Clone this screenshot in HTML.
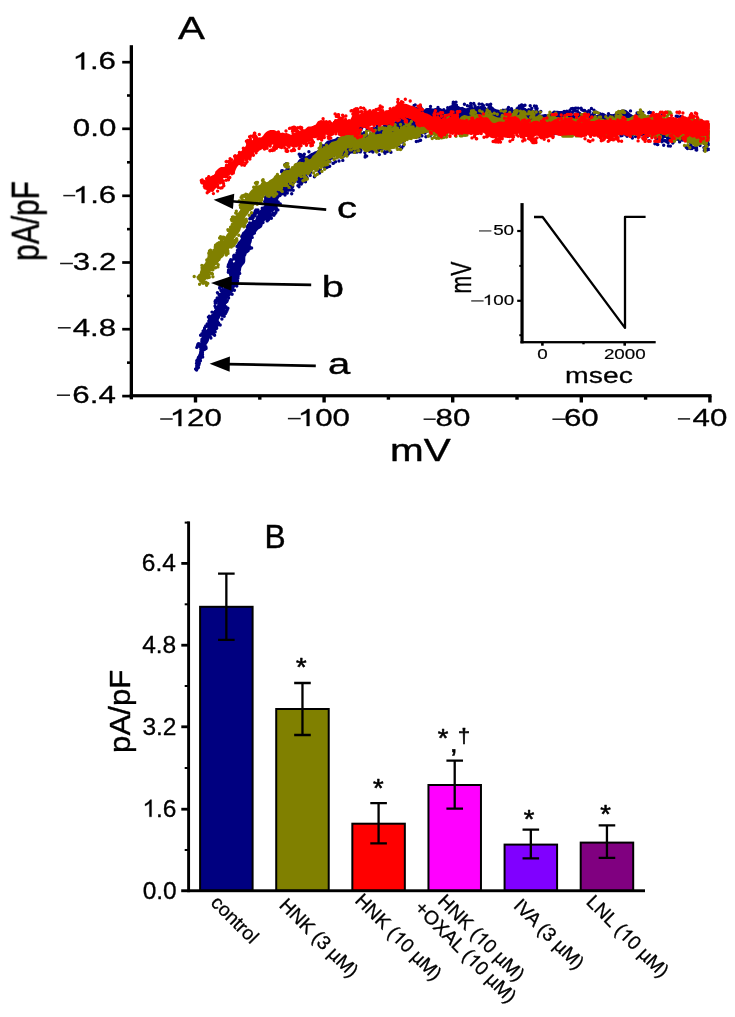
<!DOCTYPE html>
<html><head><meta charset="utf-8"><title>Figure</title>
<style>html,body{margin:0;padding:0;background:#fff;}svg{display:block;}text{font-family:"Liberation Sans",sans-serif;fill:#000;}</style>
</head><body>
<svg width="735" height="1017" viewBox="0 0 735 1017">
<rect width="735" height="1017" fill="#fff"/>
<defs><clipPath id="cpA"><rect x="0" y="0" width="709.8" height="440"/></clipPath></defs>
<g clip-path="url(#cpA)"><path d="M197.7 369.2 198.0 368.3 198.3 367.5 198.6 366.6 198.8 365.8 199.0 364.9 199.3 364.1 199.5 363.2 199.7 362.4 199.8 361.5 200.0 360.7 200.1 359.8 200.3 358.9 200.5 358.1 200.8 357.2 201.1 356.4 201.4 355.6 201.8 354.8 202.2 354.0 202.6 353.2 203.0 352.4 203.4 351.6 203.7 350.8 204.0 350.0 204.2 349.2 204.5 348.4 204.9 347.6 205.2 346.8 205.6 346.1 206.1 345.3 206.6 344.6 207.0 343.9 207.5 343.2 208.0 342.5 208.4 341.7 208.8 341.0 209.0 340.1 209.2 339.3 209.3 338.4 209.5 337.5 209.7 336.6 210.1 335.8 210.7 335.1 211.3 334.4 212.1 333.8 212.9 333.1 213.7 332.5 214.5 331.9 215.2 331.2 215.8 330.5 216.2 329.7 216.6 328.9 217.0 328.1 217.3 327.3 217.7 326.5 217.7 325.6 217.6 324.6 217.5 323.6 217.5 322.6 217.7 321.7 218.0 320.9 218.4 320.1 218.8 319.4 219.3 318.6 219.7 317.9 220.1 317.1 220.4 316.3 220.8 315.5 221.2 314.8 221.7 314.0 222.2 313.3 222.8 312.6 223.4 311.9 224.0 311.2 224.5 310.5 225.0 309.8 225.4 308.9 225.6 308.0 225.7 307.1 225.7 306.0 225.6 305.0 225.5 303.9 225.5 302.9 225.6 302.0 225.8 301.1 226.2 300.2 226.7 299.5 227.3 298.7 227.8 298.0 228.3 297.2 228.7 296.5 229.0 295.7 229.4 295.0 229.9 294.3 230.6 293.7 231.4 293.1 232.2 292.6 232.8 292.0 233.2 291.3 233.5 290.5 233.7 289.6 234.0 288.8 234.3 287.9 234.7 287.1 235.3 286.4 235.9 285.6 236.2 284.8 236.6 283.9 237.0 283.0 237.3 282.1 237.7 281.3 238.0 280.4 238.3 279.6 238.7 278.7 239.0 277.9 239.2 277.1 239.4 276.2 239.5 275.3 239.7 274.4 239.9 273.6 240.2 272.8 240.5 272.0 240.8 271.1 241.0 270.3 241.1 269.4 241.2 268.6 241.4 267.7 241.7 266.9 242.2 266.2 242.7 265.5 243.4 264.8 244.0 264.1 244.5 263.4 245.0 262.6 245.2 261.7 245.3 260.8 245.3 259.8 245.3 258.8 245.3 257.8 245.4 256.9 245.6 255.9 245.9 255.1 246.1 254.2 246.5 253.4 246.9 252.6 247.3 251.8 247.8 251.0 248.3 250.3 248.7 249.5 249.0 248.7 249.3 247.9 249.5 247.0 249.6 246.2 249.9 245.4 250.2 244.6 250.6 243.9 251.1 243.2 251.5 242.4 251.7 241.6 251.9 240.8 251.9 239.9 252.0 239.0 252.1 238.1 252.4 237.3 252.7 236.5 253.2 235.8 253.7 235.2 254.2 234.5 254.8 233.9 255.3 233.2 255.8 232.5 256.3 231.9 256.7 231.2 257.1 230.5 257.7 229.9 258.3 229.3 259.1 228.9 260.0 228.5 260.8 228.0 261.5 227.5 262.0 226.8 262.4 226.0 262.6 225.0 262.9 224.1 263.2 223.2 263.5 222.4 264.0 221.7 264.5 221.0 265.1 220.4 265.7 219.7 266.2 219.0 266.6 218.2 267.0 217.4 267.5 216.7 268.1 216.0 268.7 215.4 269.5 214.8 270.2 214.1 270.9 213.5 271.5 212.7 272.1 212.0 272.8 211.3 273.6 210.7 274.4 210.1 275.1 209.5 275.7 208.8 276.0 208.0 276.1 207.1 276.2 206.1 276.2 205.1 276.3 204.2 276.5 203.4 276.8 202.7 277.2 201.9 277.5 201.2 277.9 200.4 278.2 199.5 278.5 198.7 278.9 197.9 279.5 197.3 280.1 196.6 280.7 196.0 281.7 195.6 282.7 195.3 283.7 194.9 284.6 194.5 285.3 193.9 286.0 193.2 286.6 192.4 287.2 191.7 287.7 190.9 288.1 190.1 288.7 189.4 289.3 188.7 290.0 188.2 290.9 187.7 291.8 187.3 292.5 186.9 293.1 186.4 293.5 185.7 293.7 184.9 293.6 183.9 293.4 182.8 293.3 181.8 293.5 181.0 294.1 180.7 295.0 180.7 296.1 181.0 297.2 181.4 298.3 181.7 299.2 181.8 300.0 181.7 300.7 181.4 301.4 180.9 302.1 180.3 302.9 179.6 303.6 178.8 304.4 178.0 305.0 177.2 305.5 176.5 306.0 175.6 306.5 174.8 307.0 174.0 307.5 173.2 308.1 172.5 308.8 172.0 309.6 171.5 310.3 171.1 311.1 170.6 311.8 170.1 312.5 169.6 313.4 169.3 314.3 169.0 315.3 168.8 316.3 168.4 317.1 168.0 317.7 167.4 318.4 166.8 319.0 166.2 319.8 165.7 320.5 165.2 321.4 164.8 322.2 164.5 323.0 164.1 323.8 163.7 324.5 163.3 325.2 162.9 325.9 162.4 326.6 161.9 327.3 161.5 328.1 161.2 328.8 160.8 329.5 160.4 330.1 159.9 330.6 159.2 331.0 158.3 331.3 157.4 331.5 156.4 331.9 155.5 332.3 154.8 332.8 154.3 333.4 153.9 334.1 153.7 334.8 153.7 335.4 153.6 336.1 153.6 336.7 153.4 337.4 153.1 338.1 152.7 338.9 152.3 339.7 152.2 340.5 152.3 341.5 153.0 342.5 154.0 343.7 155.2 345.0 156.3 346.3 157.0 347.4 157.1 348.1 156.6 348.8 155.8 349.5 154.9 350.2 154.1 351.0 153.6 351.9 153.5 352.8 153.6 353.8 153.8 354.8 153.9 355.7 153.8 356.6 153.2 357.3 152.3 358.1 151.3 358.8 150.1 359.5 149.3 360.4 149.1 361.3 148.9 362.1 148.7 363.0 148.5 363.9 148.5 364.8 148.8 365.8 148.9 366.7 149.1 367.7 149.3 368.7 149.6 369.7 150.1 370.8 150.6 371.9 151.1 372.9 151.5 373.9 151.6 374.7 151.2 375.5 150.5 376.1 149.5 376.8 148.5 377.5 147.7 378.4 147.3 379.3 147.4 380.5 147.8 381.6 148.4 382.7 148.8 383.8 149.0 384.8 149.0 385.7 148.7 386.5 148.0 387.2 147.0 387.8 145.8 388.5 144.6 389.2 143.6 389.9 142.9 390.8 142.5 391.9 142.3 392.9 142.1 393.9 142.0 394.9 141.9 395.9 141.7 396.9 141.5 397.8 141.2 398.7 141.0 399.6 140.6 400.4 140.3 401.3 140.1 402.2 139.9 403.1 139.7 403.9 139.4 404.6 139.0 405.2 138.6 405.9 138.2 406.6 137.7 407.1 137.2 407.6 136.7 408.1 136.0 408.7 135.3 409.3 134.7 410.0 134.0 410.6 133.5 411.3 132.9 412.0 132.4 412.8 131.9 413.6 131.6 414.4 131.5 415.4 131.6 416.3 131.9 417.3 132.2 418.2 132.3 419.0 132.3 419.9 132.2 420.7 132.2 421.6 132.5 422.6 133.0 423.5 133.4 424.4 133.6 425.1 133.3 425.8 132.9 426.3 131.8 426.7 130.6 427.3 129.2 427.8 127.9 428.4 126.8 429.1 126.0 429.8 125.5 430.6 125.1 431.5 125.0 432.3 124.9 433.2 124.9 434.1 124.9 434.9 125.0 435.8 125.1 436.7 125.2 437.5 125.3 438.3 125.2 439.2 125.0 439.9 124.7 440.7 124.3 441.6 124.1 442.4 124.2 443.2 124.5 444.1 124.9 445.0 125.4 445.8 125.7 446.7 125.7 447.4 125.3 448.2 124.7 449.0 123.8 449.7 122.8 450.4 122.0 451.3 121.4 452.1 120.9 452.9 120.6 453.7 120.5 454.6 120.5 455.4 120.5 456.3 120.5 457.1 120.7 457.9 121.2 458.8 121.6 459.6 122.0 460.5 122.1 461.3 122.3 462.2 122.4 463.0 122.7 463.8 122.9 464.7 123.1 465.6 123.0 466.5 122.9 467.4 122.5 468.3 122.2 469.2 122.0 470.1 121.9 470.9 122.1 471.8 122.5 472.7 123.1 473.5 123.6 474.4 124.1 475.3 124.4 476.2 124.3 477.1 123.9 478.1 123.3 479.0 122.5 479.9 121.7 480.8 121.3 481.7 121.4 482.6 121.4 483.5 121.4 484.3 121.8 485.2 122.5 486.1 123.0 487.0 123.3 487.9 123.3 488.7 123.0 489.6 122.5 490.5 122.1 491.4 121.8 492.3 121.8 493.2 122.0 494.0 122.5 494.9 123.0 495.8 123.4 496.7 123.7 497.5 123.9 498.4 124.1 499.3 124.5 500.1 125.1 501.0 125.9 501.9 126.8 502.7 127.5 503.6 127.5 504.5 127.5 505.3 127.5 506.2 127.6 507.1 127.6 507.9 127.6 508.8 127.5 509.7 126.6 510.6 125.8 511.5 125.1 512.4 124.6 513.3 124.3 514.1 124.2 515.0 124.1 515.9 124.2 516.7 124.3 517.6 124.3 518.5 124.1 519.4 123.9 520.2 123.6 521.1 123.2 522.0 122.9 522.9 122.7 523.7 122.6 524.6 122.7 525.5 123.1 526.3 123.6 527.1 124.1 528.0 124.5 528.8 124.9 529.7 125.2 530.5 125.3 531.4 125.4 532.3 125.5 533.1 125.7 534.0 126.0 534.8 126.4 535.6 127.0 536.5 127.6 537.3 128.2 538.1 128.7 539.0 129.0 539.9 129.0 540.8 128.9 541.7 128.7 542.6 128.5 543.5 128.3 544.4 128.4 545.2 128.5 546.1 128.7 547.0 128.7 547.9 128.5 548.8 128.1 549.8 127.3 550.8 126.4 551.7 125.5 552.7 124.9 553.5 124.9 554.4 125.0 555.3 125.0 556.2 125.1 557.1 125.2 558.0 125.2 558.9 125.3 559.8 125.3 560.7 125.4 561.5 125.4 562.4 126.0 563.3 126.4 564.2 126.8 565.0 126.9 565.9 126.9 566.8 126.8 567.7 126.8 568.6 126.9 569.5 127.3 570.3 128.0 571.2 128.9 572.0 129.9 572.9 130.8 573.7 131.5 574.6 131.9 575.5 131.9 576.4 131.9 577.3 131.3 578.2 130.6 579.1 129.7 580.0 129.0 580.9 128.5 581.8 128.1 582.7 127.9 583.6 127.9 584.5 127.9 585.4 127.9 586.3 127.9 587.2 128.0 588.0 128.0 588.9 128.2 589.8 128.6 590.7 129.1 591.6 129.6 592.4 130.1 593.3 130.3 594.2 130.5 595.1 130.5 596.0 130.5 596.9 130.5 597.8 130.3 598.7 130.0 599.6 129.5 600.5 129.0 601.4 128.5 602.4 128.3 603.3 128.4 604.3 128.8 605.3 129.4 606.2 130.0 607.2 130.5 608.2 130.7 609.1 130.6 610.1 130.3 611.0 130.2 611.9 130.1 612.8 130.2 613.7 130.3 614.5 130.3 615.3 130.1 616.1 129.8 616.9 129.2 617.6 128.6 618.3 128.0 619.1 127.5 619.9 127.0 620.6 126.6 621.3 126.3 622.2 126.2 622.9 126.2 623.6 126.5 624.3 127.0 625.0 127.7 625.5 128.4 626.1 129.2 626.8 129.9 627.3 130.5 627.8 131.0 628.6 131.5 629.2 131.7 629.9 131.9 630.7 132.1 631.6 132.2 632.4 132.2 633.2 132.3 634.1 132.4 634.9 132.6 635.8 132.9 636.6 133.3 637.4 133.8 638.2 134.2 639.0 134.6 639.9 134.9 640.9 135.1 641.8 135.2 642.9 135.3 643.9 135.6 644.7 135.9 645.7 136.3 646.7 136.6 647.7 136.7 648.8 136.7 649.8 136.4 650.8 136.1 651.8 135.7 652.8 135.4 653.8 135.2 654.7 135.3 655.6 135.6 656.4 136.2 657.2 137.0 658.0 137.8 658.8 138.6 659.7 139.1 660.5 139.3 661.5 139.3 662.4 139.0 663.4 138.6 664.3 138.2 665.2 138.0 666.1 138.0 667.0 138.4 667.8 139.1 668.6 139.8 669.4 140.5 670.2 141.0 671.1 141.3 671.9 141.2 672.8 141.0 673.7 140.7 674.7 140.4 675.5 140.3 676.4 140.4 677.2 140.7 678.0 141.0 678.8 141.4 679.6 141.6 680.5 141.7 681.3 141.6 682.2 141.5 683.1 141.5 684.0 141.5 684.9 141.6 685.8 141.5 686.7 141.3 687.6 141.0 688.5 140.8 689.4 140.8 690.3 140.9 691.1 141.1 692.0 141.2 692.9 141.1 693.9 140.9 694.8 140.6 695.7 140.4 696.6 140.5 697.5 140.7 698.3 141.1 699.2 141.6 700.0 142.1 700.9 142.7 701.8 143.3 702.6 144.1 703.5 144.9 704.4 145.5 705.3 145.7 706.2 145.4 707.1 144.7 708.0 143.7 709.6 129.4 708.6 130.0 707.6 130.4 706.7 130.4 705.9 129.9 705.2 129.0 704.4 128.0 703.7 127.0 703.0 126.2 702.2 125.5 701.5 125.0 700.7 124.4 699.9 124.0 699.1 123.7 698.3 123.7 697.4 123.8 696.4 124.1 695.5 124.3 694.6 124.4 693.8 124.3 692.9 124.1 692.0 124.0 691.1 124.1 690.2 124.3 689.2 124.6 688.3 124.8 687.4 124.9 686.5 124.9 685.6 124.9 684.7 124.9 683.8 125.0 682.9 125.1 682.0 125.0 681.1 124.7 680.2 124.4 679.3 124.0 678.5 123.8 677.6 123.7 676.6 123.8 675.7 124.0 674.8 124.3 673.9 124.5 673.0 124.6 672.1 124.3 671.3 123.8 670.5 123.1 669.7 122.4 668.9 121.7 668.0 121.3 667.2 121.3 666.3 121.5 665.3 121.9 664.4 122.3 663.5 122.6 662.6 122.6 661.8 122.4 661.0 121.9 660.2 121.2 659.5 120.3 658.8 119.6 658.0 119.0 657.2 118.7 656.4 118.6 655.5 118.8 654.6 119.1 653.7 119.5 652.9 119.9 651.9 120.2 651.2 120.3 650.4 120.2 649.7 120.0 649.0 119.6 648.2 119.3 647.5 119.1 646.7 119.1 645.8 119.0 645.1 118.9 644.3 118.6 643.5 118.2 642.8 117.8 642.1 117.4 641.3 117.0 640.4 116.6 639.6 116.4 638.7 116.3 637.7 116.2 636.8 116.1 635.8 116.0 634.9 115.8 633.9 115.5 633.0 115.2 632.2 114.7 631.2 114.1 630.2 113.4 629.4 112.7 628.4 111.8 627.3 111.0 626.4 110.3 625.3 109.8 624.1 109.5 622.9 109.5 621.9 109.6 620.8 110.0 619.6 110.4 618.5 110.9 617.6 111.5 616.6 112.2 615.7 112.8 614.7 113.4 613.8 113.9 613.0 114.1 612.1 114.2 611.2 114.1 610.3 114.1 609.4 114.2 608.6 114.4 607.8 114.6 606.9 114.8 606.1 114.6 605.3 114.2 604.4 113.6 603.6 113.1 602.8 112.7 602.0 112.6 601.3 112.9 600.4 113.4 599.6 113.9 598.7 114.5 597.9 114.8 597.0 115.0 596.1 115.1 595.2 115.1 594.4 115.1 593.5 115.0 592.6 114.7 591.8 114.3 590.9 113.8 590.0 113.4 589.2 113.0 588.3 112.9 587.4 112.8 586.5 112.8 585.7 112.8 584.8 112.8 583.9 112.8 583.1 112.9 582.2 113.2 581.3 113.5 580.4 114.1 579.5 114.9 578.6 115.7 577.7 116.5 576.8 117.1 576.0 117.2 575.1 117.2 574.2 116.8 573.4 116.1 572.5 115.2 571.7 114.3 570.8 113.4 570.0 112.7 569.1 112.3 568.3 112.2 567.4 112.3 566.5 112.4 565.6 112.4 564.8 112.3 563.9 112.0 563.1 111.5 562.2 111.0 561.4 111.0 560.5 110.9 559.7 110.9 558.8 110.9 558.0 110.8 557.1 110.8 556.3 110.7 555.4 110.7 554.6 110.6 553.7 110.6 552.8 111.2 551.8 112.1 550.9 113.1 550.0 113.8 549.1 114.3 548.2 114.4 547.3 114.4 546.4 114.2 545.6 114.1 544.7 114.1 543.8 114.2 542.9 114.4 542.0 114.6 541.1 114.7 540.2 114.7 539.4 114.4 538.5 114.0 537.7 113.3 536.9 112.7 536.0 112.1 535.2 111.7 534.3 111.4 533.4 111.2 532.5 111.1 531.7 111.0 530.8 110.8 529.9 110.6 529.0 110.2 528.2 109.7 527.3 109.2 526.4 108.7 525.6 108.4 524.7 108.2 523.7 108.3 522.8 108.5 521.9 108.8 521.0 109.2 520.0 109.5 519.1 109.7 518.2 109.9 517.3 109.9 516.4 109.8 515.5 109.7 514.7 109.8 513.7 109.9 512.8 110.3 511.9 110.8 511.0 111.4 510.1 112.2 509.2 113.1 508.3 113.3 507.4 113.2 506.5 113.2 505.7 113.2 504.8 113.2 503.9 113.2 503.0 113.1 502.1 112.5 501.3 111.6 500.4 110.7 499.5 110.1 498.7 109.8 497.8 109.6 496.9 109.4 496.0 109.1 495.1 108.7 494.3 108.2 493.4 107.7 492.5 107.4 491.6 107.5 490.8 107.8 489.9 108.2 489.0 108.7 488.1 109.0 487.2 109.0 486.4 108.7 485.5 108.1 484.6 107.5 483.8 107.0 482.9 107.0 482.1 107.0 481.2 107.0 480.3 107.3 479.5 108.1 478.6 108.8 477.7 109.5 476.8 109.9 476.0 109.9 475.1 109.6 474.3 109.1 473.5 108.5 472.6 108.0 471.8 107.5 470.9 107.3 470.0 107.3 469.1 107.5 468.3 107.9 467.3 108.1 466.5 108.3 465.6 108.3 464.7 108.1 463.8 107.8 462.9 107.5 462.0 107.3 461.1 107.2 460.2 106.9 459.3 106.6 458.3 106.1 457.4 105.5 456.5 105.2 455.5 105.2 454.6 105.2 453.5 105.1 452.6 105.2 451.6 105.4 450.6 105.8 449.7 106.4 448.7 107.2 447.8 108.1 447.0 108.9 446.1 109.6 445.1 109.8 444.2 109.8 443.2 109.4 442.2 108.9 441.2 108.4 440.2 108.0 439.2 107.9 438.4 108.1 437.4 108.3 436.5 108.6 435.6 108.8 434.6 108.8 433.6 108.6 432.7 108.4 431.7 108.2 430.7 108.1 429.7 108.0 428.8 107.9 427.8 107.9 426.8 108.0 425.9 108.3 425.1 108.8 424.3 109.5 423.6 110.5 422.9 111.7 422.3 113.0 421.7 114.2 420.9 115.2 420.1 115.6 419.2 115.8 418.1 115.6 417.0 115.0 415.8 114.5 414.7 114.1 413.6 114.0 412.7 114.0 411.6 114.0 410.6 113.8 409.4 113.4 408.2 113.1 407.1 112.9 406.2 113.0 405.3 113.2 404.4 113.7 403.6 114.2 402.8 114.7 402.1 115.3 401.3 115.9 400.6 116.6 399.9 117.4 399.1 118.2 398.2 118.9 397.4 119.6 396.7 120.2 395.9 120.8 395.1 121.4 394.3 121.9 393.5 122.3 392.6 122.6 391.8 122.9 391.0 123.3 390.2 123.7 389.5 124.1 388.7 124.4 387.9 124.7 387.2 125.0 386.4 125.2 385.6 125.3 384.8 125.5 384.1 125.6 383.4 125.8 382.8 126.2 382.3 126.8 381.9 127.8 381.6 128.9 381.2 130.1 380.6 131.1 380.0 131.8 379.3 132.2 378.4 132.2 377.5 131.9 376.5 131.5 375.4 131.0 374.5 130.6 373.6 130.5 372.8 130.9 372.2 131.7 371.6 132.7 371.0 133.8 370.3 134.5 369.5 134.8 368.6 134.8 367.6 134.4 366.6 133.9 365.6 133.4 364.6 133.0 363.6 132.7 362.6 132.5 361.7 132.4 360.8 132.3 359.8 132.1 358.9 132.1 358.1 132.3 357.2 132.6 356.4 132.8 355.6 133.0 355.0 133.9 354.4 135.1 353.9 136.2 353.2 137.1 352.5 137.7 351.7 137.9 350.9 137.9 350.0 137.7 349.1 137.6 348.3 137.8 347.5 138.4 346.7 139.3 346.0 140.3 345.2 141.2 344.4 141.7 343.5 141.7 342.7 141.0 341.9 139.9 341.1 138.8 340.2 137.8 339.3 137.3 338.3 137.2 337.3 137.5 336.3 138.0 335.3 138.5 334.1 139.0 332.9 139.3 331.7 139.6 330.4 139.9 329.2 140.2 328.0 140.6 326.9 141.1 325.9 141.9 325.1 142.8 324.5 143.8 323.9 145.0 323.3 146.1 322.8 147.0 322.1 147.7 321.3 148.3 320.5 148.7 319.7 149.1 318.8 149.5 318.0 150.0 317.2 150.4 316.4 150.9 315.6 151.3 314.8 151.7 313.9 152.1 313.1 152.5 312.2 152.8 311.4 153.1 310.5 153.5 309.8 154.0 309.1 154.5 308.5 155.1 307.8 155.6 307.0 156.0 306.2 156.2 305.3 156.3 304.4 156.5 303.6 156.8 302.8 157.2 302.1 157.7 301.3 158.2 300.5 158.6 299.8 159.1 299.1 159.6 298.5 160.3 297.9 161.1 297.5 161.9 297.0 162.8 296.5 163.6 296.0 164.4 295.5 165.2 295.1 165.8 294.6 166.5 294.1 167.1 293.5 167.8 292.8 168.4 292.0 168.8 291.0 169.1 289.9 169.3 288.6 169.2 287.1 169.2 285.7 169.3 284.4 169.8 283.5 170.7 283.0 171.9 282.8 173.4 282.8 174.9 282.8 176.2 282.6 177.3 282.2 178.2 281.6 179.0 280.9 179.6 280.1 180.2 279.3 180.8 278.7 181.4 278.2 182.1 277.8 182.9 277.5 183.7 277.1 184.5 276.8 185.2 276.4 185.9 275.9 186.6 275.3 187.1 274.5 187.6 273.6 187.9 272.7 188.3 271.9 188.7 271.3 189.3 270.8 190.1 270.2 190.8 269.8 191.6 269.5 192.6 269.2 193.5 268.9 194.5 268.5 195.4 268.0 196.3 267.7 197.2 267.4 198.2 267.3 199.3 267.2 200.4 267.2 201.5 267.1 202.4 266.7 203.3 266.2 204.0 265.5 204.6 264.8 205.1 264.1 205.7 263.5 206.3 263.0 206.9 262.6 207.6 262.0 208.2 261.4 208.8 260.8 209.4 260.3 210.1 259.8 210.8 259.4 211.6 259.1 212.5 258.8 213.3 258.3 214.1 257.8 214.8 257.3 215.6 256.7 216.3 256.3 217.1 255.9 217.9 255.6 218.8 255.3 219.7 255.0 220.5 254.6 221.3 254.0 222.0 253.2 222.5 252.3 222.9 251.3 223.3 250.3 223.8 249.5 224.3 248.8 225.0 248.2 225.8 247.6 226.6 247.1 227.4 246.5 228.1 245.8 228.8 245.2 229.5 244.6 230.3 244.0 231.1 243.5 231.9 243.1 232.7 242.8 233.6 242.6 234.6 242.5 235.6 242.5 236.6 242.3 237.5 242.0 238.4 241.7 239.3 241.2 240.1 240.8 240.9 240.5 241.8 240.3 242.7 240.2 243.6 240.1 244.6 239.9 245.4 239.6 246.3 239.2 247.1 238.8 247.9 238.4 248.7 238.1 249.5 237.7 250.3 237.5 251.1 237.3 252.0 237.1 252.8 237.0 253.7 236.9 254.5 237.0 255.5 237.0 256.4 237.1 257.4 237.0 258.3 236.7 259.1 236.3 259.9 235.8 260.6 235.1 261.3 234.5 262.0 234.0 262.7 233.5 263.4 233.1 264.3 232.9 265.1 232.7 266.1 232.6 267.0 232.4 267.9 232.1 268.7 231.8 269.6 231.5 270.4 231.3 271.3 231.1 272.1 231.0 273.0 230.8 273.9 230.5 274.7 230.2 275.6 229.9 276.4 229.6 277.2 229.3 278.0 229.0 278.8 228.7 279.6 228.3 280.4 228.0 281.1 227.6 281.9 227.1 282.6 226.6 283.3 226.1 284.1 225.8 284.9 225.6 285.8 225.4 286.6 225.0 287.5 224.6 288.2 223.9 288.9 223.1 289.6 222.3 290.2 221.5 291.0 221.0 291.8 220.6 292.7 220.3 293.6 220.0 294.4 219.5 295.2 219.0 296.0 218.5 296.7 218.1 297.4 217.8 298.2 217.6 299.0 217.6 299.9 217.7 300.8 217.8 301.7 218.0 302.7 218.1 303.6 218.0 304.6 217.8 305.4 217.4 306.2 217.0 306.9 216.4 307.6 215.8 308.3 215.2 309.0 214.6 309.7 214.1 310.4 213.6 311.2 213.2 312.0 212.8 312.8 212.4 313.6 212.0 314.4 211.6 315.2 211.2 316.0 210.7 316.8 210.4 317.6 210.1 318.4 209.9 319.3 209.9 320.3 210.0 321.3 210.2 322.3 210.2 323.3 209.8 324.1 209.5 324.9 209.2 325.7 208.8 326.5 208.5 327.3 208.0 328.1 207.3 328.7 206.6 329.4 205.8 330.0 205.1 330.6 204.4 331.2 203.9 331.9 203.4 332.7 203.1 333.5 203.0 334.4 202.9 335.3 202.9 336.3 202.9 337.3 202.7 338.2 202.5 339.1 202.2 339.9 201.8 340.7 201.4 341.6 201.1 342.4 200.8 343.3 200.5 344.2 200.3 345.1 200.1 346.0 200.0 346.9 199.9 347.8 199.9 348.8 199.8 349.7 199.7 350.6 199.5 351.4 199.3 352.3 199.0 353.1 198.7 354.0 198.4 354.8 198.1 355.7 197.9 356.5 197.8 357.4 197.6 358.3 197.5 359.2 197.5 360.1 197.4 361.0 197.3 361.8 197.2 362.7 197.1 363.6 197.0 364.5 196.9 365.4 196.8 366.3 196.7 367.1 196.5 368.0 196.3 368.9Z" fill="#000080"/><path d="M197.0 369.0h.01M196.2 368.7h.01M196.6 368.8h.01M197.0 368.3h.01M196.7 368.6h.01M196.9 368.4h.01M195.8 369.2h.01M197.1 368.0h.01M196.7 367.7h.01M196.9 367.3h.01M198.3 363.0h.01M197.5 361.5h.01M197.8 360.8h.01M198.0 361.0h.01M197.8 361.5h.01M198.0 364.7h.01M199.0 362.9h.01M199.0 363.5h.01M199.0 364.0h.01M198.4 367.5h.01M198.6 364.0h.01M198.1 363.5h.01M199.3 363.2h.01M198.8 364.3h.01M198.9 362.7h.01M198.7 360.5h.01M198.6 359.3h.01M197.5 362.0h.01M196.7 365.9h.01M196.9 365.5h.01M197.2 363.7h.01M195.6 368.9h.01M196.6 370.0h.01M196.3 369.8h.01M197.3 368.5h.01M198.8 365.0h.01M197.8 365.1h.01M198.5 362.3h.01M197.4 362.4h.01M198.4 359.9h.01M198.4 361.3h.01M198.3 361.0h.01M198.1 358.5h.01M199.0 358.8h.01M198.0 364.2h.01M199.0 364.3h.01M196.9 361.8h.01M197.3 361.2h.01M196.9 363.2h.01M196.5 363.4h.01M196.8 360.8h.01M199.0 358.6h.01M198.6 357.2h.01M198.7 358.8h.01M197.2 360.3h.01M200.4 355.4h.01M199.7 358.0h.01M201.9 355.4h.01M202.0 355.3h.01M200.7 353.7h.01M201.1 353.2h.01M201.2 354.2h.01M201.2 352.8h.01M201.5 355.4h.01M199.9 355.8h.01M200.7 355.3h.01M197.4 360.5h.01M200.7 357.0h.01M199.9 356.8h.01M200.2 357.1h.01M198.6 358.6h.01M200.3 358.7h.01M198.4 360.8h.01M198.9 362.2h.01M198.4 362.4h.01M198.8 361.0h.01M198.3 359.7h.01M200.4 360.8h.01M199.8 360.6h.01M200.5 358.1h.01M200.2 358.9h.01M200.9 354.4h.01M200.9 352.4h.01M202.5 354.3h.01M202.7 357.1h.01M202.4 355.9h.01M201.8 352.6h.01M201.0 351.7h.01M201.8 351.5h.01M201.3 354.7h.01M202.4 352.4h.01M201.0 354.2h.01M202.3 350.1h.01M203.0 350.1h.01M204.4 346.5h.01M204.4 345.3h.01M202.2 349.9h.01M200.9 349.5h.01M200.8 347.7h.01M203.0 344.9h.01M203.2 345.7h.01M204.0 345.0h.01M204.4 349.6h.01M203.7 348.6h.01M203.7 348.9h.01M206.1 347.9h.01M205.7 347.9h.01M205.9 348.4h.01M206.0 348.5h.01M205.8 346.6h.01M203.1 342.1h.01M203.8 340.6h.01M204.3 338.7h.01M201.8 341.1h.01M198.4 343.6h.01M197.5 345.7h.01M196.8 347.4h.01M199.4 346.2h.01M202.3 346.9h.01M201.4 346.6h.01M203.0 341.0h.01M201.9 341.4h.01M202.0 339.2h.01M202.0 339.4h.01M202.7 342.6h.01M197.8 344.5h.01M201.7 346.8h.01M199.6 343.9h.01M202.7 343.1h.01M204.6 340.3h.01M206.2 339.7h.01M207.3 335.7h.01M207.0 338.1h.01M204.9 339.3h.01M205.3 337.5h.01M203.2 337.2h.01M205.7 335.7h.01M207.7 333.1h.01M206.4 332.4h.01M205.1 333.6h.01M204.9 340.3h.01M205.4 340.8h.01M206.0 339.8h.01M204.5 342.2h.01M202.9 339.5h.01M205.9 339.6h.01M204.4 338.0h.01M207.5 336.7h.01M210.5 334.2h.01M210.6 337.4h.01M210.9 338.0h.01M209.2 336.3h.01M212.9 334.1h.01M214.6 335.2h.01M212.7 333.2h.01M210.7 332.5h.01M211.2 332.7h.01M210.6 332.3h.01M215.1 331.9h.01M215.1 331.4h.01M212.8 328.7h.01M212.8 329.4h.01M212.7 331.0h.01M210.5 330.7h.01M210.8 328.8h.01M210.4 329.1h.01M208.7 332.8h.01M208.2 331.3h.01M207.0 333.8h.01M203.6 337.5h.01M200.6 335.2h.01M203.6 331.3h.01M204.5 329.3h.01M204.6 327.9h.01M204.4 330.1h.01M203.7 332.4h.01M201.9 333.7h.01M205.2 335.3h.01M206.6 336.9h.01M206.2 335.4h.01M206.3 334.0h.01M206.0 335.4h.01M207.5 333.8h.01M204.8 337.3h.01M206.2 338.0h.01M205.4 337.6h.01M205.1 337.8h.01M204.3 336.5h.01M204.8 335.9h.01M205.8 334.3h.01M203.1 331.1h.01M202.2 334.2h.01M203.2 330.9h.01M208.3 331.2h.01M209.1 327.8h.01M213.5 326.0h.01M214.3 322.3h.01M212.0 319.0h.01M209.4 319.0h.01M209.2 316.3h.01M208.4 317.1h.01M210.9 320.2h.01M210.8 320.6h.01M214.3 318.2h.01M212.2 315.8h.01M212.1 316.7h.01M214.9 318.9h.01M217.0 323.0h.01M211.3 318.7h.01M205.7 325.9h.01M207.1 325.5h.01M206.8 325.6h.01M206.5 326.3h.01M207.8 323.9h.01M207.2 323.9h.01M213.4 322.4h.01M209.8 324.0h.01M210.9 318.7h.01M209.5 320.0h.01M213.3 319.9h.01M210.3 320.3h.01M211.1 322.1h.01M212.4 322.4h.01M218.5 322.9h.01M220.2 325.0h.01M217.3 325.3h.01M216.3 325.8h.01M213.1 327.1h.01M212.8 329.1h.01M215.7 328.6h.01M214.2 324.7h.01M214.8 322.3h.01M213.7 321.7h.01M216.1 321.9h.01M216.7 328.2h.01M209.3 326.0h.01M211.5 326.7h.01M210.1 323.8h.01M208.8 321.1h.01M211.3 321.7h.01M214.1 322.2h.01M213.0 315.6h.01M216.9 319.7h.01M214.9 318.5h.01M213.5 318.8h.01M217.5 321.9h.01M213.4 320.4h.01M214.5 319.9h.01M214.7 321.3h.01M218.0 317.4h.01M214.9 316.4h.01M213.3 316.1h.01M214.7 312.7h.01M220.0 311.5h.01M218.0 308.3h.01M220.6 307.7h.01M215.4 311.4h.01M214.4 312.7h.01M216.4 314.5h.01M214.1 315.3h.01M222.3 315.0h.01M221.3 312.5h.01M221.7 315.3h.01M221.9 319.0h.01M217.1 320.4h.01M212.0 320.2h.01M214.5 319.6h.01M214.6 317.0h.01M213.8 317.3h.01M214.7 313.1h.01M212.0 312.1h.01M216.8 313.0h.01M215.5 315.1h.01M215.7 315.4h.01M216.9 318.5h.01M214.9 316.5h.01M217.8 314.8h.01M214.7 313.3h.01M218.2 314.7h.01M218.7 311.4h.01M217.5 311.8h.01M220.8 310.3h.01M219.4 309.0h.01M221.0 311.6h.01M219.6 313.0h.01M218.1 311.3h.01M221.2 310.1h.01M220.5 310.3h.01M219.8 313.1h.01M223.1 315.4h.01M221.6 311.6h.01M222.1 310.7h.01M221.4 310.7h.01M223.8 311.7h.01M227.9 308.3h.01M224.0 313.6h.01M224.2 316.2h.01M225.7 313.1h.01M226.5 311.3h.01M227.0 310.3h.01M226.3 311.9h.01M227.3 309.6h.01M226.6 311.2h.01M226.2 312.1h.01M225.5 313.5h.01M226.4 311.6h.01M222.9 312.5h.01M223.3 310.4h.01M223.9 311.4h.01M227.0 310.4h.01M226.6 310.8h.01M222.2 304.2h.01M222.3 305.0h.01M225.9 306.8h.01M225.5 307.8h.01M221.9 307.3h.01M221.1 306.6h.01M219.7 305.1h.01M217.2 307.5h.01M215.7 307.7h.01M215.0 306.1h.01M218.6 308.5h.01M218.1 307.3h.01M215.3 303.2h.01M215.6 300.5h.01M217.2 297.9h.01M221.5 298.5h.01M219.6 294.7h.01M218.2 298.8h.01M218.4 300.5h.01M215.1 301.4h.01M216.3 302.8h.01M219.3 301.4h.01M219.3 301.2h.01M218.8 305.3h.01M219.5 300.0h.01M222.4 298.6h.01M222.2 298.4h.01M223.0 299.9h.01M219.1 300.6h.01M220.5 303.3h.01M219.0 304.7h.01M219.8 302.2h.01M219.3 304.9h.01M220.8 302.7h.01M223.7 299.8h.01M219.2 298.0h.01M219.1 294.8h.01M217.4 292.6h.01M217.6 292.9h.01M220.9 294.2h.01M223.9 291.2h.01M225.7 288.2h.01M222.1 291.1h.01M223.4 291.7h.01M222.2 295.5h.01M222.9 296.5h.01M222.7 293.0h.01M224.3 293.2h.01M225.4 295.4h.01M226.0 293.6h.01M225.9 291.9h.01M226.3 290.8h.01M225.3 288.5h.01M227.2 289.2h.01M228.1 289.5h.01M230.6 289.8h.01M234.4 290.3h.01M236.8 286.1h.01M230.6 287.8h.01M229.9 290.7h.01M232.1 294.3h.01M228.4 297.3h.01M224.2 297.5h.01M227.3 300.6h.01M228.6 298.1h.01M227.9 294.8h.01M224.6 296.5h.01M225.4 296.3h.01M224.7 298.6h.01M225.2 299.4h.01M223.2 296.7h.01M222.4 296.1h.01M221.0 295.0h.01M221.0 290.5h.01M225.3 290.9h.01M228.7 294.2h.01M225.5 294.3h.01M222.7 296.0h.01M221.4 294.6h.01M228.2 293.3h.01M230.3 291.1h.01M228.4 290.8h.01M228.3 293.3h.01M229.1 294.5h.01M228.2 297.0h.01M226.8 301.5h.01M224.4 304.7h.01M225.8 302.4h.01M223.5 301.1h.01M220.4 301.3h.01M219.9 296.7h.01M224.2 295.0h.01M219.6 288.0h.01M225.3 289.8h.01M222.9 289.8h.01M225.5 288.4h.01M226.3 291.0h.01M225.4 290.7h.01M226.5 287.5h.01M227.6 290.4h.01M230.1 290.6h.01M226.6 289.3h.01M225.5 291.2h.01M223.3 284.8h.01M221.2 286.5h.01M219.9 286.9h.01M221.5 286.9h.01M227.7 286.2h.01M232.0 286.7h.01M228.1 286.6h.01M230.3 289.1h.01M229.2 286.0h.01M228.8 285.6h.01M227.3 284.9h.01M232.0 286.3h.01M233.7 285.9h.01M228.5 283.9h.01M229.8 281.0h.01M232.1 277.0h.01M230.8 279.3h.01M230.3 280.2h.01M231.4 278.8h.01M232.0 278.4h.01M229.5 278.9h.01M236.9 284.1h.01M236.5 285.2h.01M236.9 283.2h.01M237.6 281.1h.01M234.3 282.1h.01M236.5 281.9h.01M233.0 283.1h.01M234.1 280.0h.01M231.2 279.6h.01M233.3 281.5h.01M230.7 282.4h.01M233.8 281.5h.01M232.9 278.3h.01M230.0 280.4h.01M231.3 277.5h.01M230.2 278.9h.01M230.3 279.4h.01M230.0 280.5h.01M230.6 277.6h.01M230.4 272.5h.01M230.5 274.5h.01M231.1 272.3h.01M228.3 272.2h.01M233.7 270.1h.01M234.6 270.5h.01M228.5 270.1h.01M229.2 266.9h.01M230.9 267.8h.01M232.4 268.0h.01M232.2 266.4h.01M228.1 266.7h.01M231.1 267.4h.01M233.8 268.0h.01M236.2 268.5h.01M233.8 272.5h.01M235.5 273.0h.01M235.2 270.7h.01M232.5 267.8h.01M236.1 270.6h.01M236.9 270.8h.01M239.7 273.4h.01M237.8 274.0h.01M237.8 276.6h.01M237.8 275.6h.01M238.0 273.2h.01M232.3 270.2h.01M234.2 268.9h.01M232.1 267.7h.01M236.4 268.5h.01M234.9 267.8h.01M235.2 267.5h.01M231.7 268.9h.01M232.2 269.3h.01M230.9 271.0h.01M234.3 274.3h.01M232.4 267.9h.01M232.7 269.7h.01M230.9 271.0h.01M229.3 278.6h.01M233.3 278.4h.01M235.3 277.4h.01M231.6 279.4h.01M234.9 279.1h.01M233.8 275.4h.01M237.9 278.3h.01M234.3 272.8h.01M235.7 272.6h.01M231.8 268.7h.01M231.1 269.6h.01M231.1 268.4h.01M228.4 265.1h.01M230.0 263.2h.01M231.4 265.0h.01M232.2 266.2h.01M230.6 262.0h.01M233.7 264.6h.01M230.4 264.2h.01M230.4 263.7h.01M230.4 265.7h.01M231.6 262.7h.01M231.9 266.2h.01M233.2 267.7h.01M233.9 265.7h.01M232.6 264.5h.01M232.7 266.4h.01M233.5 264.1h.01M230.4 261.0h.01M231.3 260.7h.01M229.8 261.8h.01M230.4 260.6h.01M228.8 264.3h.01M230.0 261.5h.01M230.8 259.6h.01M229.4 262.9h.01M228.4 265.2h.01M231.5 267.4h.01M234.3 267.2h.01M237.4 263.3h.01M236.8 263.0h.01M238.6 260.0h.01M238.7 258.7h.01M238.6 258.8h.01M233.7 259.1h.01M234.8 256.7h.01M234.2 255.1h.01M235.2 259.0h.01M236.8 260.8h.01M233.7 255.9h.01M233.8 257.7h.01M235.8 255.8h.01M240.6 256.7h.01M239.6 255.3h.01M240.1 256.4h.01M238.6 255.6h.01M240.4 253.2h.01M240.5 251.9h.01M234.2 256.8h.01M239.5 260.3h.01M242.4 257.9h.01M237.4 258.8h.01M236.6 258.8h.01M236.6 259.9h.01M238.1 256.4h.01M236.5 257.7h.01M240.4 256.9h.01M240.9 255.3h.01M244.3 252.0h.01M240.2 249.4h.01M246.5 251.8h.01M246.3 251.2h.01M242.9 250.4h.01M246.0 252.1h.01M248.0 250.8h.01M240.7 253.3h.01M243.2 256.6h.01M242.3 254.5h.01M241.2 250.0h.01M242.1 250.1h.01M237.9 249.6h.01M238.8 250.5h.01M236.9 253.0h.01M242.2 253.4h.01M243.3 250.7h.01M245.0 249.4h.01M243.2 247.6h.01M246.3 246.1h.01M243.3 246.0h.01M244.0 245.3h.01M246.3 246.3h.01M242.6 247.7h.01M237.8 246.7h.01M237.0 246.4h.01M244.3 245.3h.01M249.2 246.6h.01M249.0 246.5h.01M248.0 243.2h.01M245.2 246.5h.01M245.9 250.5h.01M241.6 248.6h.01M247.2 248.9h.01M249.5 248.7h.01M251.6 248.0h.01M249.0 246.3h.01M247.2 251.3h.01M246.7 250.6h.01M244.4 251.5h.01M240.3 247.0h.01M242.4 245.3h.01M238.7 246.2h.01M241.3 247.5h.01M239.7 248.7h.01M240.8 244.0h.01M243.8 243.7h.01M247.8 241.5h.01M247.7 239.2h.01M245.5 239.2h.01M243.6 238.4h.01M241.5 240.9h.01M241.3 240.8h.01M246.6 243.4h.01M249.5 246.4h.01M240.3 246.3h.01M239.7 243.9h.01M238.3 244.8h.01M244.8 254.4h.01M237.5 250.4h.01M238.0 246.1h.01M243.6 244.5h.01M243.0 242.6h.01M242.3 243.3h.01M243.8 243.2h.01M243.4 241.4h.01M240.5 241.9h.01M239.2 242.9h.01M239.6 243.9h.01M240.3 243.6h.01M241.9 243.7h.01M239.6 243.7h.01M241.7 242.6h.01M242.6 241.8h.01M244.0 239.6h.01M244.0 242.6h.01M246.6 239.5h.01M241.9 242.7h.01M242.4 241.5h.01M244.2 240.1h.01M243.4 236.7h.01M245.7 235.9h.01M248.7 232.3h.01M251.5 234.9h.01M248.4 237.7h.01M249.1 244.0h.01M242.2 240.7h.01M244.7 241.5h.01M243.3 243.3h.01M242.3 239.2h.01M244.2 236.6h.01M247.7 237.4h.01M247.9 236.7h.01M241.7 236.5h.01M243.6 235.4h.01M245.5 232.9h.01M248.9 235.5h.01M247.4 235.2h.01M247.3 237.5h.01M247.5 235.3h.01M242.9 234.8h.01M244.2 233.9h.01M244.3 236.1h.01M244.3 236.2h.01M244.8 234.5h.01M247.0 235.6h.01M245.4 233.9h.01M248.3 235.9h.01M247.1 238.0h.01M252.2 237.4h.01M243.5 236.6h.01M244.8 236.9h.01M243.7 233.2h.01M244.0 233.3h.01M246.7 233.0h.01M246.5 235.1h.01M246.5 232.5h.01M254.4 233.1h.01M248.8 229.0h.01M247.7 231.6h.01M249.5 234.0h.01M248.5 228.3h.01M250.1 227.2h.01M250.3 228.3h.01M248.8 228.5h.01M248.0 227.2h.01M247.7 226.6h.01M254.3 228.4h.01M252.4 226.3h.01M252.9 225.2h.01M253.3 221.4h.01M255.3 224.5h.01M249.8 225.1h.01M250.6 227.0h.01M253.6 225.5h.01M253.9 225.7h.01M255.5 227.7h.01M256.3 229.0h.01M250.9 230.3h.01M252.7 230.6h.01M248.7 230.0h.01M250.3 225.4h.01M251.4 228.3h.01M250.7 229.7h.01M250.0 229.7h.01M248.3 225.3h.01M247.1 226.7h.01M248.3 226.0h.01M248.4 227.8h.01M252.6 222.9h.01M255.0 221.9h.01M254.6 222.2h.01M256.5 224.4h.01M257.9 224.3h.01M257.3 227.9h.01M258.1 227.2h.01M256.5 221.3h.01M253.1 223.1h.01M254.0 226.8h.01M252.7 228.5h.01M253.1 226.7h.01M249.8 224.6h.01M249.7 222.9h.01M254.3 221.6h.01M252.5 218.7h.01M250.4 217.9h.01M252.1 215.6h.01M250.3 218.1h.01M249.8 218.7h.01M251.3 216.8h.01M253.1 217.9h.01M255.4 213.7h.01M252.1 216.1h.01M251.2 218.2h.01M250.9 217.3h.01M251.3 216.8h.01M252.8 214.7h.01M253.6 213.9h.01M254.7 212.7h.01M255.2 211.5h.01M253.5 213.8h.01M254.3 215.1h.01M253.0 215.2h.01M255.6 210.9h.01M258.4 213.1h.01M261.7 212.9h.01M260.6 213.3h.01M261.2 213.5h.01M257.9 209.9h.01M259.2 213.6h.01M255.3 212.6h.01M257.2 212.6h.01M261.2 214.3h.01M262.0 212.0h.01M262.9 214.7h.01M263.9 213.3h.01M266.8 213.1h.01M262.0 211.3h.01M259.7 212.2h.01M255.3 210.9h.01M256.0 210.0h.01M253.7 213.9h.01M255.8 210.5h.01M255.3 215.9h.01M257.7 219.0h.01M258.5 219.5h.01M259.5 219.0h.01M263.0 222.5h.01M260.6 223.3h.01M258.8 221.3h.01M261.7 217.1h.01M267.2 220.9h.01M269.1 218.8h.01M262.8 216.4h.01M265.9 216.5h.01M271.1 215.4h.01M269.9 214.0h.01M271.4 218.3h.01M271.1 214.6h.01M274.8 213.9h.01M275.9 212.4h.01M275.1 213.6h.01M273.1 213.0h.01M273.9 215.2h.01M271.5 215.0h.01M267.6 218.6h.01M270.3 217.8h.01M269.1 216.5h.01M268.4 219.8h.01M268.2 216.7h.01M266.5 219.1h.01M269.4 218.5h.01M266.5 213.4h.01M268.3 210.1h.01M268.4 214.3h.01M266.2 212.6h.01M266.0 210.6h.01M266.2 212.7h.01M264.1 208.5h.01M262.2 208.3h.01M265.5 206.9h.01M268.0 208.0h.01M267.2 204.7h.01M269.5 205.1h.01M267.2 205.7h.01M269.3 206.4h.01M267.9 204.3h.01M264.7 201.5h.01M265.8 199.9h.01M265.6 199.0h.01M265.5 197.0h.01M268.8 201.8h.01M270.2 199.6h.01M273.2 201.0h.01M276.2 204.8h.01M270.8 201.9h.01M271.0 204.9h.01M272.3 207.6h.01M274.9 206.6h.01M275.0 204.0h.01M274.4 204.7h.01M273.1 209.3h.01M271.7 210.4h.01M271.9 207.8h.01M276.6 209.1h.01M276.2 207.3h.01M274.1 208.8h.01M276.4 210.5h.01M277.9 209.9h.01M276.0 206.9h.01M274.2 206.7h.01M272.0 205.4h.01M266.3 200.3h.01M267.5 202.7h.01M266.0 203.7h.01M270.8 204.1h.01M272.1 204.1h.01M273.6 208.0h.01M274.3 204.4h.01M280.3 203.9h.01M275.5 199.3h.01M274.0 199.3h.01M278.2 202.0h.01M274.8 198.5h.01M278.0 202.5h.01M276.2 200.2h.01M278.0 203.9h.01M276.2 202.6h.01M273.0 203.7h.01M269.5 201.9h.01M272.1 203.9h.01M269.4 206.6h.01M267.4 203.2h.01M268.9 201.9h.01M269.5 199.3h.01M269.3 196.7h.01M269.4 196.2h.01M266.6 197.0h.01M270.8 195.9h.01M271.4 196.8h.01M271.7 201.8h.01M267.3 199.8h.01M266.4 198.3h.01M270.2 199.0h.01M265.2 193.6h.01M269.2 191.9h.01M265.5 193.1h.01M270.1 196.6h.01M270.2 199.8h.01M267.2 199.3h.01M265.4 193.2h.01M265.9 192.5h.01M268.9 188.8h.01M270.8 186.6h.01M276.0 188.7h.01M277.3 188.3h.01M278.2 192.2h.01M279.9 195.6h.01M274.5 191.9h.01M275.8 194.7h.01M273.2 192.4h.01M274.6 187.9h.01M276.9 189.0h.01M278.0 191.2h.01M279.5 193.9h.01M277.9 192.0h.01M275.8 186.3h.01M274.2 185.0h.01M274.5 186.7h.01M275.5 183.5h.01M276.2 185.8h.01M276.5 189.0h.01M277.5 191.5h.01M278.5 193.4h.01M276.0 193.3h.01M276.5 192.2h.01M284.8 193.5h.01M283.4 192.8h.01M277.7 193.0h.01M280.3 193.1h.01M280.9 191.2h.01M281.6 193.6h.01M276.7 191.7h.01M285.0 195.0h.01M285.7 189.1h.01M284.9 190.2h.01M288.3 187.3h.01M288.0 183.4h.01M282.8 179.8h.01M277.8 178.4h.01M273.7 181.4h.01M275.8 182.3h.01M273.2 183.2h.01M274.4 180.3h.01M276.0 182.7h.01M275.2 179.1h.01M276.0 181.8h.01M279.1 182.2h.01M281.4 185.2h.01M285.0 185.4h.01M283.1 187.7h.01M278.5 185.8h.01M281.7 189.7h.01M287.3 193.0h.01M293.2 190.2h.01M283.9 183.2h.01M285.6 185.6h.01M278.9 183.2h.01M286.7 181.9h.01M292.7 180.8h.01M297.9 185.6h.01M292.4 186.1h.01M286.6 187.8h.01M285.5 183.9h.01M286.5 180.8h.01M290.4 186.4h.01M285.9 183.3h.01M281.3 179.0h.01M283.2 178.7h.01M286.2 184.0h.01M291.9 189.2h.01M290.9 190.0h.01M291.7 193.7h.01M288.2 189.1h.01M288.5 190.1h.01M286.8 183.8h.01M283.4 179.9h.01M282.9 180.5h.01M286.5 183.1h.01M287.8 184.9h.01M293.5 181.3h.01M289.4 179.5h.01M289.4 182.3h.01M289.5 183.2h.01M288.9 184.1h.01M285.1 183.0h.01M289.9 184.1h.01M288.8 181.9h.01M289.9 181.9h.01M291.5 180.2h.01M291.6 177.5h.01M291.0 178.7h.01M301.3 184.1h.01M299.8 182.4h.01M300.0 183.7h.01M295.1 178.8h.01M298.1 181.9h.01M299.0 186.8h.01M293.5 182.5h.01M292.7 186.6h.01M292.2 183.6h.01M287.0 181.5h.01M288.5 181.5h.01M285.2 176.7h.01M289.1 182.9h.01M281.8 170.8h.01M284.0 174.1h.01M282.5 170.7h.01M281.6 171.8h.01M286.3 172.8h.01M287.1 167.9h.01M287.5 167.0h.01M286.3 163.7h.01M284.9 164.9h.01M285.4 164.5h.01M288.5 169.5h.01M295.5 173.0h.01M293.1 172.9h.01M294.0 172.0h.01M294.1 171.7h.01M295.0 167.9h.01M296.6 168.7h.01M294.2 174.0h.01M296.0 171.2h.01M293.3 171.7h.01M293.9 169.4h.01M292.5 174.4h.01M293.0 174.4h.01M294.9 174.3h.01M290.0 176.9h.01M290.1 181.5h.01M297.9 181.7h.01M292.7 173.9h.01M295.5 169.6h.01M297.6 172.3h.01M295.0 171.1h.01M294.2 171.4h.01M294.2 172.5h.01M299.0 180.1h.01M302.2 182.3h.01M298.1 175.1h.01M300.7 173.6h.01M301.6 175.5h.01M296.9 171.6h.01M301.7 177.2h.01M299.6 175.2h.01M305.1 179.2h.01M304.7 177.9h.01M302.5 177.1h.01M302.8 175.7h.01M303.5 179.8h.01M302.9 178.5h.01M297.1 173.7h.01M304.4 174.9h.01M304.0 175.8h.01M298.7 172.2h.01M293.1 172.3h.01M296.9 170.3h.01M299.5 166.9h.01M303.3 171.4h.01M297.6 166.5h.01M300.2 169.2h.01M302.7 174.8h.01M305.5 181.7h.01M303.1 175.3h.01M306.3 176.6h.01M303.4 175.5h.01M302.9 170.2h.01M307.1 178.0h.01M298.8 177.8h.01M300.5 183.3h.01M296.9 172.7h.01M297.8 171.4h.01M303.1 173.8h.01M300.6 167.2h.01M305.5 168.3h.01M305.8 172.9h.01M310.2 175.4h.01M311.2 169.0h.01M310.7 171.1h.01M307.8 172.5h.01M305.4 169.3h.01M307.0 169.6h.01M310.7 172.2h.01M308.0 166.4h.01M313.0 162.1h.01M310.3 163.8h.01M305.3 160.7h.01M308.0 162.4h.01M309.7 167.8h.01M314.4 176.7h.01M307.0 165.7h.01M308.4 161.5h.01M307.5 163.6h.01M304.5 164.9h.01M305.2 164.0h.01M310.8 169.8h.01M309.4 161.7h.01M308.4 161.1h.01M306.4 159.2h.01M305.7 159.9h.01M304.5 158.5h.01M303.3 160.2h.01M305.8 163.5h.01M302.7 163.3h.01M300.2 156.1h.01M302.8 159.3h.01M300.9 154.7h.01M299.2 154.3h.01M304.1 160.6h.01M300.5 156.8h.01M304.3 154.2h.01M310.1 160.3h.01M308.6 159.4h.01M309.6 158.9h.01M309.8 156.9h.01M312.4 160.5h.01M310.9 163.8h.01M316.4 164.0h.01M317.3 166.1h.01M313.8 163.3h.01M312.4 163.3h.01M315.2 163.9h.01M311.1 159.8h.01M313.6 161.3h.01M313.2 159.9h.01M314.7 160.3h.01M317.8 161.1h.01M313.1 157.9h.01M311.0 161.6h.01M315.9 169.3h.01M315.8 167.7h.01M315.2 164.5h.01M320.3 169.2h.01M318.4 170.2h.01M316.7 168.9h.01M319.6 173.0h.01M312.4 168.5h.01M309.9 169.7h.01M309.5 161.9h.01M309.1 164.3h.01M303.5 155.5h.01M306.7 160.6h.01M307.9 160.6h.01M310.5 162.9h.01M308.9 161.9h.01M308.7 164.8h.01M303.4 156.4h.01M308.9 151.7h.01M315.4 157.4h.01M314.5 158.3h.01M321.6 164.4h.01M325.5 164.7h.01M325.0 167.8h.01M324.1 166.8h.01M322.5 162.6h.01M320.2 160.5h.01M316.8 157.6h.01M318.6 157.1h.01M316.7 155.2h.01M319.6 160.1h.01M318.2 159.2h.01M323.3 164.1h.01M324.3 161.9h.01M322.6 161.6h.01M329.7 166.2h.01M318.9 162.1h.01M319.2 161.2h.01M321.4 160.6h.01M325.7 159.0h.01M328.3 157.7h.01M322.4 157.5h.01M320.7 155.8h.01M321.4 156.2h.01M316.0 153.8h.01M315.7 157.4h.01M316.4 160.0h.01M316.0 160.0h.01M319.0 160.6h.01M321.3 161.8h.01M315.9 159.2h.01M318.9 164.4h.01M313.4 161.2h.01M320.8 163.7h.01M316.6 157.7h.01M316.0 156.4h.01M318.5 157.8h.01M315.0 153.3h.01M322.4 157.0h.01M326.3 160.1h.01M329.9 161.7h.01M328.4 160.5h.01M327.4 156.4h.01M328.7 161.2h.01M327.9 157.1h.01M329.5 158.8h.01M331.5 158.0h.01M333.1 163.4h.01M333.4 163.2h.01M328.8 166.2h.01M326.1 166.6h.01M325.8 164.0h.01M326.7 167.5h.01M327.5 167.0h.01M329.2 159.8h.01M324.6 155.5h.01M329.1 157.6h.01M328.0 158.7h.01M322.3 148.9h.01M323.1 147.3h.01M325.0 151.1h.01M326.5 155.2h.01M325.1 147.8h.01M329.1 148.4h.01M329.3 154.8h.01M322.9 145.8h.01M325.5 147.5h.01M334.0 155.4h.01M331.7 142.0h.01M333.0 147.0h.01M332.3 141.8h.01M335.8 143.9h.01M337.6 152.7h.01M335.8 150.8h.01M334.4 151.7h.01M336.3 152.7h.01M334.8 152.0h.01M334.8 149.8h.01M332.1 148.9h.01M330.7 151.8h.01M330.0 148.4h.01M328.7 145.1h.01M333.9 147.5h.01M338.9 156.8h.01M339.1 150.3h.01M339.0 146.9h.01M340.2 146.7h.01M334.5 148.0h.01M331.3 144.5h.01M331.1 148.9h.01M332.7 153.3h.01M332.2 148.7h.01M335.0 150.6h.01M336.2 153.1h.01M330.1 150.1h.01M335.1 151.7h.01M334.7 149.7h.01M335.5 149.4h.01M334.9 149.9h.01M336.6 146.5h.01M337.7 144.5h.01M335.1 146.3h.01M334.5 145.6h.01M337.0 149.2h.01M338.3 146.8h.01M340.3 142.5h.01M339.0 140.2h.01M340.9 150.0h.01M340.7 152.1h.01M339.2 139.4h.01M338.3 140.4h.01M339.9 134.1h.01M337.9 138.4h.01M339.1 143.5h.01M337.0 144.6h.01M338.7 144.0h.01M339.1 141.8h.01M345.3 145.2h.01M343.6 146.6h.01M348.0 148.2h.01M346.2 147.6h.01M347.0 144.3h.01M347.3 140.0h.01M343.8 138.9h.01M343.9 140.3h.01M345.5 134.6h.01M342.7 139.7h.01M346.2 146.5h.01M342.3 144.3h.01M343.8 149.0h.01M341.7 146.4h.01M339.8 141.8h.01M342.5 147.0h.01M344.1 141.0h.01M346.1 147.1h.01M345.1 147.0h.01M345.5 142.3h.01M345.8 149.0h.01M347.2 144.5h.01M343.7 151.5h.01M344.9 153.4h.01M347.5 151.1h.01M346.8 152.5h.01M345.4 150.7h.01M342.6 146.4h.01M343.6 148.4h.01M342.3 143.0h.01M346.0 150.2h.01M343.6 149.9h.01M345.1 150.9h.01M344.0 150.5h.01M342.5 157.0h.01M340.7 155.0h.01M339.0 161.0h.01M335.5 161.8h.01M334.7 154.6h.01M342.8 160.4h.01M340.1 148.9h.01M341.9 148.4h.01M342.7 152.2h.01M340.4 148.7h.01M343.3 153.7h.01M340.4 151.6h.01M344.3 151.3h.01M343.9 156.1h.01M348.1 151.4h.01M350.1 148.9h.01M350.7 148.0h.01M350.9 149.9h.01M348.3 138.3h.01M349.6 146.7h.01M349.6 140.3h.01M351.0 140.0h.01M352.0 142.5h.01M350.0 136.3h.01M351.5 140.1h.01M348.9 133.4h.01M352.1 135.7h.01M350.0 132.3h.01M353.2 138.5h.01M351.9 139.1h.01M353.7 141.5h.01M355.0 147.2h.01M353.5 135.8h.01M355.7 135.0h.01M353.8 130.4h.01M351.9 130.7h.01M352.2 132.4h.01M354.5 130.2h.01M359.6 132.6h.01M359.4 140.7h.01M353.8 138.0h.01M352.8 141.8h.01M353.2 130.5h.01M356.5 138.5h.01M361.5 145.8h.01M363.2 146.8h.01M366.7 146.4h.01M368.8 149.6h.01M367.6 143.4h.01M372.3 149.4h.01M371.4 149.0h.01M370.8 150.8h.01M371.6 148.9h.01M366.4 145.8h.01M366.7 156.1h.01M365.1 157.1h.01M365.4 155.5h.01M364.9 152.6h.01M360.6 150.3h.01M362.5 145.0h.01M363.6 144.2h.01M358.6 148.5h.01M360.9 150.5h.01M358.8 149.7h.01M357.1 152.1h.01M354.0 144.5h.01M359.9 145.2h.01M360.3 151.9h.01M360.9 144.8h.01M361.0 141.1h.01M366.6 140.3h.01M365.9 136.9h.01M363.8 135.9h.01M367.4 142.8h.01M370.9 144.0h.01M368.7 137.4h.01M372.1 145.3h.01M369.4 146.8h.01M364.8 142.6h.01M369.4 151.3h.01M368.6 149.4h.01M369.0 146.8h.01M365.3 138.2h.01M364.8 145.2h.01M363.2 141.9h.01M362.9 143.4h.01M361.5 138.3h.01M362.7 145.0h.01M360.5 140.1h.01M362.2 139.1h.01M360.3 137.9h.01M355.8 140.0h.01M355.4 131.0h.01M359.8 131.5h.01M361.8 127.7h.01M366.5 138.2h.01M364.1 132.7h.01M361.1 129.5h.01M358.3 129.9h.01M360.1 132.7h.01M359.5 128.2h.01M364.3 134.6h.01M366.1 126.5h.01M366.1 138.7h.01M364.4 133.2h.01M363.5 134.5h.01M368.1 146.5h.01M368.6 142.1h.01M366.7 135.0h.01M367.1 128.8h.01M368.1 138.9h.01M371.5 137.5h.01M373.4 137.0h.01M375.8 136.7h.01M376.6 132.1h.01M377.9 140.6h.01M371.8 140.2h.01M377.1 140.5h.01M374.2 143.1h.01M371.6 138.4h.01M374.8 136.4h.01M375.9 140.3h.01M374.9 136.4h.01M378.2 139.6h.01M373.5 140.9h.01M376.3 143.7h.01M370.5 137.3h.01M371.0 140.6h.01M373.5 135.2h.01M372.6 128.4h.01M375.3 135.5h.01M370.8 129.9h.01M372.8 133.9h.01M372.8 139.1h.01M371.1 137.0h.01M375.4 140.2h.01M376.0 142.5h.01M378.6 147.5h.01M378.2 149.3h.01M379.5 144.9h.01M375.2 143.1h.01M371.2 137.6h.01M374.6 148.3h.01M372.9 152.0h.01M372.9 145.8h.01M374.0 142.2h.01M374.6 143.4h.01M376.5 144.4h.01M375.6 138.9h.01M378.8 129.3h.01M379.0 126.3h.01M375.5 128.4h.01M378.7 132.7h.01M374.9 132.2h.01M378.1 130.8h.01M381.8 130.5h.01M378.0 131.8h.01M379.1 135.5h.01M380.6 144.7h.01M381.2 148.9h.01M377.8 142.0h.01M378.5 137.6h.01M378.6 134.5h.01M379.1 140.3h.01M375.7 145.7h.01M378.5 150.8h.01M379.3 154.6h.01M385.0 153.3h.01M384.7 151.6h.01M383.4 143.0h.01M382.2 143.8h.01M378.5 147.7h.01M378.7 145.8h.01M375.7 145.7h.01M380.9 147.8h.01M383.1 148.1h.01M384.9 138.8h.01M383.9 138.8h.01M382.7 136.0h.01M387.6 136.9h.01M389.1 138.5h.01M388.4 136.7h.01M388.1 135.4h.01M389.7 143.4h.01M386.5 141.2h.01M390.9 152.2h.01M388.1 147.7h.01M387.4 151.5h.01M383.7 143.7h.01M383.0 143.1h.01M384.3 151.9h.01M383.1 146.1h.01M387.6 148.9h.01M383.8 143.3h.01M385.2 142.2h.01M385.6 143.6h.01M383.1 140.3h.01M382.7 136.3h.01M377.1 130.5h.01M377.4 126.3h.01M378.0 127.9h.01M379.1 130.3h.01M380.1 129.6h.01M382.0 122.7h.01M387.6 134.8h.01M385.8 127.5h.01M388.4 135.3h.01M389.7 142.7h.01M386.7 136.2h.01M388.6 134.7h.01M389.0 132.6h.01M394.0 143.2h.01M395.9 139.2h.01M393.4 134.4h.01M403.2 145.9h.01M401.7 147.9h.01M401.5 148.0h.01M400.8 148.4h.01M400.8 148.4h.01M401.7 148.0h.01M398.2 139.7h.01M399.2 145.5h.01M392.9 139.9h.01M391.3 138.6h.01M387.7 133.0h.01M388.0 132.3h.01M387.8 129.2h.01M385.2 124.5h.01M389.0 126.0h.01M388.0 125.4h.01M384.4 125.2h.01M387.8 123.4h.01M388.4 119.4h.01M391.3 125.9h.01M399.4 135.8h.01M396.7 144.0h.01M394.0 139.5h.01M389.9 138.4h.01M393.7 142.1h.01M393.9 141.0h.01M394.5 140.4h.01M396.9 142.9h.01M395.7 141.3h.01M398.4 145.2h.01M388.1 129.1h.01M392.9 134.9h.01M393.1 133.1h.01M390.9 132.8h.01M399.5 137.8h.01M396.3 137.1h.01M397.4 140.0h.01M395.0 139.7h.01M393.6 145.1h.01M393.4 142.3h.01M397.0 139.9h.01M402.3 142.0h.01M401.1 140.3h.01M401.7 134.2h.01M400.1 129.1h.01M402.2 134.2h.01M398.0 132.9h.01M393.7 117.1h.01M398.8 118.6h.01M396.6 112.1h.01M397.8 117.5h.01M398.4 116.1h.01M397.3 113.1h.01M398.5 117.8h.01M399.2 120.1h.01M403.0 130.4h.01M401.1 121.8h.01M397.3 118.6h.01M392.7 118.8h.01M400.5 130.2h.01M401.0 129.2h.01M401.6 124.6h.01M395.5 113.5h.01M399.3 119.3h.01M402.1 118.6h.01M398.9 114.3h.01M397.4 116.1h.01M396.5 116.8h.01M401.0 118.9h.01M404.9 132.0h.01M404.4 129.8h.01M403.9 127.8h.01M405.2 126.4h.01M403.8 122.2h.01M404.9 120.5h.01M408.1 133.3h.01M412.4 132.9h.01M417.0 121.7h.01M417.9 126.4h.01M415.0 123.8h.01M414.3 133.2h.01M416.1 132.1h.01M412.0 129.6h.01M415.6 133.0h.01M419.9 135.2h.01M421.9 135.9h.01M423.2 132.3h.01M419.6 134.4h.01M412.4 128.9h.01M420.4 140.4h.01M418.8 136.9h.01M420.6 140.3h.01M418.4 141.1h.01M416.3 141.5h.01M411.0 133.7h.01M406.1 130.5h.01M407.7 126.9h.01M406.9 117.2h.01M408.7 117.9h.01M409.4 114.0h.01M409.1 116.0h.01M406.0 120.0h.01M405.1 120.9h.01M405.3 111.6h.01M408.9 113.4h.01M408.9 116.6h.01M406.8 110.4h.01M408.4 107.7h.01M409.2 109.5h.01M406.7 108.2h.01M407.4 113.4h.01M411.6 121.5h.01M408.5 115.9h.01M407.3 107.0h.01M410.8 117.7h.01M411.0 114.7h.01M411.1 117.9h.01M414.1 123.7h.01M414.0 119.5h.01M417.1 123.7h.01M414.8 112.2h.01M420.5 114.0h.01M421.3 115.6h.01M418.7 111.8h.01M417.7 109.3h.01M413.9 112.0h.01M414.2 115.0h.01M412.4 114.0h.01M416.5 117.4h.01M417.1 117.8h.01M417.8 110.0h.01M418.8 111.7h.01M416.3 109.4h.01M415.2 104.9h.01M414.5 108.7h.01M415.5 108.7h.01M417.3 110.0h.01M416.4 108.7h.01M414.1 105.4h.01M414.1 112.3h.01M415.3 110.1h.01M412.5 107.9h.01M417.6 113.5h.01M420.2 112.4h.01M420.2 112.1h.01M419.7 106.4h.01M425.6 116.9h.01M426.4 117.5h.01M426.0 119.1h.01M424.8 120.6h.01M427.0 128.9h.01M425.1 120.9h.01M425.8 123.9h.01M430.2 135.7h.01M425.9 136.8h.01M421.7 129.9h.01M421.1 134.9h.01M420.6 128.3h.01M419.8 128.1h.01M417.8 121.1h.01M421.8 120.2h.01M425.5 114.1h.01M426.7 118.9h.01M424.2 116.5h.01M422.0 115.6h.01M422.6 115.2h.01M421.1 124.0h.01M419.1 108.5h.01M419.2 115.9h.01M423.7 115.2h.01M420.4 106.1h.01M421.9 112.0h.01M420.9 115.2h.01M422.8 110.5h.01M419.8 109.5h.01M423.5 121.3h.01M421.3 112.1h.01M421.1 108.0h.01M424.9 122.0h.01M425.1 120.5h.01M427.6 124.9h.01M428.2 124.3h.01M427.8 120.4h.01M426.4 118.8h.01M427.3 131.0h.01M425.3 128.1h.01M422.3 118.2h.01M420.0 121.9h.01M421.6 124.2h.01M422.8 127.4h.01M422.2 121.1h.01M425.5 125.8h.01M427.4 121.7h.01M427.0 123.0h.01M425.7 118.6h.01M426.1 122.7h.01M428.9 118.8h.01M429.4 121.0h.01M428.0 124.9h.01M426.7 121.6h.01M430.4 122.2h.01M430.1 112.3h.01M430.1 110.0h.01M431.2 110.8h.01M428.8 112.4h.01M429.7 121.3h.01M433.5 118.1h.01M432.7 122.3h.01M432.6 120.1h.01M433.7 114.1h.01M430.5 106.5h.01M432.9 112.0h.01M429.0 116.1h.01M429.7 120.3h.01M429.3 124.9h.01M427.8 123.7h.01M427.8 126.8h.01M428.2 126.9h.01M425.0 133.0h.01M427.9 127.3h.01M426.6 123.1h.01M432.0 123.7h.01M433.1 120.7h.01M433.9 117.5h.01M437.1 116.5h.01M436.8 118.5h.01M438.4 113.8h.01M436.0 117.2h.01M439.1 123.4h.01M436.1 116.7h.01M436.9 112.9h.01M439.0 111.2h.01M441.1 117.6h.01M438.0 107.4h.01M441.3 115.7h.01M439.2 116.9h.01M440.2 115.8h.01M441.4 123.8h.01M442.7 118.7h.01M443.8 109.8h.01M444.6 120.0h.01M441.7 114.9h.01M440.5 119.5h.01M439.6 118.5h.01M438.2 111.0h.01M439.5 121.5h.01M438.9 115.2h.01M438.1 117.7h.01M437.2 121.2h.01M433.4 120.3h.01M433.4 117.0h.01M438.3 119.2h.01M436.6 122.3h.01M436.4 114.0h.01M435.4 109.7h.01M433.5 111.7h.01M435.7 116.9h.01M436.7 117.9h.01M438.0 108.3h.01M443.2 112.7h.01M440.8 115.3h.01M449.8 121.2h.01M450.9 122.6h.01M451.6 126.1h.01M452.5 123.1h.01M452.6 126.3h.01M454.7 126.0h.01M451.5 123.4h.01M447.8 124.7h.01M445.0 120.7h.01M445.4 120.9h.01M446.3 121.0h.01M445.2 116.5h.01M449.0 118.8h.01M450.3 111.7h.01M451.9 115.0h.01M453.2 116.8h.01M453.5 117.0h.01M456.8 110.4h.01M453.1 105.7h.01M456.4 114.0h.01M458.2 117.1h.01M453.0 114.4h.01M452.3 119.6h.01M452.2 116.7h.01M454.9 112.9h.01M454.4 107.6h.01M454.2 105.2h.01M453.0 105.5h.01M452.7 108.3h.01M455.7 112.6h.01M454.6 112.4h.01M452.4 113.2h.01M451.8 107.1h.01M451.7 108.4h.01M448.4 108.1h.01M447.7 107.8h.01M448.8 110.9h.01M450.5 114.4h.01M450.8 109.1h.01M453.5 110.4h.01M451.7 113.4h.01M452.8 107.4h.01M453.5 109.7h.01M448.6 112.7h.01M451.5 114.1h.01M452.9 112.9h.01M454.0 103.0h.01M456.0 102.1h.01M453.3 102.1h.01M450.3 107.3h.01M447.9 111.3h.01M447.5 110.6h.01M451.6 112.1h.01M454.2 110.9h.01M454.7 114.5h.01M454.0 112.7h.01M456.3 109.3h.01M453.2 103.5h.01M456.5 105.3h.01M455.6 113.7h.01M457.4 108.5h.01M457.5 107.6h.01M455.2 113.2h.01M457.3 111.8h.01M462.5 114.6h.01M462.7 112.3h.01M461.7 121.6h.01M459.7 122.8h.01M459.7 121.9h.01M462.2 119.5h.01M458.2 121.3h.01M459.9 115.1h.01M457.2 119.4h.01M459.2 121.5h.01M462.7 113.1h.01M462.2 108.4h.01M459.2 109.5h.01M458.9 111.2h.01M461.4 114.8h.01M460.5 116.2h.01M459.8 118.9h.01M459.3 118.4h.01M462.0 124.6h.01M462.6 126.7h.01M463.1 129.6h.01M460.5 123.5h.01M464.4 128.6h.01M466.7 129.7h.01M464.1 122.0h.01M460.1 124.8h.01M460.9 123.6h.01M461.3 118.3h.01M463.8 115.9h.01M464.0 117.0h.01M468.1 111.9h.01M470.7 112.4h.01M470.4 110.4h.01M470.0 107.1h.01M472.7 108.8h.01M472.1 114.2h.01M471.8 113.4h.01M472.6 110.7h.01M473.8 103.5h.01M476.2 107.7h.01M470.5 124.2h.01M469.2 118.6h.01M467.8 112.7h.01M472.1 117.7h.01M473.1 120.6h.01M472.5 125.5h.01M474.8 119.6h.01M468.6 127.6h.01M468.6 123.1h.01M468.2 120.8h.01M464.5 121.8h.01M465.6 114.2h.01M464.4 114.0h.01M464.4 104.3h.01M467.4 105.8h.01M470.7 103.4h.01M471.3 105.9h.01M472.5 110.6h.01M471.0 109.9h.01M473.0 114.4h.01M474.6 109.3h.01M472.6 117.0h.01M470.5 106.0h.01M472.5 113.8h.01M471.9 112.6h.01M472.1 110.1h.01M474.9 105.8h.01M474.8 108.6h.01M478.8 112.4h.01M478.3 107.5h.01M471.6 113.3h.01M474.5 114.1h.01M474.2 114.2h.01M470.8 116.4h.01M471.8 116.8h.01M472.3 109.6h.01M472.1 115.7h.01M477.2 116.3h.01M473.9 115.2h.01M473.4 111.7h.01M471.7 111.2h.01M469.9 108.5h.01M471.5 113.9h.01M474.0 115.1h.01M476.7 112.8h.01M477.3 111.4h.01M473.7 113.1h.01M474.7 113.5h.01M476.0 108.6h.01M473.5 111.8h.01M474.4 114.5h.01M478.7 114.1h.01M481.6 110.4h.01M481.2 107.3h.01M480.4 112.1h.01M480.4 113.2h.01M479.9 108.3h.01M482.1 104.1h.01M479.1 104.0h.01M479.1 112.0h.01M479.9 113.5h.01M478.3 109.4h.01M481.4 110.9h.01M482.5 115.5h.01M485.3 108.9h.01M486.1 109.8h.01M484.0 109.4h.01M482.3 113.7h.01M485.1 114.0h.01M483.9 108.6h.01M486.8 110.0h.01M487.8 112.5h.01M486.8 115.4h.01M486.9 113.5h.01M488.6 113.2h.01M488.2 116.4h.01M486.8 118.8h.01M489.5 113.1h.01M489.8 112.5h.01M491.3 110.6h.01M490.4 106.2h.01M490.7 104.3h.01M488.8 105.0h.01M486.9 104.6h.01M485.6 110.1h.01M483.4 105.5h.01M485.0 108.9h.01M485.8 114.5h.01M489.3 110.7h.01M490.8 113.9h.01M488.1 113.8h.01M488.7 114.9h.01M490.1 118.4h.01M484.5 110.7h.01M484.6 107.9h.01M485.1 111.8h.01M485.2 109.7h.01M489.3 117.8h.01M488.8 117.0h.01M491.4 118.8h.01M489.4 116.8h.01M490.1 115.6h.01M490.0 123.0h.01M493.2 119.9h.01M492.1 114.7h.01M489.2 117.2h.01M493.8 119.9h.01M489.9 123.8h.01M491.1 121.2h.01M490.2 119.0h.01M490.8 112.1h.01M492.5 109.6h.01M487.8 116.9h.01M490.6 112.7h.01M490.9 113.0h.01M493.6 117.4h.01M493.3 119.9h.01M496.8 119.7h.01M497.4 120.9h.01M495.6 122.6h.01M496.6 128.7h.01M497.7 123.1h.01M497.1 126.1h.01M494.8 121.7h.01M492.8 120.0h.01M491.7 117.3h.01M490.9 120.3h.01M490.4 118.7h.01M489.5 107.4h.01M489.5 106.6h.01M488.9 107.6h.01M493.3 114.9h.01M492.1 108.2h.01M492.8 111.3h.01M490.9 111.3h.01M495.0 117.7h.01M495.3 117.5h.01M498.1 122.6h.01M495.9 114.4h.01M495.8 114.1h.01M493.7 117.2h.01M497.9 114.4h.01M503.2 118.7h.01M502.6 113.1h.01M503.7 118.1h.01M503.3 116.2h.01M506.6 112.7h.01M505.2 110.3h.01M505.5 110.8h.01M503.1 111.0h.01M502.4 117.2h.01M502.1 119.1h.01M504.3 118.1h.01M505.0 112.5h.01M503.7 111.5h.01M504.7 118.7h.01M505.2 123.2h.01M503.4 118.6h.01M502.9 110.2h.01M504.6 111.8h.01M503.6 117.7h.01M502.5 114.0h.01M505.7 119.2h.01M505.8 112.8h.01M505.6 112.8h.01M509.4 116.4h.01M507.7 114.7h.01M508.0 118.4h.01M505.0 118.1h.01M506.9 119.1h.01M504.4 114.9h.01M501.5 114.6h.01M502.6 113.5h.01M503.6 117.7h.01M508.5 110.5h.01M509.0 114.3h.01M508.1 113.4h.01M507.4 115.2h.01M506.5 116.3h.01M507.9 125.7h.01M506.9 121.6h.01M506.0 116.4h.01M505.9 111.1h.01M508.5 107.4h.01M507.8 109.0h.01M508.7 110.1h.01M504.3 122.5h.01M505.8 118.9h.01M508.2 116.7h.01M506.1 120.8h.01M503.4 117.6h.01M507.6 116.9h.01M509.4 124.2h.01M506.5 123.0h.01M506.6 129.5h.01M507.8 126.2h.01M510.9 128.4h.01M513.6 129.5h.01M515.3 130.8h.01M518.2 130.9h.01M516.8 130.8h.01M516.6 130.2h.01M515.3 123.4h.01M516.8 123.9h.01M521.6 123.1h.01M521.4 117.9h.01M519.4 116.4h.01M515.1 119.1h.01M517.7 121.2h.01M519.8 117.2h.01M522.3 122.4h.01M517.8 120.3h.01M518.8 115.9h.01M515.1 113.1h.01M510.5 111.0h.01M510.0 122.9h.01M509.8 120.4h.01M509.4 123.0h.01M510.4 115.5h.01M511.1 123.9h.01M515.4 124.0h.01M513.9 121.1h.01M512.0 118.6h.01M510.1 119.0h.01M511.1 114.5h.01M508.0 115.5h.01M511.5 108.7h.01M510.1 110.9h.01M509.8 111.1h.01M508.7 116.4h.01M510.3 115.7h.01M509.5 114.8h.01M510.4 114.2h.01M513.4 111.2h.01M517.1 108.8h.01M520.4 110.2h.01M519.2 110.3h.01M520.3 110.5h.01M517.9 108.0h.01M519.4 107.6h.01M519.7 109.2h.01M519.5 106.0h.01M522.2 105.1h.01M525.0 105.3h.01M521.5 106.1h.01M522.5 107.6h.01M521.7 109.0h.01M522.8 112.9h.01M522.2 110.6h.01M522.4 120.2h.01M526.3 120.0h.01M528.0 117.8h.01M524.8 111.6h.01M528.7 109.8h.01M523.8 114.0h.01M522.0 111.4h.01M521.5 105.0h.01M522.2 105.8h.01M524.0 105.7h.01M524.7 109.5h.01M525.0 112.7h.01M525.0 116.5h.01M524.1 121.1h.01M526.2 111.7h.01M524.5 114.0h.01M528.7 115.2h.01M525.4 119.8h.01M524.8 115.1h.01M529.3 113.1h.01M530.2 110.3h.01M527.6 113.7h.01M530.2 105.7h.01M531.8 108.4h.01M531.2 116.0h.01M531.2 114.2h.01M534.4 114.2h.01M531.2 121.0h.01M532.0 119.0h.01M531.8 120.5h.01M527.6 118.2h.01M527.8 121.1h.01M525.9 124.8h.01M527.5 127.9h.01M529.3 131.6h.01M533.7 127.5h.01M531.5 129.0h.01M534.2 132.0h.01M529.7 131.6h.01M527.3 131.3h.01M532.1 124.9h.01M531.1 127.0h.01M532.6 121.7h.01M531.1 125.0h.01M528.0 118.8h.01M530.5 124.8h.01M530.2 118.8h.01M533.4 115.0h.01M532.8 122.6h.01M535.1 121.1h.01M540.5 122.9h.01M540.5 120.5h.01M540.3 124.8h.01M536.3 127.0h.01M537.8 126.3h.01M534.2 127.3h.01M532.8 124.9h.01M532.8 114.5h.01M533.4 117.2h.01M530.9 119.0h.01M533.7 114.2h.01M531.0 117.0h.01M536.2 110.7h.01M536.7 114.8h.01M536.4 118.2h.01M536.7 120.0h.01M537.1 111.5h.01M537.6 114.5h.01M534.9 116.4h.01M536.2 115.7h.01M539.7 112.7h.01M534.4 106.0h.01M530.8 111.5h.01M536.2 112.4h.01M537.9 113.8h.01M536.2 112.9h.01M534.4 120.0h.01M533.8 117.0h.01M533.1 111.6h.01M536.1 111.3h.01M536.3 106.3h.01M534.8 106.1h.01M532.1 111.9h.01M533.2 114.2h.01M535.2 117.0h.01M540.8 111.4h.01M537.1 108.5h.01M538.1 112.7h.01M535.8 108.4h.01M539.0 119.5h.01M534.8 126.8h.01M536.7 124.4h.01M539.3 127.2h.01M539.0 129.1h.01M538.2 126.3h.01M540.0 124.7h.01M543.6 123.7h.01M545.8 120.8h.01M546.4 125.3h.01M551.2 120.7h.01M550.3 128.8h.01M550.2 129.3h.01M548.2 124.0h.01M547.1 129.1h.01M548.7 128.7h.01M546.3 133.0h.01M546.2 127.1h.01M547.2 128.2h.01M546.5 124.4h.01M542.5 121.9h.01M543.8 120.9h.01M546.4 121.1h.01M545.8 126.4h.01M547.4 123.1h.01M544.6 118.8h.01M547.3 118.6h.01M546.5 119.4h.01M546.9 120.8h.01M545.4 119.8h.01M549.3 126.6h.01M550.2 123.5h.01M554.3 133.7h.01M553.0 128.5h.01M553.8 126.9h.01M554.1 130.2h.01M549.6 133.3h.01M548.7 133.2h.01M548.1 133.2h.01M552.2 133.5h.01M552.9 133.5h.01M550.8 133.4h.01M551.9 133.5h.01M547.9 132.2h.01M549.5 127.6h.01M549.9 131.7h.01M553.5 132.7h.01M554.0 123.8h.01M550.0 126.4h.01M552.1 124.7h.01M556.9 131.8h.01M555.5 125.8h.01M555.2 132.5h.01M553.7 128.2h.01M554.3 127.0h.01M551.1 126.5h.01M554.4 127.5h.01M559.7 130.0h.01M557.5 120.7h.01M557.8 126.7h.01M556.8 122.0h.01M557.2 120.4h.01M559.8 118.7h.01M560.7 128.6h.01M563.6 130.6h.01M564.2 122.9h.01M563.9 125.6h.01M569.6 124.4h.01M570.7 123.0h.01M570.0 121.6h.01M567.1 129.6h.01M567.3 127.9h.01M569.3 120.5h.01M569.3 126.2h.01M568.1 123.7h.01M567.4 120.3h.01M566.8 117.6h.01M564.0 119.9h.01M561.6 116.5h.01M558.3 115.8h.01M557.7 113.8h.01M561.3 120.3h.01M561.6 121.5h.01M559.5 116.5h.01M557.9 121.4h.01M554.4 120.5h.01M556.2 117.3h.01M559.3 121.0h.01M557.7 120.0h.01M556.4 123.9h.01M557.0 123.5h.01M559.1 120.8h.01M560.6 122.4h.01M561.3 117.9h.01M563.2 118.8h.01M562.9 117.1h.01M564.1 111.4h.01M567.6 112.8h.01M566.3 113.2h.01M565.4 113.5h.01M567.6 117.4h.01M566.5 121.7h.01M566.6 119.6h.01M562.9 125.6h.01M562.4 117.2h.01M563.4 112.7h.01M564.6 115.0h.01M566.8 111.3h.01M568.8 113.0h.01M569.8 111.3h.01M570.0 110.2h.01M571.3 108.6h.01M572.2 112.8h.01M574.9 115.0h.01M573.9 115.9h.01M573.4 120.3h.01M576.3 122.9h.01M577.3 123.5h.01M573.5 132.1h.01M572.6 127.4h.01M572.0 132.5h.01M572.0 132.6h.01M569.5 124.5h.01M566.2 122.1h.01M568.7 124.3h.01M569.2 121.0h.01M570.0 123.5h.01M568.8 122.9h.01M571.5 124.1h.01M570.0 127.1h.01M574.9 125.9h.01M574.2 126.1h.01M578.0 132.8h.01M578.1 127.2h.01M578.1 123.8h.01M580.3 124.5h.01M579.1 127.1h.01M579.0 128.2h.01M580.3 125.1h.01M576.0 125.2h.01M576.3 126.1h.01M575.6 123.7h.01M577.4 124.5h.01M576.0 122.6h.01M577.7 125.0h.01M576.2 122.5h.01M574.3 119.1h.01M573.7 118.5h.01M577.7 120.1h.01M574.9 116.7h.01M573.6 111.0h.01M575.4 111.0h.01M572.8 108.4h.01M575.3 108.3h.01M574.1 117.9h.01M573.5 117.8h.01M570.6 123.1h.01M570.8 122.4h.01M574.3 122.9h.01M574.0 124.8h.01M575.5 121.6h.01M577.2 117.6h.01M579.4 116.5h.01M578.0 115.7h.01M579.6 123.1h.01M582.9 117.5h.01M582.9 116.7h.01M580.7 117.1h.01M580.7 117.6h.01M578.0 116.8h.01M579.7 114.0h.01M577.0 115.2h.01M576.6 122.0h.01M579.3 116.5h.01M577.1 121.6h.01M577.5 111.5h.01M580.1 115.8h.01M577.7 119.3h.01M577.7 114.8h.01M578.2 112.7h.01M576.1 108.1h.01M578.1 108.2h.01M581.1 108.2h.01M583.3 110.4h.01M581.7 109.8h.01M584.6 110.4h.01M586.1 118.6h.01M585.7 114.5h.01M586.8 118.8h.01M585.9 116.9h.01M586.3 111.9h.01M588.4 120.3h.01M589.0 113.6h.01M591.4 108.4h.01M589.8 111.5h.01M589.1 114.1h.01M586.7 124.0h.01M587.2 118.7h.01M588.0 125.3h.01M582.7 121.0h.01M580.5 119.9h.01M582.1 120.1h.01M582.5 115.7h.01M579.6 113.5h.01M580.1 115.6h.01M584.6 116.6h.01M585.9 121.9h.01M583.4 118.2h.01M583.7 124.7h.01M580.5 122.8h.01M581.3 126.4h.01M581.7 127.5h.01M584.6 128.0h.01M584.2 133.2h.01M583.3 125.0h.01M584.5 122.5h.01M589.8 126.2h.01M588.5 124.5h.01M590.5 115.9h.01M588.9 114.2h.01M587.3 117.8h.01M588.5 121.6h.01M588.3 117.4h.01M590.5 122.9h.01M592.1 126.2h.01M593.6 129.8h.01M593.6 122.5h.01M595.6 122.4h.01M595.4 118.6h.01M596.4 119.2h.01M592.5 119.5h.01M592.8 116.6h.01M593.5 115.6h.01M594.8 117.2h.01M594.8 121.9h.01M596.5 112.1h.01M595.1 116.3h.01M593.2 113.4h.01M594.0 110.3h.01M593.8 114.8h.01M594.3 114.0h.01M590.9 115.4h.01M588.8 110.7h.01M593.1 113.8h.01M595.3 112.5h.01M596.5 118.4h.01M599.9 124.1h.01M599.8 113.7h.01M602.1 114.7h.01M600.6 128.8h.01M605.2 126.8h.01M599.2 131.2h.01M599.1 124.7h.01M594.0 128.4h.01M595.4 128.1h.01M597.9 120.3h.01M599.2 121.2h.01M599.8 117.8h.01M600.1 123.0h.01M599.5 117.9h.01M598.5 118.4h.01M599.4 121.8h.01M600.2 122.5h.01M603.7 126.2h.01M604.3 124.6h.01M605.2 120.6h.01M605.6 121.9h.01M603.9 117.0h.01M602.0 120.8h.01M604.8 123.0h.01M602.3 128.0h.01M603.6 135.1h.01M605.2 126.0h.01M603.8 133.5h.01M607.9 132.5h.01M608.5 127.8h.01M608.3 135.9h.01M606.9 130.6h.01M609.8 127.5h.01M606.6 136.0h.01M607.5 136.0h.01M606.7 136.0h.01M610.2 135.9h.01M610.2 135.8h.01M608.8 135.9h.01M611.2 135.8h.01M609.8 134.3h.01M612.5 135.7h.01M613.6 135.6h.01M613.0 125.7h.01M614.7 130.1h.01M612.6 123.8h.01M613.5 124.7h.01M611.9 126.9h.01M612.2 128.0h.01M609.7 135.9h.01M611.9 127.5h.01M606.4 117.7h.01M604.0 115.2h.01M605.9 117.5h.01M607.6 127.5h.01M609.9 126.5h.01M606.8 128.3h.01M605.7 121.9h.01M606.7 116.7h.01M607.0 120.9h.01M607.8 123.0h.01M608.5 113.6h.01M609.6 120.7h.01M607.7 119.7h.01M605.5 130.5h.01M604.7 123.3h.01M603.1 120.4h.01M600.8 122.3h.01M603.6 120.7h.01M607.6 125.7h.01M608.4 128.9h.01M612.0 125.6h.01M615.8 130.9h.01M616.4 127.5h.01M612.1 127.3h.01M612.2 128.8h.01M616.2 132.3h.01M613.7 118.7h.01M616.6 126.6h.01M617.4 121.4h.01M616.4 127.3h.01M615.2 127.2h.01M615.9 127.0h.01M613.1 128.0h.01M614.1 128.7h.01M615.3 135.6h.01M614.1 134.0h.01M612.2 117.6h.01M610.2 119.8h.01M607.3 119.3h.01M606.7 123.4h.01M613.4 121.8h.01M614.0 120.8h.01M614.4 116.7h.01M614.0 116.2h.01M615.8 121.8h.01M619.5 124.2h.01M618.2 120.5h.01M617.5 119.6h.01M619.1 121.5h.01M620.0 125.3h.01M621.4 124.0h.01M616.5 125.0h.01M615.4 124.0h.01M620.5 119.0h.01M619.0 120.4h.01M620.6 113.4h.01M623.6 112.7h.01M625.1 111.7h.01M626.2 114.1h.01M624.3 112.5h.01M618.9 120.1h.01M618.9 125.6h.01M620.8 125.6h.01M621.3 124.9h.01M622.6 118.2h.01M621.3 123.0h.01M619.9 129.7h.01M619.8 128.8h.01M620.9 135.8h.01M627.1 136.3h.01M626.9 135.0h.01M626.0 130.6h.01M626.9 119.3h.01M628.5 116.8h.01M628.7 120.0h.01M628.8 116.2h.01M627.2 114.0h.01M625.9 119.4h.01M628.2 118.5h.01M630.3 118.7h.01M628.1 114.2h.01M630.5 110.9h.01M627.0 118.1h.01M630.9 125.9h.01M630.9 128.7h.01M631.5 134.1h.01M631.5 129.0h.01M631.2 128.9h.01M634.8 124.6h.01M628.3 129.6h.01M626.9 131.0h.01M629.8 132.1h.01M628.5 132.1h.01M628.3 133.8h.01M625.8 134.9h.01M629.8 131.6h.01M624.8 133.2h.01M621.4 126.2h.01M623.6 123.6h.01M624.8 126.7h.01M622.6 132.9h.01M619.6 130.8h.01M620.7 133.4h.01M621.3 135.4h.01M622.1 135.6h.01M621.8 134.0h.01M623.3 126.1h.01M626.7 126.8h.01M628.4 130.5h.01M630.8 123.4h.01M631.3 124.1h.01M630.2 134.4h.01M635.9 128.1h.01M630.9 126.9h.01M633.3 128.4h.01M633.5 126.1h.01M630.8 127.4h.01M629.5 130.5h.01M630.1 131.9h.01M629.6 131.8h.01M629.9 132.3h.01M631.9 127.0h.01M628.5 132.1h.01M629.7 131.6h.01M630.4 130.6h.01M629.6 134.8h.01M632.0 132.8h.01M634.5 129.3h.01M632.3 135.6h.01M632.4 138.1h.01M636.3 131.2h.01M637.3 129.8h.01M639.7 130.7h.01M635.5 136.6h.01M635.7 129.2h.01M634.2 120.9h.01M638.0 117.0h.01M633.9 128.2h.01M633.1 129.9h.01M637.0 130.3h.01M641.0 125.2h.01M638.6 129.1h.01M637.2 131.6h.01M641.9 119.5h.01M644.9 119.1h.01M640.5 130.2h.01M641.9 126.7h.01M637.4 127.0h.01M638.3 129.1h.01M637.0 132.3h.01M637.0 125.7h.01M632.8 129.4h.01M635.6 129.0h.01M633.5 127.0h.01M642.1 120.7h.01M639.6 113.8h.01M639.2 114.5h.01M637.1 113.0h.01M636.9 114.8h.01M642.1 113.9h.01M639.2 118.3h.01M634.0 125.1h.01M637.5 121.7h.01M638.1 128.6h.01M641.7 121.0h.01M639.6 115.9h.01M642.8 112.5h.01M640.3 115.3h.01M638.5 124.2h.01M643.3 125.3h.01M641.0 125.0h.01M641.5 134.9h.01M643.2 133.7h.01M642.0 125.6h.01M645.4 131.8h.01M643.0 131.3h.01M644.6 125.8h.01M641.8 133.6h.01M646.9 124.3h.01M644.4 128.4h.01M641.6 130.5h.01M645.9 127.4h.01M647.6 118.1h.01M647.5 122.7h.01M649.0 121.3h.01M649.9 127.6h.01M649.2 127.1h.01M648.4 126.8h.01M650.2 119.0h.01M649.9 118.6h.01M650.2 123.7h.01M648.9 128.1h.01M649.1 117.1h.01M648.7 112.7h.01M649.6 112.4h.01M650.5 112.6h.01M649.7 112.5h.01M649.5 112.5h.01M650.5 112.7h.01M649.9 121.9h.01M650.8 112.7h.01M649.0 117.6h.01M651.7 121.2h.01M648.5 127.2h.01M647.7 134.1h.01M649.5 131.7h.01M647.7 136.3h.01M649.1 140.8h.01M648.2 134.0h.01M652.8 126.4h.01M655.7 119.9h.01M655.2 121.5h.01M655.6 125.7h.01M654.7 124.9h.01M655.7 129.7h.01M657.8 130.1h.01M656.0 129.3h.01M655.6 136.7h.01M655.1 136.9h.01M658.7 131.6h.01M656.4 132.7h.01M658.0 135.6h.01M657.6 138.5h.01M658.6 133.3h.01M656.8 136.3h.01M658.6 134.9h.01M661.5 136.4h.01M659.1 137.6h.01M661.8 132.7h.01M665.7 132.9h.01M660.8 125.9h.01M662.2 134.7h.01M661.9 136.8h.01M660.5 134.8h.01M657.9 130.3h.01M655.8 141.3h.01M656.4 138.8h.01M657.8 144.6h.01M654.9 143.7h.01M657.4 144.5h.01M656.3 140.8h.01M660.0 138.0h.01M659.6 140.1h.01M658.3 133.5h.01M658.5 134.8h.01M657.4 135.5h.01M660.7 133.1h.01M660.8 129.1h.01M660.4 123.8h.01M660.8 127.4h.01M664.5 132.7h.01M664.4 126.1h.01M663.8 122.4h.01M660.9 123.8h.01M663.6 123.0h.01M662.4 114.6h.01M660.9 120.3h.01M660.3 122.6h.01M661.4 124.8h.01M664.0 124.5h.01M660.6 132.0h.01M659.4 132.6h.01M660.9 137.2h.01M663.2 133.5h.01M665.0 129.8h.01M667.8 133.4h.01M671.4 136.0h.01M670.0 135.1h.01M666.6 135.4h.01M664.5 131.5h.01M663.3 135.3h.01M663.7 145.3h.01M662.1 138.4h.01M661.9 141.7h.01M663.1 140.8h.01M664.9 140.5h.01M668.4 145.9h.01M672.8 143.0h.01M666.8 141.7h.01M665.3 141.0h.01M668.2 139.4h.01M671.7 138.0h.01M671.5 136.4h.01M671.7 137.6h.01M673.2 127.3h.01M670.6 140.6h.01M672.8 139.2h.01M670.2 134.8h.01M667.7 138.5h.01M672.2 127.9h.01M670.4 146.1h.01M668.8 137.8h.01M665.4 135.0h.01M669.9 139.9h.01M671.5 140.0h.01M669.7 133.0h.01M668.4 132.1h.01M668.6 131.5h.01M671.1 133.4h.01M672.4 136.7h.01M668.1 142.8h.01M672.8 138.4h.01M674.7 140.0h.01M673.9 139.0h.01M671.2 132.4h.01M671.3 130.8h.01M674.4 123.2h.01M672.2 126.0h.01M674.6 125.9h.01M677.1 116.3h.01M676.2 116.2h.01M677.6 116.5h.01M680.5 116.7h.01M680.8 116.8h.01M677.8 124.3h.01M676.5 130.8h.01M674.8 134.6h.01M674.7 135.7h.01M679.6 124.7h.01M677.2 126.2h.01M682.9 122.5h.01M678.8 129.7h.01M685.6 130.1h.01M687.7 129.7h.01M686.4 130.0h.01M684.2 127.0h.01M684.8 125.4h.01M679.0 126.1h.01M677.4 122.5h.01M680.7 131.8h.01M679.8 135.8h.01M681.0 129.1h.01M676.0 125.9h.01M675.2 130.5h.01M673.3 124.2h.01M672.2 129.4h.01M672.1 127.7h.01M671.7 124.7h.01M675.9 132.1h.01M673.5 142.0h.01M676.5 131.3h.01M679.3 133.4h.01M682.9 133.2h.01M685.0 126.1h.01M680.8 130.6h.01M684.3 127.9h.01M684.6 128.1h.01M687.2 126.9h.01M688.8 123.2h.01M688.9 127.3h.01M688.4 128.2h.01M686.9 133.6h.01M683.5 130.6h.01M681.3 127.5h.01M682.0 130.6h.01M682.9 131.0h.01M683.7 132.5h.01M685.2 131.5h.01M684.7 134.5h.01M683.5 133.4h.01M682.2 129.6h.01M683.4 128.5h.01M682.2 132.9h.01M680.8 133.8h.01M681.3 131.4h.01M682.3 134.7h.01M679.6 141.9h.01M682.4 139.7h.01M686.3 147.4h.01M686.0 146.7h.01M688.7 146.0h.01M690.4 142.6h.01M687.5 148.5h.01M692.4 148.0h.01M691.8 147.1h.01M692.1 142.0h.01M692.3 138.8h.01M692.0 142.0h.01M693.0 139.9h.01M692.7 147.4h.01M691.9 148.6h.01M691.1 146.4h.01M695.0 140.2h.01M695.6 134.3h.01M693.5 126.7h.01M691.9 135.4h.01M694.6 126.4h.01M695.3 127.0h.01M695.2 120.7h.01M694.1 125.2h.01M692.1 122.5h.01M693.5 120.6h.01M694.2 127.5h.01M697.8 133.6h.01M695.6 133.4h.01M694.9 141.1h.01M695.5 137.4h.01M691.0 134.6h.01M694.5 135.4h.01M696.9 137.0h.01M696.6 145.1h.01M696.6 148.0h.01M695.9 147.4h.01M696.1 149.9h.01M696.4 150.0h.01M696.7 150.0h.01M694.7 147.6h.01M690.3 148.6h.01M688.2 141.1h.01M691.0 145.3h.01M696.4 142.6h.01M699.1 142.2h.01M699.2 139.2h.01M696.9 134.7h.01M696.1 144.1h.01M696.6 131.3h.01M696.8 137.9h.01M698.0 133.8h.01M695.6 132.3h.01M697.7 134.8h.01M699.3 135.4h.01M702.3 130.5h.01M702.2 131.3h.01M701.0 131.3h.01M703.9 129.8h.01M703.8 129.1h.01M705.2 130.2h.01M704.3 132.8h.01M701.6 132.6h.01M700.6 134.1h.01M698.0 133.6h.01M697.0 130.9h.01M696.2 136.5h.01M696.9 128.2h.01M702.9 128.5h.01M700.6 131.7h.01M699.0 141.2h.01M700.0 145.5h.01M705.4 142.8h.01M704.3 150.4h.01M706.0 145.5h.01M705.7 140.6h.01M703.5 140.0h.01M702.7 136.1h.01M705.4 133.3h.01M705.1 134.2h.01M705.2 135.1h.01M704.5 142.0h.01M707.6 140.6h.01M709.7 149.4h.01M709.4 144.2h.01M707.1 150.0h.01M706.3 147.9h.01M704.5 141.4h.01M703.9 147.6h.01M705.2 147.9h.01M706.9 139.1h.01M705.8 145.2h.01M706.7 138.7h.01M706.6 138.9h.01M705.9 149.2h.01M706.8 149.2h.01M707.4 145.5h.01M707.6 141.2h.01M707.0 147.9h.01M707.5 145.2h.01M707.9 144.2h.01" fill="none" stroke="#000080" stroke-width="3.4" stroke-linecap="round" stroke-linejoin="round"/>
<path d="M202.6 282.6 203.2 281.9 203.9 281.3 204.6 280.7 205.4 280.1 206.1 279.5 206.8 278.9 207.4 278.2 207.9 277.5 208.3 276.7 208.7 276.0 209.1 275.1 209.4 274.3 209.6 273.4 209.9 272.6 210.1 271.7 210.5 271.0 211.0 270.3 211.6 269.6 212.3 269.1 212.9 268.5 213.5 267.9 214.0 267.2 214.5 266.5 215.0 265.8 215.6 265.2 216.2 264.6 216.9 264.1 217.6 263.5 218.1 262.8 218.6 262.1 219.0 261.3 219.4 260.6 219.9 259.8 220.4 259.2 221.1 258.6 221.8 258.0 222.5 257.5 223.1 256.9 223.7 256.3 224.2 255.5 224.5 254.7 224.8 253.9 225.1 253.1 225.5 252.3 226.1 251.6 226.8 251.1 227.5 250.5 228.3 250.0 229.0 249.3 229.5 248.6 230.0 247.8 230.4 247.0 230.7 246.1 231.0 245.2 231.4 244.3 231.7 243.4 232.1 242.6 232.4 241.7 232.8 240.8 233.2 240.0 233.6 239.2 234.1 238.4 234.7 237.7 235.3 237.0 235.9 236.3 236.5 235.7 237.1 235.0 237.7 234.2 238.3 233.5 238.8 232.8 239.4 232.0 239.9 231.3 240.3 230.4 240.6 229.5 240.8 228.6 241.0 227.7 241.2 226.7 241.5 225.8 241.8 225.0 242.1 224.2 242.5 223.3 242.8 222.5 243.2 221.7 243.5 220.9 243.9 220.0 244.3 219.2 244.6 218.3 245.1 217.5 245.5 216.8 246.1 216.0 246.7 215.4 247.3 214.8 247.9 214.1 248.3 213.5 248.6 212.8 249.0 212.1 249.4 211.3 249.9 210.6 250.4 209.9 250.8 209.2 251.2 208.5 251.5 207.7 251.7 207.0 252.0 206.2 252.3 205.6 252.8 205.0 253.3 204.5 253.9 204.0 254.5 203.5 255.0 202.9 255.4 202.3 255.8 201.6 256.1 201.0 256.5 200.3 257.0 199.6 257.5 199.0 258.1 198.4 258.7 197.9 259.5 197.6 260.2 197.2 260.9 196.8 261.6 196.4 262.3 196.0 263.1 195.6 263.9 195.3 264.7 195.0 265.5 194.7 266.3 194.3 267.0 193.9 267.8 193.5 268.6 193.1 269.5 192.9 270.5 192.9 271.5 192.8 272.4 192.7 273.3 192.4 274.1 192.0 274.8 191.4 275.5 190.8 276.2 190.3 277.0 189.9 277.8 189.5 278.6 189.1 279.2 188.5 279.8 187.7 280.3 186.8 280.8 186.1 281.6 185.6 282.5 185.5 283.5 185.6 284.6 185.7 285.6 185.7 286.4 185.4 287.0 184.8 287.6 184.0 288.1 183.3 288.7 182.6 289.4 182.0 290.1 181.6 290.9 181.3 291.7 181.1 292.6 180.9 293.4 180.9 294.2 180.8 295.1 180.6 295.7 180.3 296.3 179.8 296.9 178.9 297.3 177.8 297.8 176.6 298.2 175.4 298.8 174.6 299.6 174.3 300.4 174.0 301.3 173.7 302.1 173.4 302.9 173.1 303.8 172.7 304.7 172.7 305.8 172.9 306.8 173.1 307.9 173.2 309.0 173.2 310.0 173.0 310.8 172.5 311.6 171.9 312.4 171.3 313.3 170.6 314.2 170.1 315.2 169.7 316.2 169.4 317.2 169.1 318.0 168.6 318.7 167.9 319.3 167.1 319.9 166.3 320.5 165.6 321.2 165.0 322.0 164.6 322.7 164.1 323.4 163.6 324.0 163.0 324.4 162.3 324.9 161.5 325.4 160.8 326.0 160.3 326.7 159.9 327.4 159.7 328.3 159.5 329.2 159.3 330.0 159.0 330.9 158.7 331.6 158.3 332.4 157.9 333.2 157.5 333.9 157.1 334.7 156.7 335.4 156.2 336.0 155.6 336.6 154.9 337.2 154.3 337.9 153.7 338.6 153.3 339.4 153.0 340.3 152.9 341.2 152.7 342.0 152.5 342.7 152.2 343.3 151.7 343.9 150.9 344.4 150.1 345.0 149.4 345.5 148.8 346.2 148.5 347.0 148.3 347.8 148.3 348.6 148.4 349.3 148.6 350.0 148.6 350.6 148.4 351.3 148.2 351.9 147.9 352.6 147.8 353.4 148.1 354.2 148.6 355.1 149.2 356.0 149.6 356.9 149.7 357.9 149.5 358.8 149.0 359.7 148.6 360.6 148.4 361.4 148.7 362.3 149.4 363.1 150.3 363.9 151.2 364.7 151.8 365.6 152.1 366.4 152.2 367.2 152.2 368.1 151.9 369.0 151.5 369.9 151.0 370.7 150.6 371.6 150.2 372.5 149.9 373.4 149.8 374.3 149.7 375.3 149.7 376.2 149.7 377.1 149.7 378.1 149.7 379.0 149.5 379.9 149.3 380.9 149.2 381.8 149.2 382.9 149.4 384.0 149.8 385.0 150.3 386.1 150.5 387.2 150.5 388.3 150.2 389.4 149.9 390.3 149.6 391.3 149.3 392.3 149.1 393.3 148.8 394.2 148.3 395.0 147.7 395.8 147.1 396.7 146.4 397.5 145.8 398.3 145.3 399.1 144.9 399.9 144.5 400.7 144.0 401.4 143.4 402.1 142.9 402.9 142.4 403.6 142.0 404.4 141.6 405.1 141.3 405.8 140.9 406.5 140.5 407.3 140.0 408.1 139.6 408.9 139.1 409.7 138.7 410.5 138.3 411.3 138.1 412.2 138.1 413.2 138.2 414.1 138.6 415.1 138.9 416.0 139.1 416.9 139.0 417.7 138.6 418.4 137.9 419.0 137.0 419.6 136.0 420.3 135.0 421.0 134.2 421.8 133.9 422.7 133.7 423.5 133.5 424.4 133.3 425.3 133.1 426.1 133.0 427.0 132.8 427.8 132.6 428.7 132.5 429.5 132.4 430.6 132.9 431.6 133.6 432.6 134.2 433.5 134.7 434.5 135.1 435.4 135.3 436.3 135.3 437.1 135.2 437.9 134.9 438.7 134.5 439.5 133.9 440.2 133.3 441.0 132.9 441.9 132.5 442.7 132.3 443.6 132.1 444.5 132.1 445.4 132.2 446.3 132.3 447.2 132.3 448.0 132.1 448.8 131.7 449.6 131.2 450.5 130.8 451.3 130.6 452.2 130.6 453.1 130.8 454.0 131.0 454.9 131.3 455.9 131.7 456.8 132.0 457.7 132.3 458.6 132.5 459.4 132.4 460.2 132.0 461.0 131.3 461.8 130.4 462.6 129.6 463.3 128.9 464.2 128.4 465.0 128.2 465.9 128.1 466.8 128.3 467.6 128.6 468.5 128.8 469.4 129.0 470.3 128.9 471.1 128.7 471.9 128.4 472.8 128.1 473.6 127.9 474.5 127.8 475.4 127.7 476.2 127.7 477.1 127.6 478.0 127.6 478.8 127.5 479.7 127.6 480.6 127.7 481.4 127.8 482.3 127.9 483.2 127.9 484.0 127.8 484.9 127.8 485.7 127.7 486.6 127.7 487.5 127.7 488.3 127.7 489.2 127.6 490.1 127.7 490.9 127.8 491.8 128.1 492.6 128.4 493.5 128.8 494.4 129.3 495.2 129.7 496.1 130.1 496.9 130.4 497.8 130.5 498.7 130.6 499.5 130.6 500.4 130.6 501.2 130.7 502.0 130.8 502.9 131.0 503.7 131.1 504.6 130.9 505.4 130.4 506.4 129.7 507.2 128.8 508.2 128.1 509.0 127.5 509.9 127.3 510.8 127.2 511.7 127.4 512.5 127.5 513.4 127.8 514.3 128.0 515.1 128.2 516.0 128.3 516.9 128.3 517.8 128.1 518.7 127.8 519.6 127.4 520.5 127.2 521.4 127.1 522.2 127.2 523.1 127.6 523.9 128.2 524.8 128.9 525.6 129.6 526.5 130.4 527.3 131.1 528.2 131.8 529.0 132.3 529.9 132.7 530.8 132.8 531.7 132.8 532.6 132.6 533.5 132.2 534.5 131.5 535.4 130.6 536.3 129.6 537.3 128.8 538.2 128.3 539.1 128.3 540.0 128.7 540.8 129.3 541.7 129.9 542.6 130.4 543.5 130.6 544.4 130.6 545.3 130.4 546.2 130.2 547.1 129.9 547.9 129.7 548.8 129.5 549.7 129.5 550.6 129.6 551.5 129.8 552.4 130.0 553.3 130.1 554.1 130.1 555.0 130.1 555.9 130.1 556.8 130.2 557.7 130.4 558.6 130.6 559.5 130.7 560.3 130.6 561.2 130.4 562.1 130.0 563.0 129.6 563.9 129.4 564.8 129.4 565.6 129.5 566.5 129.8 567.4 130.0 568.3 130.2 569.2 130.3 570.0 130.5 570.9 130.6 571.8 130.9 572.7 131.1 573.6 131.4 574.4 131.6 575.3 131.6 576.2 131.5 577.1 131.2 577.9 130.7 578.8 130.2 579.7 129.5 580.5 128.9 581.4 128.5 582.3 128.4 583.2 128.6 584.0 128.9 584.9 129.4 585.8 130.0 586.7 130.6 587.5 131.2 588.4 131.6 589.3 131.8 590.1 131.8 591.0 131.7 591.9 131.4 592.8 131.3 593.7 131.3 594.6 131.4 595.4 131.7 596.3 131.9 597.2 132.1 598.1 132.2 599.0 132.1 599.9 131.9 600.8 131.8 601.7 131.7 602.6 131.9 603.5 132.2 604.4 132.5 605.3 132.9 606.2 133.1 607.1 133.0 608.1 132.7 609.0 132.2 609.8 131.7 610.8 131.3 611.7 131.1 612.6 131.1 613.6 131.1 614.5 131.1 615.5 131.0 616.4 130.9 617.3 130.6 618.2 130.4 619.1 130.3 620.0 130.3 620.9 130.5 621.9 130.8 622.8 131.0 623.7 131.0 624.5 130.9 625.4 130.8 626.2 130.6 627.1 130.7 627.9 130.8 628.7 131.0 629.6 131.0 630.4 130.9 631.1 130.4 631.9 129.8 632.7 129.1 633.4 128.5 634.2 128.1 635.0 127.9 635.9 128.0 636.7 128.2 637.5 128.4 638.4 128.6 639.2 128.8 640.0 129.1 640.9 129.4 641.7 129.8 642.5 129.9 643.4 129.8 644.3 129.6 645.1 129.2 646.0 128.8 646.9 128.6 647.7 128.7 648.5 128.9 649.3 129.3 650.1 129.8 650.9 130.4 651.7 131.0 652.5 131.5 653.3 131.8 654.1 131.9 654.9 132.0 655.8 132.0 656.6 132.0 657.4 132.0 658.3 132.0 659.1 132.0 660.0 132.0 660.8 132.1 661.6 132.3 662.4 132.6 663.2 133.0 663.9 133.4 664.7 133.7 665.6 133.8 666.4 134.0 667.2 134.2 668.0 134.4 668.8 134.7 669.6 134.9 670.5 134.9 671.4 134.8 672.3 134.7 673.1 134.8 673.9 135.2 674.7 135.6 675.4 136.0 676.2 136.2 677.1 136.3 678.0 136.3 678.8 136.3 679.7 136.3 680.5 136.5 681.3 136.7 682.1 137.0 682.8 137.2 683.5 137.5 684.2 137.8 684.9 138.2 685.5 138.6 686.0 139.2 686.6 139.8 687.0 140.6 687.5 141.4 687.9 142.1 688.5 142.7 689.2 143.1 690.0 143.4 690.8 143.7 691.6 144.1 692.4 144.7 693.2 145.5 694.0 146.2 695.2 146.7 696.4 146.8 697.7 146.4 699.1 145.6 700.4 144.9 701.6 144.4 702.7 144.4 703.6 144.8 704.3 145.5 705.0 146.3 705.6 147.0 706.2 147.4 710.9 133.8 710.1 133.1 709.4 132.1 708.8 131.0 708.2 130.0 707.6 129.2 706.9 129.0 706.1 129.3 705.1 129.9 704.0 130.6 703.0 131.2 702.1 131.4 701.4 131.1 700.9 130.6 700.3 130.0 699.7 129.5 698.9 129.1 698.0 128.9 697.1 128.7 696.3 128.3 695.5 127.8 694.8 127.0 694.1 126.2 693.4 125.4 692.6 124.7 691.8 124.1 690.9 123.6 690.0 123.2 689.0 122.8 688.0 122.5 687.0 122.2 686.1 122.0 685.2 121.8 684.3 121.6 683.4 121.5 682.4 121.5 681.4 121.5 680.5 121.6 679.6 121.4 678.7 121.1 677.9 120.6 677.0 120.3 676.1 120.1 675.2 120.2 674.2 120.3 673.3 120.4 672.4 120.3 671.5 120.0 670.6 119.7 669.7 119.6 668.8 119.4 667.9 119.3 667.0 119.1 666.2 118.8 665.3 118.4 664.4 118.1 663.5 117.8 662.6 117.8 661.7 117.8 660.7 117.8 659.8 117.8 658.9 117.9 658.0 117.9 657.1 117.9 656.1 117.9 655.2 117.8 654.3 117.6 653.5 117.2 652.6 116.7 651.7 116.1 650.9 115.6 650.0 115.2 649.1 115.0 648.2 114.9 647.2 115.1 646.3 115.5 645.3 115.9 644.4 116.3 643.5 116.4 642.5 116.4 641.7 116.1 640.7 115.8 639.8 115.5 638.9 115.3 638.0 115.2 637.1 115.0 636.2 114.8 635.3 114.7 634.3 114.8 633.3 115.2 632.4 115.8 631.5 116.5 630.5 117.2 629.6 117.7 628.8 117.9 627.8 118.0 626.9 117.8 626.0 117.7 625.1 117.6 624.2 117.7 623.3 117.9 622.4 118.0 621.5 118.0 620.6 117.8 619.7 117.5 618.8 117.3 617.9 117.2 617.1 117.2 616.2 117.4 615.4 117.7 614.6 117.9 613.7 118.0 612.9 118.0 612.1 117.9 611.2 117.9 610.4 118.1 609.6 118.4 608.8 118.9 607.9 119.4 607.1 119.8 606.2 119.9 605.3 119.8 604.5 119.4 603.6 119.0 602.7 118.7 601.9 118.6 601.0 118.6 600.1 118.7 599.3 118.9 598.4 119.0 597.5 119.0 596.6 118.8 595.8 118.5 594.9 118.3 594.0 118.1 593.2 118.1 592.3 118.2 591.4 118.4 590.5 118.6 589.6 118.7 588.7 118.5 587.9 118.1 587.0 117.6 586.1 117.0 585.2 116.4 584.3 115.8 583.5 115.4 582.6 115.2 581.7 115.3 580.8 115.6 579.9 116.2 579.0 116.8 578.1 117.4 577.2 117.9 576.3 118.2 575.5 118.4 574.6 118.4 573.7 118.2 572.8 118.0 571.9 117.7 571.0 117.5 570.2 117.3 569.3 117.2 568.4 117.0 567.5 116.9 566.6 116.6 565.7 116.4 564.9 116.2 564.0 116.2 563.1 116.4 562.2 116.7 561.4 117.1 560.5 117.4 559.6 117.5 558.7 117.4 557.9 117.3 557.0 117.1 556.1 117.0 555.2 116.9 554.4 116.9 553.5 116.9 552.6 116.8 551.8 116.6 550.9 116.5 550.0 116.3 549.1 116.3 548.3 116.4 547.4 116.6 546.5 116.9 545.7 117.2 544.8 117.4 543.9 117.5 543.1 117.3 542.2 116.9 541.3 116.2 540.5 115.6 539.7 115.2 538.8 115.1 538.0 115.5 537.1 116.2 536.2 117.1 535.3 118.1 534.3 118.8 533.5 119.4 532.6 119.6 531.7 119.7 530.8 119.5 530.0 119.2 529.1 118.7 528.3 118.1 527.5 117.4 526.6 116.6 525.8 115.9 525.0 115.2 524.1 114.6 523.3 114.1 522.4 113.9 521.5 114.0 520.6 114.2 519.7 114.5 518.8 114.8 517.9 115.1 517.0 115.2 516.2 115.1 515.3 114.9 514.4 114.7 513.5 114.4 512.7 114.2 511.8 114.1 510.9 114.1 510.0 114.3 509.0 114.7 508.1 115.4 507.2 116.3 506.2 117.1 505.3 117.6 504.4 117.9 503.5 117.9 502.6 117.7 501.7 117.5 500.8 117.4 499.9 117.4 499.0 117.4 498.1 117.4 497.3 117.2 496.4 117.0 495.5 116.6 494.6 116.2 493.7 115.7 492.8 115.3 491.9 114.9 491.0 114.6 490.1 114.5 489.2 114.4 488.3 114.4 487.4 114.4 486.5 114.5 485.6 114.5 484.7 114.5 483.7 114.5 482.9 114.6 481.9 114.6 481.0 114.6 480.1 114.5 479.2 114.4 478.3 114.3 477.4 114.3 476.5 114.3 475.6 114.4 474.7 114.5 473.8 114.6 472.9 114.6 472.0 114.8 471.1 115.1 470.2 115.4 469.4 115.7 468.5 115.9 467.5 115.8 466.6 115.6 465.6 115.3 464.7 115.1 463.8 115.2 462.9 115.4 462.1 115.9 461.2 116.5 460.4 117.4 459.6 118.3 458.8 119.1 458.0 119.6 457.1 119.8 456.2 119.7 455.3 119.5 454.4 119.2 453.4 118.9 452.5 118.6 451.5 118.4 450.6 118.2 449.7 118.2 448.8 118.4 448.0 118.8 447.2 119.4 446.4 119.8 445.5 120.1 444.6 120.2 443.7 120.1 442.8 120.1 441.9 120.1 441.0 120.3 440.2 120.5 439.4 120.9 438.5 121.4 437.7 122.0 436.9 122.6 436.1 123.2 435.3 123.6 434.4 123.8 433.5 123.9 432.6 123.8 431.6 123.6 430.6 123.2 429.6 122.6 428.6 122.1 427.5 121.6 426.6 121.6 425.7 121.8 424.9 122.0 424.0 122.3 423.1 122.5 422.3 122.7 421.4 122.9 420.5 123.1 419.7 123.3 418.8 123.5 418.0 124.2 417.3 125.2 416.6 126.1 415.9 127.0 415.1 127.7 414.3 128.0 413.4 128.1 412.4 127.8 411.3 127.4 410.2 126.9 409.2 126.5 408.2 126.3 407.3 126.3 406.4 126.5 405.6 126.7 404.7 127.0 403.9 127.4 403.1 127.7 402.2 128.0 401.3 128.4 400.3 128.7 399.4 129.0 398.5 129.3 397.7 129.6 396.9 130.0 396.1 130.5 395.3 130.9 394.5 131.2 393.7 131.5 392.9 131.8 392.2 132.2 391.5 132.7 390.8 133.2 390.1 133.7 389.4 134.1 388.6 134.3 387.8 134.4 387.0 134.5 386.3 134.7 385.6 134.9 384.9 135.1 384.1 135.1 383.2 134.9 382.4 134.4 381.7 133.9 380.8 133.6 380.0 133.6 379.3 133.7 378.5 133.9 377.6 134.1 376.8 134.2 376.0 134.2 375.1 134.3 374.3 134.3 373.5 134.4 372.6 134.6 371.7 134.9 370.9 135.3 370.0 135.8 369.1 136.3 368.2 136.8 367.4 137.2 366.5 137.3 365.6 137.4 364.7 137.2 363.8 136.7 362.8 135.9 361.8 135.1 360.9 134.4 359.8 134.1 358.9 134.2 358.2 134.6 357.4 135.1 356.6 135.5 355.7 135.6 354.9 135.3 353.9 134.8 352.9 134.4 351.9 134.1 350.8 134.2 349.6 134.6 348.6 135.1 347.4 135.4 346.2 135.6 345.0 135.7 343.9 135.7 342.7 135.8 341.6 136.1 340.7 136.5 339.8 137.2 339.1 138.0 338.4 138.9 337.7 139.7 336.9 140.3 336.1 140.8 335.2 141.1 334.2 141.3 333.3 141.5 332.4 141.7 331.5 142.1 330.8 142.7 330.1 143.3 329.5 144.0 328.8 144.7 328.0 145.2 327.3 145.7 326.5 146.1 325.7 146.5 324.9 146.9 324.1 147.3 323.2 147.7 322.4 148.0 321.5 148.2 320.5 148.5 319.5 148.9 318.6 149.4 317.9 150.1 317.2 150.9 316.6 151.8 316.1 152.7 315.5 153.4 314.8 154.1 314.1 154.7 313.4 155.2 312.7 155.7 312.2 156.4 311.8 157.2 311.3 157.9 310.9 158.6 310.2 159.1 309.5 159.3 308.8 159.5 308.1 159.7 307.4 160.1 306.9 160.6 306.3 161.1 305.7 161.7 305.1 162.1 304.3 162.3 303.5 162.3 302.5 162.1 301.5 161.9 300.6 161.7 299.6 161.6 298.8 161.8 298.1 162.2 297.2 162.5 296.4 162.8 295.6 163.1 294.7 163.4 294.0 164.0 293.5 165.2 293.0 166.4 292.4 167.6 291.8 168.5 291.1 169.2 290.3 169.6 289.4 169.9 288.4 170.1 287.4 170.2 286.4 170.4 285.5 170.6 284.6 170.9 283.8 171.3 283.1 171.9 282.4 172.6 281.8 173.3 281.2 174.1 280.6 174.8 279.8 175.2 278.8 175.3 277.7 175.2 276.6 175.1 275.6 175.1 274.8 175.6 274.2 176.3 273.7 177.1 273.2 178.0 272.5 178.6 271.8 179.1 271.0 179.4 270.2 179.8 269.4 180.3 268.8 180.9 268.1 181.5 267.4 182.0 266.6 182.3 265.7 182.5 264.7 182.6 263.8 182.7 262.9 182.9 262.1 183.3 261.3 183.8 260.6 184.3 259.8 184.8 259.0 185.2 258.2 185.6 257.3 186.0 256.5 186.5 255.8 187.1 255.0 187.7 254.1 188.2 253.3 188.7 252.5 189.2 251.7 189.8 251.0 190.5 250.3 191.3 249.7 192.1 249.1 193.1 248.6 194.0 248.0 194.9 247.5 195.8 246.9 196.6 246.2 197.3 245.5 198.0 244.8 198.8 244.3 199.6 243.8 200.6 243.5 201.5 243.2 202.5 243.0 203.5 242.7 204.4 242.3 205.2 241.8 206.0 241.4 206.8 241.1 207.6 240.7 208.5 240.4 209.4 240.0 210.2 239.5 211.0 238.9 211.8 238.3 212.5 237.7 213.3 237.3 214.0 236.9 214.8 236.6 215.6 236.3 216.3 236.0 217.1 235.7 217.9 235.3 218.7 235.0 219.5 234.7 220.3 234.4 221.1 234.0 221.9 233.8 222.7 233.6 223.6 233.4 224.5 233.3 225.3 233.0 226.2 232.7 226.9 232.2 227.7 231.7 228.4 231.2 229.1 230.7 229.7 230.1 230.4 229.5 231.1 229.0 231.7 228.4 232.4 227.8 233.0 227.2 233.7 226.7 234.4 226.3 235.1 225.9 235.9 225.5 236.6 225.2 237.4 224.8 238.2 224.4 239.0 224.1 239.8 223.7 240.6 223.3 241.4 222.9 242.2 222.4 242.9 221.9 243.6 221.2 244.1 220.5 244.6 219.7 245.1 218.9 245.6 218.3 246.2 217.7 247.0 217.3 247.8 217.0 248.7 216.6 249.5 216.1 250.3 215.6 251.0 214.9 251.6 214.2 252.2 213.5 252.7 212.8 253.4 212.2 254.0 211.7 254.8 211.3 255.6 210.8 256.4 210.4 257.1 209.9 257.9 209.2 258.5 208.5 259.1 207.8 259.7 207.1 260.4 206.5 261.1 206.0 261.8 205.5 262.6 204.9 263.3 204.2 264.0 203.5 264.6 202.7 265.3 202.1 266.0 201.7 266.8 201.3 267.6 201.1 268.5 200.8 269.4 200.6 270.3 200.3 271.1 200.0 272.0 199.8 272.9 199.5 273.7 199.2 274.6 198.8 275.4 198.4 276.2 198.0 276.9 197.5 277.7 197.2 278.5 196.9 279.3Z" fill="#808000"/><path d="M201.9 282.3h.01M203.5 282.8h.01M202.9 282.2h.01M203.5 282.4h.01M200.7 280.7h.01M200.4 280.5h.01M204.8 282.4h.01M200.2 280.3h.01M201.4 281.1h.01M203.1 283.3h.01M204.6 282.2h.01M204.7 282.4h.01M204.6 282.7h.01M205.7 282.1h.01M206.6 285.2h.01M206.4 284.2h.01M207.7 283.4h.01M207.8 283.4h.01M199.6 284.2h.01M202.4 282.3h.01M200.6 278.7h.01M200.5 280.4h.01M199.4 275.7h.01M198.1 277.3h.01M194.2 276.5h.01M200.0 275.6h.01M201.7 274.1h.01M206.0 276.8h.01M209.3 277.2h.01M207.5 277.8h.01M201.2 276.7h.01M204.0 279.0h.01M203.1 274.6h.01M206.0 273.3h.01M207.5 273.6h.01M209.6 268.5h.01M211.9 268.8h.01M208.5 269.1h.01M209.8 268.7h.01M212.9 269.7h.01M212.4 273.9h.01M209.0 275.1h.01M209.1 271.6h.01M212.9 276.8h.01M209.1 274.6h.01M211.7 273.1h.01M210.8 269.4h.01M209.1 269.8h.01M203.0 272.7h.01M205.1 273.3h.01M205.8 271.5h.01M205.6 272.0h.01M205.1 275.9h.01M203.2 275.3h.01M204.3 272.7h.01M207.0 271.8h.01M204.0 271.3h.01M204.9 270.6h.01M207.3 272.5h.01M205.8 270.2h.01M207.2 272.7h.01M205.3 270.8h.01M207.0 273.1h.01M206.9 269.3h.01M202.1 267.5h.01M206.3 269.1h.01M205.0 270.1h.01M202.1 272.7h.01M203.8 272.9h.01M202.6 274.1h.01M207.0 273.0h.01M209.0 270.3h.01M205.1 268.4h.01M202.2 268.5h.01M201.9 265.4h.01M203.2 266.6h.01M205.7 265.5h.01M208.4 264.5h.01M209.0 265.6h.01M206.8 259.9h.01M211.2 262.1h.01M215.1 263.1h.01M213.8 262.8h.01M209.9 263.4h.01M208.1 261.9h.01M207.1 262.0h.01M213.2 263.2h.01M210.4 263.6h.01M210.0 262.8h.01M207.8 259.9h.01M213.1 259.2h.01M212.4 260.9h.01M218.2 264.7h.01M217.9 266.9h.01M215.5 267.7h.01M212.8 266.8h.01M212.2 263.0h.01M212.2 260.2h.01M216.1 263.0h.01M212.5 262.9h.01M216.5 262.6h.01M212.5 259.4h.01M213.9 259.5h.01M212.1 257.3h.01M217.3 258.0h.01M219.0 258.6h.01M218.9 259.6h.01M217.1 259.8h.01M215.8 259.8h.01M216.9 261.3h.01M215.6 262.8h.01M213.5 263.3h.01M214.5 258.9h.01M213.4 255.4h.01M212.0 256.3h.01M212.4 256.7h.01M212.0 257.2h.01M212.2 256.0h.01M210.4 255.7h.01M210.3 255.5h.01M208.8 253.6h.01M209.5 250.9h.01M210.7 252.7h.01M213.6 255.1h.01M213.7 258.3h.01M212.6 259.6h.01M213.2 259.8h.01M211.1 260.1h.01M208.7 262.9h.01M208.7 263.9h.01M211.4 264.7h.01M207.6 261.6h.01M209.1 261.5h.01M209.1 262.0h.01M208.2 258.6h.01M210.7 256.8h.01M212.1 252.8h.01M215.0 253.0h.01M210.5 250.1h.01M213.9 250.2h.01M210.1 251.1h.01M209.0 255.9h.01M213.6 254.0h.01M211.9 252.2h.01M208.9 252.9h.01M214.5 252.4h.01M215.6 249.1h.01M217.5 249.3h.01M216.8 250.3h.01M218.5 246.1h.01M218.6 248.3h.01M219.5 250.2h.01M220.8 252.5h.01M216.6 249.4h.01M214.6 252.2h.01M216.1 254.3h.01M217.6 253.4h.01M217.2 247.6h.01M215.2 247.1h.01M215.4 248.0h.01M216.3 247.9h.01M218.2 247.0h.01M217.7 243.5h.01M220.2 247.2h.01M217.2 249.6h.01M214.8 254.0h.01M216.4 250.0h.01M219.0 250.6h.01M221.8 250.1h.01M223.9 249.5h.01M227.9 251.1h.01M226.5 245.1h.01M223.4 242.6h.01M225.3 241.2h.01M221.8 241.4h.01M224.7 243.2h.01M224.7 245.6h.01M224.3 247.3h.01M222.9 250.7h.01M223.7 250.7h.01M222.5 249.3h.01M226.5 248.9h.01M226.6 250.4h.01M228.0 253.4h.01M226.0 253.1h.01M226.3 255.1h.01M228.0 253.1h.01M227.2 249.8h.01M221.2 250.3h.01M223.4 248.7h.01M222.6 249.6h.01M221.0 246.3h.01M217.6 246.2h.01M219.0 242.8h.01M217.4 245.5h.01M215.5 245.3h.01M216.8 244.2h.01M217.4 246.7h.01M219.9 246.1h.01M218.9 247.4h.01M222.0 247.1h.01M221.1 242.4h.01M221.0 248.4h.01M224.1 247.4h.01M220.6 242.6h.01M220.4 244.8h.01M222.1 244.9h.01M220.6 243.2h.01M225.6 240.6h.01M225.2 241.1h.01M223.1 237.8h.01M222.1 238.4h.01M220.5 236.7h.01M222.7 237.3h.01M223.0 238.7h.01M224.3 237.5h.01M222.5 237.6h.01M222.8 238.6h.01M220.6 238.1h.01M219.6 238.0h.01M221.0 237.3h.01M223.7 237.3h.01M221.4 240.5h.01M221.2 242.6h.01M223.9 243.6h.01M222.8 241.6h.01M221.1 244.0h.01M226.1 244.0h.01M230.2 240.6h.01M228.1 239.5h.01M225.7 239.0h.01M228.6 243.6h.01M229.3 244.4h.01M231.3 247.0h.01M229.0 244.6h.01M230.6 244.4h.01M228.6 246.5h.01M231.4 245.4h.01M231.6 243.6h.01M231.0 245.4h.01M230.7 241.5h.01M229.5 236.4h.01M230.6 239.2h.01M234.9 240.5h.01M233.4 241.0h.01M234.2 242.4h.01M235.2 242.9h.01M233.3 245.8h.01M233.9 245.0h.01M233.5 245.5h.01M233.6 245.4h.01M230.6 243.2h.01M226.0 241.1h.01M229.6 239.1h.01M232.0 239.9h.01M236.6 238.6h.01M236.3 241.2h.01M236.0 241.7h.01M235.3 242.8h.01M234.9 243.5h.01M235.7 242.2h.01M236.9 240.2h.01M238.8 235.3h.01M232.3 232.7h.01M232.8 231.5h.01M230.5 230.2h.01M227.9 229.7h.01M230.8 232.1h.01M230.2 232.7h.01M230.6 227.3h.01M231.4 227.4h.01M234.1 227.5h.01M233.8 229.2h.01M235.7 229.2h.01M237.4 230.6h.01M234.5 230.1h.01M233.1 229.4h.01M230.4 229.6h.01M231.6 226.5h.01M230.6 227.1h.01M231.5 229.1h.01M229.9 230.1h.01M228.2 230.6h.01M230.8 233.0h.01M232.4 237.5h.01M232.3 237.6h.01M233.2 235.3h.01M233.7 230.8h.01M237.4 230.6h.01M236.5 228.3h.01M235.3 224.8h.01M232.2 226.0h.01M237.3 226.0h.01M234.3 222.8h.01M234.6 222.8h.01M235.3 224.2h.01M234.7 222.8h.01M236.9 222.5h.01M232.3 224.5h.01M236.3 225.8h.01M237.7 225.1h.01M237.6 223.7h.01M236.3 225.8h.01M238.0 227.8h.01M235.8 228.1h.01M238.8 227.4h.01M240.6 222.1h.01M243.7 222.7h.01M241.4 220.2h.01M241.1 223.8h.01M243.9 226.8h.01M244.7 225.7h.01M244.3 226.0h.01M241.4 225.7h.01M238.9 225.3h.01M238.9 225.3h.01M237.4 222.5h.01M237.4 221.2h.01M238.2 219.2h.01M233.2 216.9h.01M237.8 215.3h.01M231.4 219.5h.01M232.9 220.5h.01M235.2 217.2h.01M235.6 218.4h.01M234.9 220.5h.01M232.7 220.9h.01M234.6 220.9h.01M236.4 219.5h.01M233.6 220.1h.01M236.0 219.7h.01M235.7 221.8h.01M236.8 221.3h.01M239.0 222.4h.01M245.2 222.9h.01M244.1 221.1h.01M246.2 219.1h.01M246.6 221.2h.01M240.0 226.8h.01M242.1 224.6h.01M241.3 222.3h.01M238.0 220.5h.01M237.1 221.0h.01M238.5 223.7h.01M242.4 224.5h.01M242.3 222.3h.01M243.1 219.8h.01M244.0 221.2h.01M237.0 220.8h.01M238.4 218.9h.01M239.6 215.8h.01M237.2 214.0h.01M235.9 217.9h.01M241.1 216.4h.01M239.0 219.1h.01M238.5 216.5h.01M234.4 220.3h.01M232.0 220.8h.01M233.8 219.5h.01M234.6 219.7h.01M232.4 217.1h.01M237.5 217.1h.01M235.7 213.1h.01M236.3 211.1h.01M238.1 215.6h.01M237.4 216.0h.01M241.2 212.1h.01M240.7 212.7h.01M243.0 217.8h.01M242.8 214.8h.01M242.8 214.8h.01M241.3 214.1h.01M242.0 210.8h.01M241.0 207.7h.01M240.6 207.6h.01M245.8 206.8h.01M246.4 207.8h.01M241.0 205.4h.01M242.0 204.1h.01M241.1 205.0h.01M244.5 206.9h.01M241.8 204.4h.01M241.0 204.1h.01M240.2 205.2h.01M243.4 202.2h.01M244.1 203.1h.01M248.2 203.4h.01M245.3 203.9h.01M242.5 202.0h.01M244.4 205.3h.01M244.6 201.8h.01M244.2 202.2h.01M245.7 203.3h.01M249.1 197.9h.01M247.4 202.0h.01M243.1 200.2h.01M242.9 200.6h.01M246.9 203.0h.01M244.1 200.9h.01M243.1 203.3h.01M242.3 204.7h.01M239.2 200.9h.01M242.1 203.7h.01M246.5 205.1h.01M243.1 202.7h.01M245.8 201.4h.01M242.3 196.9h.01M243.6 195.4h.01M242.1 199.2h.01M241.2 197.4h.01M241.1 197.4h.01M246.5 198.0h.01M244.5 196.3h.01M245.8 194.2h.01M242.0 195.9h.01M247.4 194.6h.01M248.0 195.5h.01M250.7 197.3h.01M252.9 200.2h.01M250.6 200.9h.01M254.1 201.2h.01M252.6 201.2h.01M254.8 199.6h.01M257.2 198.2h.01M260.6 198.6h.01M260.8 198.5h.01M259.6 199.3h.01M260.1 202.3h.01M257.2 203.7h.01M257.2 204.3h.01M256.7 201.1h.01M254.6 203.3h.01M254.0 202.4h.01M252.5 201.7h.01M249.6 201.9h.01M251.6 203.8h.01M250.0 202.7h.01M251.6 208.2h.01M251.5 212.7h.01M249.2 215.2h.01M249.8 209.4h.01M252.2 207.7h.01M249.5 206.3h.01M252.7 205.1h.01M251.5 202.3h.01M251.3 202.7h.01M253.2 200.6h.01M251.7 202.5h.01M247.8 203.1h.01M245.5 202.0h.01M245.5 202.2h.01M247.6 198.4h.01M253.7 199.8h.01M248.7 198.3h.01M252.2 201.6h.01M252.8 196.9h.01M256.9 196.9h.01M255.4 199.5h.01M260.7 201.2h.01M260.0 199.3h.01M255.5 193.9h.01M260.9 197.9h.01M259.4 200.3h.01M259.8 200.0h.01M254.0 194.6h.01M254.8 194.4h.01M256.2 197.5h.01M255.9 195.0h.01M259.7 194.7h.01M261.5 197.7h.01M261.8 199.9h.01M258.7 197.8h.01M260.1 200.4h.01M260.9 202.3h.01M260.3 198.3h.01M259.1 198.1h.01M256.4 199.6h.01M255.4 196.8h.01M257.7 198.1h.01M259.3 197.8h.01M258.1 194.5h.01M258.6 197.4h.01M256.2 193.5h.01M257.7 191.9h.01M259.9 191.6h.01M255.1 189.9h.01M255.9 187.0h.01M254.4 188.3h.01M253.7 187.3h.01M258.8 191.1h.01M255.4 183.1h.01M256.8 184.2h.01M256.3 182.5h.01M257.5 182.4h.01M258.5 187.6h.01M258.4 187.4h.01M262.4 193.1h.01M263.1 193.0h.01M262.1 193.5h.01M268.0 192.6h.01M266.8 189.5h.01M265.8 183.7h.01M264.6 183.2h.01M263.1 179.7h.01M264.3 182.5h.01M262.5 180.5h.01M263.3 181.4h.01M262.9 183.5h.01M265.0 184.4h.01M269.7 187.3h.01M267.7 188.7h.01M262.5 183.9h.01M264.9 193.7h.01M263.8 188.4h.01M267.1 188.4h.01M268.5 188.4h.01M269.1 193.7h.01M269.0 193.5h.01M269.6 192.1h.01M268.6 187.1h.01M271.0 188.7h.01M267.8 190.2h.01M262.6 189.2h.01M264.4 193.2h.01M263.0 196.3h.01M269.2 196.2h.01M267.1 195.6h.01M271.3 194.9h.01M270.3 189.8h.01M270.2 190.8h.01M270.9 193.2h.01M272.3 192.3h.01M272.8 188.4h.01M271.9 191.7h.01M270.3 191.1h.01M268.3 193.8h.01M269.4 192.6h.01M268.2 194.0h.01M269.4 195.5h.01M267.0 193.1h.01M262.8 189.1h.01M267.2 194.2h.01M269.1 196.4h.01M270.4 190.3h.01M271.8 191.7h.01M269.6 195.3h.01M273.6 195.8h.01M273.8 196.4h.01M274.9 195.7h.01M276.7 193.9h.01M269.7 189.9h.01M269.4 194.2h.01M267.5 195.9h.01M268.0 192.5h.01M269.5 195.1h.01M270.1 191.0h.01M272.7 190.8h.01M272.8 193.1h.01M272.2 191.9h.01M273.0 187.6h.01M278.8 189.5h.01M281.4 187.4h.01M281.5 188.3h.01M281.6 186.4h.01M281.9 184.2h.01M284.1 185.4h.01M279.7 181.0h.01M278.3 176.3h.01M281.3 184.2h.01M277.8 183.6h.01M283.7 182.9h.01M280.7 184.5h.01M278.4 184.6h.01M282.2 191.4h.01M279.8 189.2h.01M279.4 185.8h.01M278.5 185.6h.01M277.8 189.0h.01M277.4 186.0h.01M275.3 185.2h.01M275.4 185.0h.01M274.4 185.4h.01M273.5 187.9h.01M276.3 186.0h.01M275.0 180.2h.01M276.8 184.0h.01M281.2 190.6h.01M275.9 186.4h.01M275.6 189.0h.01M274.5 185.4h.01M278.9 187.1h.01M277.3 186.1h.01M277.0 185.8h.01M275.7 188.4h.01M272.8 180.4h.01M273.2 183.3h.01M275.0 188.3h.01M275.0 192.3h.01M275.5 190.4h.01M278.0 184.6h.01M279.5 181.7h.01M275.0 179.2h.01M277.4 174.5h.01M277.4 176.2h.01M283.3 183.5h.01M283.1 181.4h.01M290.5 183.4h.01M289.0 187.4h.01M285.9 180.1h.01M285.7 180.4h.01M285.8 183.2h.01M286.0 181.6h.01M284.6 184.5h.01M286.3 178.1h.01M290.9 183.0h.01M283.9 178.5h.01M285.4 180.3h.01M285.9 185.5h.01M287.3 185.4h.01M286.4 184.0h.01M289.8 181.8h.01M292.3 179.2h.01M287.4 176.6h.01M289.7 181.1h.01M285.1 178.0h.01M285.1 173.8h.01M288.6 178.6h.01M289.4 174.7h.01M293.4 175.5h.01M293.8 179.0h.01M293.9 178.3h.01M287.4 177.4h.01M289.1 177.9h.01M288.3 176.4h.01M291.3 179.9h.01M292.9 184.8h.01M296.3 179.4h.01M294.6 181.8h.01M291.0 177.6h.01M291.6 180.9h.01M292.9 177.7h.01M292.3 174.0h.01M293.7 174.9h.01M289.1 172.3h.01M292.9 174.4h.01M291.0 169.7h.01M290.0 172.2h.01M284.5 174.3h.01M288.4 176.4h.01M287.5 173.8h.01M282.5 174.1h.01M287.7 176.0h.01M289.7 172.9h.01M286.6 174.9h.01M285.2 166.3h.01M286.3 164.2h.01M285.1 164.8h.01M284.7 165.0h.01M284.6 165.0h.01M287.8 163.6h.01M287.0 163.9h.01M287.4 163.7h.01M287.2 163.8h.01M287.1 167.0h.01M288.4 166.8h.01M287.4 171.4h.01M284.6 172.0h.01M283.6 175.8h.01M288.4 178.8h.01M293.8 175.6h.01M295.4 175.6h.01M292.4 167.7h.01M294.4 171.3h.01M295.7 170.6h.01M297.2 174.7h.01M295.6 174.7h.01M297.3 170.3h.01M297.7 171.1h.01M296.2 168.3h.01M297.3 167.2h.01M301.7 170.6h.01M301.6 171.1h.01M303.6 173.8h.01M301.6 172.8h.01M299.9 171.8h.01M301.1 171.4h.01M302.1 169.8h.01M303.4 172.0h.01M305.0 172.1h.01M304.4 175.9h.01M301.1 176.6h.01M297.1 173.9h.01M299.1 175.3h.01M296.4 177.0h.01M297.0 172.2h.01M299.1 174.3h.01M301.5 173.8h.01M298.8 170.2h.01M297.4 170.7h.01M297.2 164.6h.01M296.3 165.8h.01M297.4 168.2h.01M300.2 173.2h.01M298.8 169.0h.01M301.1 172.5h.01M304.9 179.4h.01M304.8 180.0h.01M305.2 179.9h.01M306.4 179.4h.01M303.0 180.7h.01M305.9 179.6h.01M306.0 177.4h.01M304.5 177.6h.01M304.2 176.8h.01M304.4 170.9h.01M307.3 179.1h.01M305.5 172.5h.01M304.6 165.3h.01M306.3 163.3h.01M308.3 169.6h.01M308.0 169.7h.01M307.4 171.3h.01M307.9 173.3h.01M309.3 172.4h.01M308.8 169.7h.01M308.2 172.1h.01M309.0 169.4h.01M305.6 164.7h.01M305.4 167.5h.01M304.0 166.7h.01M302.9 170.1h.01M307.6 171.3h.01M304.1 172.8h.01M304.7 172.4h.01M305.2 169.9h.01M304.7 173.2h.01M308.0 173.8h.01M309.1 169.7h.01M310.7 169.0h.01M308.8 166.4h.01M309.8 162.8h.01M306.1 167.0h.01M309.5 165.0h.01M309.7 164.3h.01M308.7 161.3h.01M308.9 163.4h.01M311.7 165.3h.01M306.5 159.6h.01M306.1 159.1h.01M306.9 159.5h.01M310.8 163.0h.01M306.1 162.1h.01M308.7 165.2h.01M306.3 159.8h.01M310.7 162.7h.01M309.4 163.0h.01M307.2 163.2h.01M307.9 163.3h.01M311.1 167.5h.01M313.7 173.0h.01M315.3 175.7h.01M317.4 174.3h.01M315.9 170.4h.01M314.4 164.9h.01M310.9 164.7h.01M312.7 167.4h.01M311.5 169.9h.01M312.1 166.0h.01M317.7 169.0h.01M322.7 165.9h.01M320.5 162.5h.01M319.3 163.0h.01M320.4 158.8h.01M322.5 157.8h.01M322.8 164.3h.01M324.6 169.3h.01M321.9 171.4h.01M316.2 167.9h.01M312.8 168.5h.01M311.7 169.0h.01M312.9 165.4h.01M314.8 164.0h.01M318.6 163.9h.01M317.5 166.3h.01M318.5 165.8h.01M320.9 167.7h.01M317.1 165.3h.01M320.6 165.3h.01M323.6 164.5h.01M323.9 165.1h.01M324.9 163.7h.01M325.5 165.0h.01M323.5 158.8h.01M325.3 157.8h.01M318.9 155.6h.01M320.7 160.4h.01M321.6 158.2h.01M324.8 161.6h.01M329.7 161.6h.01M327.7 161.2h.01M327.6 164.6h.01M327.4 162.5h.01M319.4 154.3h.01M320.2 161.0h.01M320.0 162.8h.01M320.3 160.1h.01M318.9 157.6h.01M320.7 159.4h.01M318.4 155.2h.01M323.4 159.8h.01M322.4 156.1h.01M321.9 156.7h.01M325.2 157.4h.01M320.2 150.5h.01M322.5 156.3h.01M325.5 157.4h.01M325.6 152.9h.01M324.7 156.5h.01M324.8 154.8h.01M326.1 150.8h.01M328.4 153.5h.01M319.1 148.3h.01M320.0 149.0h.01M320.7 145.9h.01M324.2 147.6h.01M320.7 143.5h.01M323.9 148.7h.01M322.9 149.5h.01M321.5 151.1h.01M324.1 157.6h.01M328.2 161.3h.01M325.5 157.6h.01M320.3 153.8h.01M317.9 156.0h.01M321.5 162.3h.01M324.3 159.1h.01M320.4 158.6h.01M322.9 159.6h.01M318.5 163.3h.01M324.4 163.9h.01M328.1 160.8h.01M327.5 155.7h.01M330.0 155.7h.01M334.0 159.5h.01M328.8 151.4h.01M328.6 148.1h.01M327.4 153.0h.01M325.6 150.5h.01M324.2 151.0h.01M328.0 152.9h.01M326.5 145.2h.01M332.7 149.5h.01M333.5 147.5h.01M334.0 148.7h.01M335.8 148.0h.01M338.2 148.6h.01M341.3 153.9h.01M338.9 150.2h.01M338.8 152.1h.01M334.5 150.3h.01M335.1 147.7h.01M337.0 150.3h.01M339.4 152.2h.01M340.1 152.8h.01M341.2 149.4h.01M339.7 154.6h.01M341.3 157.6h.01M340.0 151.5h.01M344.9 155.3h.01M339.6 148.5h.01M341.8 149.5h.01M338.3 144.8h.01M339.5 150.3h.01M342.4 157.2h.01M341.0 154.8h.01M341.9 150.5h.01M340.1 151.8h.01M334.4 145.4h.01M336.6 151.7h.01M335.0 154.6h.01M337.2 157.4h.01M334.2 158.8h.01M337.2 156.0h.01M337.3 152.5h.01M335.0 154.6h.01M336.4 155.2h.01M336.9 157.9h.01M332.2 146.8h.01M338.5 154.4h.01M340.3 156.7h.01M334.4 154.6h.01M340.5 154.7h.01M341.8 152.3h.01M341.6 152.1h.01M334.3 145.7h.01M337.1 151.0h.01M334.1 153.8h.01M336.2 151.9h.01M335.7 148.4h.01M337.5 151.3h.01M336.3 145.4h.01M343.7 149.2h.01M345.4 154.2h.01M346.9 156.0h.01M345.2 154.8h.01M339.1 154.4h.01M342.2 151.5h.01M345.6 154.1h.01M346.9 152.8h.01M343.7 147.1h.01M347.3 144.8h.01M348.3 146.2h.01M347.2 146.6h.01M348.3 145.0h.01M344.5 139.0h.01M341.3 138.4h.01M341.7 139.0h.01M347.7 142.5h.01M345.5 146.3h.01M344.6 146.1h.01M341.2 140.0h.01M341.6 142.0h.01M342.5 140.8h.01M343.7 139.9h.01M341.5 142.3h.01M342.3 139.1h.01M347.2 142.6h.01M343.7 140.8h.01M339.2 139.3h.01M340.3 141.4h.01M340.5 142.9h.01M340.7 143.7h.01M339.5 141.9h.01M338.4 144.0h.01M341.8 144.2h.01M346.1 147.1h.01M343.6 146.2h.01M345.7 148.5h.01M346.0 144.6h.01M347.0 143.6h.01M346.2 147.3h.01M343.6 146.2h.01M350.1 149.9h.01M345.4 146.6h.01M344.8 147.7h.01M346.3 151.3h.01M346.0 145.7h.01M344.5 147.6h.01M344.2 147.5h.01M347.4 144.4h.01M350.3 142.4h.01M350.9 145.1h.01M347.7 139.6h.01M346.3 140.0h.01M348.6 141.5h.01M346.7 142.8h.01M347.3 135.2h.01M346.1 135.0h.01M344.6 139.8h.01M343.9 145.8h.01M348.1 144.6h.01M346.8 144.1h.01M346.5 140.4h.01M347.2 142.9h.01M344.4 142.4h.01M345.6 141.9h.01M346.6 138.4h.01M349.5 139.3h.01M347.6 132.9h.01M347.6 142.1h.01M348.5 143.9h.01M350.0 142.2h.01M352.6 143.8h.01M348.9 142.5h.01M347.6 140.0h.01M350.2 146.6h.01M351.3 149.9h.01M355.7 144.4h.01M357.5 139.6h.01M353.6 138.2h.01M357.9 146.3h.01M357.3 147.4h.01M356.9 144.6h.01M357.0 142.4h.01M354.9 149.0h.01M358.9 150.6h.01M356.6 145.7h.01M354.4 143.4h.01M355.4 136.2h.01M356.5 129.5h.01M359.6 133.4h.01M356.5 129.6h.01M357.3 130.1h.01M357.5 133.7h.01M355.3 137.6h.01M353.9 139.5h.01M358.3 138.6h.01M355.7 134.6h.01M356.9 142.1h.01M354.6 152.4h.01M355.1 148.2h.01M357.9 150.9h.01M353.8 148.5h.01M354.0 140.7h.01M359.4 145.3h.01M359.9 146.2h.01M360.6 138.6h.01M357.6 136.9h.01M358.3 143.4h.01M357.0 143.9h.01M359.3 137.3h.01M358.6 136.2h.01M357.7 132.9h.01M358.4 136.4h.01M355.4 136.2h.01M355.6 130.8h.01M355.3 134.9h.01M356.1 129.0h.01M357.4 133.1h.01M358.4 134.7h.01M360.2 131.7h.01M361.5 137.7h.01M359.5 142.7h.01M354.2 137.7h.01M357.7 137.5h.01M360.4 141.6h.01M362.7 143.9h.01M362.7 139.9h.01M366.1 150.6h.01M363.9 144.8h.01M361.8 142.9h.01M368.7 143.9h.01M367.2 146.3h.01M368.2 139.4h.01M369.0 136.2h.01M370.6 137.6h.01M370.2 138.4h.01M371.5 140.9h.01M373.6 140.1h.01M370.9 142.6h.01M365.5 140.7h.01M367.5 138.9h.01M363.3 138.8h.01M365.4 135.3h.01M366.4 133.7h.01M369.8 137.1h.01M370.7 136.8h.01M373.8 132.5h.01M373.0 133.9h.01M369.2 130.2h.01M371.7 137.9h.01M373.4 134.2h.01M373.7 141.2h.01M375.3 137.7h.01M375.2 130.2h.01M372.3 136.0h.01M370.6 134.5h.01M371.9 141.6h.01M376.9 140.0h.01M378.0 138.4h.01M371.0 136.3h.01M370.6 138.5h.01M367.4 138.3h.01M366.4 131.5h.01M363.8 135.6h.01M366.0 141.1h.01M367.7 147.6h.01M368.7 138.7h.01M370.4 133.5h.01M370.8 142.5h.01M372.1 135.9h.01M376.5 145.2h.01M376.6 141.3h.01M374.9 146.9h.01M377.7 144.4h.01M375.6 137.8h.01M380.2 143.5h.01M380.5 139.9h.01M382.4 144.0h.01M381.1 140.6h.01M384.3 142.0h.01M382.9 136.9h.01M380.7 137.9h.01M380.2 137.6h.01M379.7 137.9h.01M380.0 138.0h.01M381.3 137.7h.01M383.1 137.5h.01M383.6 134.5h.01M383.5 129.1h.01M382.4 127.4h.01M379.2 127.5h.01M379.1 129.7h.01M382.0 138.9h.01M382.5 136.6h.01M384.9 144.0h.01M385.5 143.3h.01M387.6 138.7h.01M384.4 145.2h.01M381.9 151.1h.01M376.8 152.0h.01M374.7 149.2h.01M376.0 151.2h.01M374.0 149.2h.01M379.8 147.1h.01M379.7 143.2h.01M378.8 140.7h.01M381.8 145.1h.01M383.8 144.7h.01M386.4 138.7h.01M386.4 144.3h.01M386.0 143.1h.01M387.5 144.8h.01M389.8 140.6h.01M391.6 146.5h.01M391.8 146.7h.01M389.8 150.6h.01M386.5 148.0h.01M388.8 147.9h.01M387.6 146.4h.01M387.6 141.8h.01M383.7 134.4h.01M387.1 134.0h.01M389.4 132.2h.01M389.6 132.8h.01M392.3 138.6h.01M389.0 136.5h.01M385.8 133.8h.01M383.8 140.9h.01M385.2 128.9h.01M386.7 133.2h.01M387.6 133.0h.01M389.4 134.9h.01M388.9 133.5h.01M385.9 128.5h.01M382.8 143.3h.01M380.6 128.8h.01M382.5 127.6h.01M384.5 134.2h.01M382.5 134.9h.01M382.2 135.1h.01M384.5 130.9h.01M384.9 128.3h.01M383.6 132.5h.01M385.7 135.8h.01M389.5 130.7h.01M389.2 136.3h.01M385.0 131.7h.01M384.9 128.3h.01M385.8 130.9h.01M389.2 129.8h.01M388.5 133.0h.01M385.4 131.0h.01M387.6 134.0h.01M386.0 134.4h.01M387.5 132.2h.01M387.2 140.7h.01M385.9 137.9h.01M386.4 141.7h.01M384.1 128.9h.01M388.7 126.5h.01M393.4 129.8h.01M391.0 133.4h.01M394.7 130.4h.01M390.3 132.3h.01M392.8 128.8h.01M390.8 128.8h.01M393.6 137.3h.01M392.0 129.7h.01M392.4 129.8h.01M387.2 128.7h.01M391.5 125.6h.01M395.3 130.5h.01M395.3 127.0h.01M392.2 130.1h.01M393.4 133.7h.01M389.5 129.0h.01M390.6 126.1h.01M390.2 126.3h.01M395.1 124.6h.01M394.8 126.7h.01M394.8 124.8h.01M397.9 130.3h.01M397.2 133.2h.01M397.8 133.2h.01M394.9 130.5h.01M397.2 138.4h.01M393.8 137.7h.01M394.8 139.4h.01M396.4 145.6h.01M397.7 140.6h.01M397.2 141.5h.01M395.2 139.4h.01M398.5 144.7h.01M395.2 144.6h.01M396.6 145.3h.01M393.9 147.3h.01M391.6 139.5h.01M397.1 148.2h.01M397.1 148.4h.01M397.6 149.4h.01M400.7 149.4h.01M400.4 149.5h.01M401.0 142.0h.01M404.3 144.4h.01M404.5 141.0h.01M401.3 139.3h.01M403.9 139.3h.01M399.4 132.9h.01M398.5 136.7h.01M397.2 133.5h.01M395.6 133.9h.01M397.4 128.2h.01M396.4 131.5h.01M396.8 129.5h.01M399.7 130.5h.01M400.6 124.4h.01M404.2 127.3h.01M404.1 126.6h.01M406.0 123.3h.01M410.4 127.1h.01M410.0 123.8h.01M413.0 127.2h.01M411.4 121.4h.01M412.3 127.7h.01M412.5 127.7h.01M408.8 124.7h.01M411.3 131.6h.01M406.5 128.7h.01M408.7 128.8h.01M408.7 128.3h.01M412.0 131.1h.01M409.0 129.0h.01M407.7 128.0h.01M407.7 132.6h.01M404.3 128.3h.01M404.6 130.7h.01M404.6 127.8h.01M403.1 132.4h.01M404.0 130.9h.01M401.4 127.7h.01M402.5 130.6h.01M403.2 131.7h.01M405.9 132.5h.01M405.0 130.6h.01M409.2 132.3h.01M407.1 139.5h.01M408.5 136.3h.01M409.5 132.1h.01M412.2 135.5h.01M414.4 133.7h.01M409.8 138.2h.01M411.6 137.3h.01M412.2 134.7h.01M412.1 132.5h.01M412.4 133.8h.01M407.5 132.9h.01M411.2 138.5h.01M413.9 131.4h.01M413.0 127.0h.01M412.2 128.2h.01M410.0 132.0h.01M413.7 132.4h.01M411.8 127.0h.01M411.4 129.2h.01M409.3 127.9h.01M408.1 128.6h.01M411.0 135.2h.01M409.5 131.1h.01M412.1 133.4h.01M410.6 132.3h.01M408.0 135.6h.01M409.9 138.1h.01M413.7 137.2h.01M415.4 136.3h.01M413.4 129.7h.01M412.5 127.1h.01M413.7 128.7h.01M411.5 133.6h.01M406.4 124.8h.01M410.8 129.9h.01M409.6 132.1h.01M412.5 136.7h.01M414.2 137.2h.01M417.6 134.8h.01M418.1 126.9h.01M418.1 131.7h.01M412.6 132.6h.01M413.1 136.5h.01M414.1 137.1h.01M414.2 137.1h.01M417.7 136.3h.01M414.9 134.1h.01M416.4 136.3h.01M419.2 130.1h.01M418.3 131.3h.01M419.7 135.7h.01M418.5 129.6h.01M419.8 129.4h.01M423.2 128.8h.01M420.7 128.4h.01M423.0 132.4h.01M423.8 127.9h.01M423.3 127.0h.01M424.1 129.1h.01M428.2 136.3h.01M433.9 133.3h.01M434.2 133.1h.01M432.6 130.6h.01M430.4 127.2h.01M435.8 129.6h.01M438.0 135.1h.01M434.5 137.3h.01M438.8 136.8h.01M435.0 132.2h.01M436.1 133.0h.01M431.7 128.3h.01M432.4 134.0h.01M429.2 135.6h.01M432.2 138.5h.01M431.3 133.8h.01M430.2 132.8h.01M432.3 131.4h.01M431.2 132.9h.01M431.6 130.4h.01M433.3 132.8h.01M431.6 130.3h.01M434.4 133.1h.01M432.8 132.5h.01M430.4 126.3h.01M428.4 125.8h.01M427.8 124.0h.01M430.5 128.3h.01M430.0 126.2h.01M430.3 124.1h.01M430.3 121.4h.01M432.1 123.7h.01M432.0 128.1h.01M433.7 127.0h.01M435.8 126.5h.01M432.9 126.7h.01M434.6 122.3h.01M433.6 122.5h.01M430.5 124.5h.01M430.8 124.4h.01M431.6 122.9h.01M432.4 119.1h.01M434.2 121.4h.01M435.1 124.7h.01M438.7 126.7h.01M435.1 124.7h.01M435.3 123.8h.01M431.8 129.3h.01M434.9 126.3h.01M438.7 124.5h.01M436.4 130.0h.01M432.4 125.2h.01M434.1 123.0h.01M432.5 127.7h.01M433.8 131.3h.01M437.3 125.5h.01M438.3 124.7h.01M442.3 125.6h.01M439.9 120.3h.01M440.5 127.7h.01M442.1 123.0h.01M437.5 123.4h.01M438.5 118.5h.01M439.4 127.1h.01M441.2 125.6h.01M439.3 129.6h.01M440.7 134.5h.01M435.1 132.7h.01M438.1 133.9h.01M440.5 133.3h.01M439.5 133.7h.01M441.1 133.8h.01M439.4 127.0h.01M440.5 131.8h.01M443.1 135.1h.01M441.2 137.8h.01M439.5 133.1h.01M443.8 137.4h.01M443.1 137.5h.01M441.9 137.7h.01M441.9 137.7h.01M438.9 138.2h.01M438.1 135.4h.01M435.2 134.6h.01M436.4 138.2h.01M438.8 132.7h.01M445.7 131.7h.01M448.5 131.7h.01M445.0 131.9h.01M446.5 137.1h.01M444.9 132.5h.01M446.7 133.4h.01M446.7 131.5h.01M445.9 133.5h.01M447.0 135.4h.01M445.1 127.5h.01M446.1 126.1h.01M446.4 124.2h.01M446.4 122.2h.01M442.4 127.3h.01M445.0 130.3h.01M443.8 128.8h.01M441.6 126.7h.01M446.9 127.6h.01M449.7 125.9h.01M447.9 124.0h.01M447.8 121.2h.01M447.7 118.0h.01M445.8 122.1h.01M445.9 129.4h.01M445.8 128.3h.01M449.3 130.6h.01M447.5 128.0h.01M447.4 130.5h.01M450.3 127.9h.01M446.4 123.4h.01M452.1 129.0h.01M455.0 121.6h.01M451.6 124.4h.01M454.4 126.2h.01M451.6 127.8h.01M451.0 126.7h.01M453.3 128.7h.01M450.9 126.8h.01M450.8 125.6h.01M451.2 127.9h.01M448.5 127.4h.01M446.9 125.0h.01M446.3 121.1h.01M445.1 115.5h.01M448.6 117.5h.01M454.5 118.5h.01M455.0 122.1h.01M453.9 119.9h.01M450.0 118.4h.01M451.3 121.6h.01M450.7 121.2h.01M447.5 119.7h.01M444.0 120.8h.01M448.2 125.1h.01M448.2 127.6h.01M455.2 127.6h.01M457.1 128.9h.01M458.2 127.5h.01M453.1 125.0h.01M450.8 130.5h.01M452.5 131.5h.01M452.2 126.9h.01M457.2 126.5h.01M453.3 127.2h.01M453.1 126.2h.01M453.7 126.4h.01M453.4 123.7h.01M456.3 122.9h.01M460.1 124.2h.01M461.8 118.7h.01M459.7 123.5h.01M454.3 126.6h.01M457.2 130.4h.01M456.0 136.2h.01M457.4 129.1h.01M457.2 130.3h.01M457.0 124.4h.01M460.1 124.6h.01M463.0 127.0h.01M460.9 128.0h.01M457.6 128.8h.01M460.7 129.1h.01M458.3 126.4h.01M459.6 130.4h.01M456.3 126.8h.01M457.5 132.6h.01M456.5 128.1h.01M458.6 128.7h.01M462.8 133.8h.01M463.2 130.5h.01M463.5 134.7h.01M463.2 129.1h.01M460.0 124.2h.01M459.8 130.2h.01M463.8 131.6h.01M462.6 131.2h.01M460.1 130.2h.01M460.7 134.9h.01M460.2 134.1h.01M460.3 135.8h.01M462.2 135.6h.01M461.6 135.7h.01M462.2 135.7h.01M461.0 135.8h.01M463.6 132.0h.01M464.6 131.0h.01M469.5 131.0h.01M470.1 132.6h.01M466.8 129.8h.01M463.6 129.3h.01M463.2 130.9h.01M463.8 126.5h.01M463.8 121.8h.01M463.2 117.5h.01M465.3 124.4h.01M466.7 124.4h.01M469.3 128.1h.01M472.5 121.4h.01M469.2 122.9h.01M467.8 125.0h.01M468.5 119.4h.01M467.7 121.8h.01M465.1 125.0h.01M468.6 128.1h.01M467.4 132.0h.01M465.0 135.4h.01M466.9 135.1h.01M470.7 130.4h.01M470.7 130.2h.01M465.5 132.4h.01M466.8 127.5h.01M470.7 130.1h.01M476.2 130.5h.01M480.6 131.5h.01M482.4 127.3h.01M480.0 124.4h.01M479.3 126.8h.01M479.6 130.5h.01M478.0 122.7h.01M477.9 124.4h.01M478.9 128.3h.01M477.6 125.1h.01M476.0 125.7h.01M475.8 122.4h.01M476.2 126.1h.01M474.1 124.1h.01M472.4 124.1h.01M472.7 120.2h.01M470.7 121.3h.01M474.6 127.0h.01M476.0 128.4h.01M479.7 126.7h.01M478.1 131.7h.01M477.6 132.4h.01M473.8 123.6h.01M472.6 120.2h.01M473.7 113.5h.01M475.4 112.4h.01M472.3 110.9h.01M470.9 113.4h.01M471.5 111.0h.01M471.7 112.9h.01M473.6 110.7h.01M472.9 115.3h.01M473.6 117.8h.01M470.9 113.4h.01M475.6 118.8h.01M476.7 115.5h.01M478.3 116.9h.01M479.7 110.7h.01M480.9 119.1h.01M482.7 121.0h.01M485.1 119.4h.01M485.6 114.4h.01M487.8 118.5h.01M490.6 122.1h.01M488.6 118.0h.01M491.1 120.9h.01M486.9 123.0h.01M486.9 125.4h.01M487.2 121.7h.01M489.1 123.1h.01M488.4 119.0h.01M488.0 122.0h.01M486.4 112.8h.01M487.2 115.8h.01M488.7 116.7h.01M487.2 110.0h.01M490.6 113.6h.01M489.5 111.8h.01M491.4 124.3h.01M490.8 120.2h.01M489.1 131.3h.01M486.2 130.5h.01M485.6 128.4h.01M482.9 124.2h.01M483.2 123.3h.01M483.9 114.9h.01M485.2 120.0h.01M484.5 116.4h.01M482.1 111.9h.01M483.0 119.8h.01M484.6 117.8h.01M486.5 117.9h.01M487.5 116.8h.01M485.4 128.9h.01M484.4 117.2h.01M485.6 116.4h.01M486.3 115.3h.01M485.7 118.2h.01M485.3 116.4h.01M485.4 123.2h.01M488.0 114.6h.01M486.0 116.9h.01M491.1 121.3h.01M491.3 114.1h.01M493.9 121.6h.01M494.3 113.3h.01M497.9 120.1h.01M497.3 114.2h.01M489.9 114.9h.01M488.9 120.7h.01M493.1 119.9h.01M491.0 122.1h.01M488.9 120.2h.01M484.7 126.4h.01M487.2 119.0h.01M492.6 121.5h.01M491.4 128.8h.01M488.8 121.4h.01M491.7 125.9h.01M492.4 124.9h.01M490.7 118.8h.01M488.9 116.7h.01M491.1 122.8h.01M491.1 122.8h.01M489.5 123.6h.01M487.8 125.6h.01M487.6 128.5h.01M484.0 130.3h.01M488.0 130.8h.01M489.0 127.2h.01M491.5 131.6h.01M492.6 129.6h.01M492.6 128.2h.01M495.3 129.1h.01M492.5 124.5h.01M489.3 129.2h.01M489.5 127.8h.01M489.1 125.1h.01M495.9 130.8h.01M495.5 126.0h.01M495.8 125.4h.01M496.1 122.6h.01M498.9 123.0h.01M498.6 127.0h.01M500.5 126.1h.01M500.7 120.7h.01M502.0 120.2h.01M502.1 120.2h.01M501.2 122.8h.01M501.8 119.1h.01M504.0 119.6h.01M504.5 121.8h.01M502.5 118.4h.01M504.0 121.7h.01M502.0 116.4h.01M501.0 110.8h.01M501.3 120.7h.01M502.4 115.4h.01M504.0 111.8h.01M505.3 111.0h.01M502.9 120.3h.01M504.8 119.4h.01M504.2 125.7h.01M501.9 119.7h.01M503.8 123.2h.01M504.6 121.1h.01M505.7 122.8h.01M504.8 120.1h.01M507.6 120.1h.01M508.8 123.7h.01M513.8 123.6h.01M517.1 119.2h.01M515.4 119.5h.01M514.5 111.9h.01M515.0 114.6h.01M513.1 114.3h.01M510.8 119.4h.01M509.7 121.7h.01M508.0 115.2h.01M507.8 119.4h.01M514.1 115.7h.01M516.9 119.4h.01M515.5 114.5h.01M517.3 119.6h.01M517.1 122.6h.01M517.1 123.9h.01M516.0 113.8h.01M516.9 112.1h.01M517.2 110.8h.01M515.2 110.7h.01M516.7 110.8h.01M514.5 113.1h.01M510.7 116.0h.01M508.5 120.2h.01M510.3 123.3h.01M508.7 120.6h.01M507.7 122.1h.01M507.5 125.5h.01M502.3 126.5h.01M504.8 125.1h.01M505.7 129.7h.01M508.0 125.8h.01M509.9 122.8h.01M508.1 124.6h.01M509.1 117.8h.01M509.7 112.5h.01M509.9 119.7h.01M506.7 120.7h.01M509.6 120.9h.01M508.9 122.4h.01M511.6 120.1h.01M505.9 121.3h.01M504.5 117.2h.01M505.5 116.0h.01M507.2 120.5h.01M509.7 118.3h.01M512.6 119.2h.01M511.4 118.1h.01M512.5 120.3h.01M512.2 120.4h.01M510.3 119.3h.01M507.0 127.2h.01M506.3 123.5h.01M508.0 122.4h.01M508.4 131.2h.01M513.0 125.3h.01M513.2 120.8h.01M514.3 121.2h.01M512.0 122.4h.01M512.0 118.8h.01M516.4 120.3h.01M517.8 117.8h.01M518.3 122.4h.01M519.6 116.2h.01M515.0 120.3h.01M517.7 125.0h.01M520.0 118.4h.01M519.3 128.7h.01M520.2 127.1h.01M520.7 128.6h.01M520.2 128.0h.01M522.6 125.2h.01M521.2 119.4h.01M520.7 121.5h.01M521.6 117.9h.01M522.0 123.4h.01M522.3 120.9h.01M520.8 114.3h.01M520.4 111.2h.01M521.8 116.9h.01M521.7 115.6h.01M523.1 115.9h.01M521.4 120.3h.01M522.0 114.8h.01M522.4 119.2h.01M522.9 114.3h.01M525.2 118.0h.01M524.2 121.3h.01M525.2 113.9h.01M524.5 120.4h.01M525.0 116.1h.01M523.7 111.6h.01M524.8 112.5h.01M522.4 112.0h.01M522.3 116.0h.01M524.4 112.1h.01M524.1 118.6h.01M525.4 122.0h.01M525.5 120.2h.01M524.5 123.5h.01M525.6 122.7h.01M525.8 123.1h.01M524.7 124.6h.01M522.5 124.8h.01M521.6 121.3h.01M522.0 122.0h.01M524.3 122.4h.01M521.5 121.2h.01M522.6 122.9h.01M526.7 121.5h.01M524.9 115.8h.01M524.2 117.8h.01M524.2 115.2h.01M524.0 117.1h.01M524.9 117.0h.01M524.3 114.6h.01M525.9 122.8h.01M523.0 117.9h.01M526.1 121.1h.01M527.4 123.4h.01M531.5 123.6h.01M529.2 130.1h.01M529.5 125.8h.01M532.4 133.6h.01M538.8 121.8h.01M542.2 122.4h.01M540.0 121.3h.01M539.4 124.3h.01M537.4 119.2h.01M533.7 116.5h.01M531.9 115.9h.01M533.0 114.4h.01M530.7 114.2h.01M530.6 114.1h.01M531.0 117.1h.01M530.6 117.4h.01M532.9 111.8h.01M527.8 113.9h.01M529.1 111.8h.01M531.1 112.4h.01M533.1 123.0h.01M533.2 122.2h.01M533.1 123.2h.01M533.7 118.4h.01M532.5 120.8h.01M533.1 123.2h.01M534.4 122.7h.01M533.9 114.5h.01M537.7 117.4h.01M537.6 121.3h.01M539.7 124.3h.01M535.9 118.3h.01M536.2 112.0h.01M540.3 112.1h.01M539.6 116.0h.01M539.5 117.3h.01M542.5 122.5h.01M541.8 118.3h.01M540.8 119.3h.01M541.3 117.0h.01M539.4 122.8h.01M538.8 126.6h.01M538.0 126.5h.01M536.3 130.1h.01M539.4 127.2h.01M539.4 119.6h.01M540.7 121.0h.01M541.8 124.4h.01M544.1 124.5h.01M546.2 125.0h.01M545.2 124.8h.01M544.1 125.8h.01M544.8 127.7h.01M542.7 125.9h.01M544.7 122.9h.01M546.1 123.4h.01M542.9 123.5h.01M549.3 121.7h.01M548.9 126.1h.01M551.0 122.9h.01M546.9 122.3h.01M547.5 123.2h.01M548.6 124.5h.01M551.8 126.9h.01M549.8 129.6h.01M552.6 131.4h.01M550.3 126.6h.01M549.3 130.3h.01M552.1 127.0h.01M550.5 120.8h.01M546.7 120.5h.01M545.7 121.0h.01M545.7 118.7h.01M547.7 123.6h.01M550.4 120.1h.01M550.7 120.9h.01M554.7 122.2h.01M550.9 120.0h.01M549.4 120.4h.01M550.5 121.4h.01M550.1 121.4h.01M547.3 118.6h.01M548.5 115.3h.01M549.9 112.2h.01M549.4 125.6h.01M549.1 119.2h.01M548.7 115.5h.01M545.9 120.8h.01M547.9 120.5h.01M547.3 130.6h.01M549.1 126.6h.01M551.7 129.3h.01M550.7 125.8h.01M550.9 128.6h.01M554.1 123.3h.01M554.6 115.5h.01M553.6 117.6h.01M550.6 124.3h.01M547.4 125.5h.01M549.9 125.1h.01M547.9 123.3h.01M548.9 116.9h.01M552.3 114.8h.01M554.7 125.5h.01M553.0 121.2h.01M556.6 121.0h.01M551.2 118.2h.01M551.8 122.6h.01M552.8 116.2h.01M553.8 121.8h.01M555.1 121.6h.01M555.8 113.2h.01M555.8 114.2h.01M555.5 119.9h.01M554.4 118.0h.01M553.7 123.1h.01M557.0 124.1h.01M559.5 120.2h.01M557.4 121.8h.01M557.2 122.6h.01M552.8 126.9h.01M552.6 119.8h.01M552.9 122.2h.01M552.7 121.2h.01M555.2 119.8h.01M556.5 126.3h.01M556.1 122.4h.01M554.7 122.9h.01M554.9 121.0h.01M560.2 120.5h.01M556.9 120.8h.01M556.8 123.1h.01M559.6 120.6h.01M559.4 121.5h.01M558.1 118.8h.01M557.2 124.9h.01M559.2 125.7h.01M562.5 127.1h.01M556.7 123.5h.01M558.3 130.1h.01M558.3 121.1h.01M561.8 126.8h.01M563.5 128.4h.01M565.5 126.1h.01M566.2 127.1h.01M565.7 126.7h.01M563.3 123.4h.01M562.8 125.0h.01M563.6 127.8h.01M567.5 127.1h.01M567.6 131.0h.01M564.8 124.0h.01M565.5 124.3h.01M567.5 132.2h.01M570.4 136.0h.01M572.3 136.0h.01M570.8 134.8h.01M569.7 131.2h.01M564.5 126.9h.01M563.8 126.5h.01M560.4 132.4h.01M561.1 133.6h.01M564.7 133.2h.01M565.9 135.6h.01M562.9 135.2h.01M565.3 136.0h.01M566.8 136.0h.01M563.8 136.0h.01M562.8 136.0h.01M565.3 136.0h.01M566.2 136.0h.01M567.6 136.0h.01M564.3 136.0h.01M565.2 130.1h.01M567.6 131.1h.01M566.4 123.4h.01M566.6 121.7h.01M566.4 116.3h.01M566.8 120.8h.01M567.8 121.9h.01M565.5 123.6h.01M566.8 126.1h.01M566.8 129.8h.01M571.7 134.3h.01M571.5 136.0h.01M571.9 136.0h.01M570.6 136.0h.01M570.6 130.2h.01M568.7 130.6h.01M568.5 136.0h.01M567.9 136.0h.01M564.9 133.4h.01M563.4 133.3h.01M564.1 136.0h.01M566.6 136.0h.01M565.9 136.0h.01M565.7 133.0h.01M565.5 134.2h.01M564.0 132.8h.01M565.1 128.0h.01M569.4 136.0h.01M569.6 133.0h.01M568.7 127.5h.01M570.4 128.6h.01M573.7 126.8h.01M576.6 132.0h.01M577.1 128.2h.01M579.6 127.5h.01M576.6 119.1h.01M574.9 122.3h.01M574.5 130.4h.01M577.0 127.3h.01M572.8 131.0h.01M573.7 133.7h.01M573.5 128.2h.01M577.3 126.1h.01M575.9 121.4h.01M578.0 125.8h.01M578.7 127.5h.01M580.1 131.8h.01M582.4 129.9h.01M583.4 126.1h.01M583.3 125.6h.01M582.7 127.5h.01M580.7 126.3h.01M578.9 128.5h.01M580.4 128.4h.01M577.8 128.1h.01M577.5 135.4h.01M573.6 127.7h.01M575.2 131.9h.01M577.5 131.8h.01M577.9 132.7h.01M576.7 132.1h.01M577.3 131.8h.01M579.0 130.3h.01M576.2 135.9h.01M578.5 135.9h.01M577.3 126.8h.01M580.7 129.1h.01M581.6 130.3h.01M582.0 123.8h.01M582.0 121.3h.01M580.4 119.7h.01M581.5 120.3h.01M580.1 118.7h.01M581.8 121.7h.01M581.7 114.4h.01M580.6 124.6h.01M579.7 124.5h.01M581.8 125.2h.01M586.4 126.8h.01M583.0 122.0h.01M585.8 116.4h.01M587.0 119.1h.01M582.8 115.1h.01M582.8 121.6h.01M580.7 124.4h.01M579.8 128.3h.01M580.4 124.3h.01M583.6 126.1h.01M581.8 132.0h.01M586.8 123.3h.01M587.3 128.1h.01M588.9 127.0h.01M589.8 123.9h.01M587.0 124.3h.01M585.8 122.4h.01M586.4 125.0h.01M588.4 132.6h.01M585.1 124.8h.01M585.0 120.7h.01M588.2 126.0h.01M588.0 125.2h.01M592.5 122.1h.01M587.5 121.4h.01M584.8 113.5h.01M582.4 115.6h.01M587.7 119.0h.01M587.6 123.8h.01M591.3 132.0h.01M593.4 126.8h.01M591.6 125.0h.01M588.9 126.5h.01M589.9 130.9h.01M595.6 129.4h.01M594.5 134.0h.01M598.1 129.2h.01M594.5 127.4h.01M597.4 127.4h.01M595.2 121.9h.01M593.6 123.6h.01M594.1 118.0h.01M595.6 125.2h.01M594.5 120.8h.01M596.5 119.3h.01M597.0 122.9h.01M593.9 126.3h.01M594.4 118.0h.01M595.3 116.7h.01M596.1 112.2h.01M594.3 112.2h.01M598.3 112.9h.01M599.0 117.2h.01M600.5 117.0h.01M601.2 120.4h.01M600.3 122.5h.01M597.4 122.3h.01M600.3 125.0h.01M599.2 125.7h.01M600.5 129.6h.01M602.2 127.1h.01M602.0 128.0h.01M601.2 123.3h.01M600.8 125.8h.01M598.6 125.5h.01M601.4 127.3h.01M601.0 133.2h.01M602.6 130.0h.01M607.0 126.5h.01M605.0 128.6h.01M607.4 134.0h.01M606.6 135.5h.01M607.8 136.0h.01M604.1 136.0h.01M606.1 136.0h.01M601.7 136.1h.01M600.4 135.9h.01M600.9 132.7h.01M605.1 130.7h.01M607.0 131.3h.01M603.3 130.3h.01M606.7 130.0h.01M609.9 129.4h.01M605.9 124.8h.01M600.8 124.3h.01M601.0 123.5h.01M601.0 129.4h.01M601.6 123.4h.01M601.7 127.4h.01M601.4 124.0h.01M599.7 128.6h.01M599.7 126.3h.01M600.5 126.3h.01M597.7 124.9h.01M601.1 124.1h.01M605.9 127.8h.01M608.9 136.0h.01M607.6 136.0h.01M607.8 136.0h.01M606.9 134.4h.01M606.2 135.1h.01M608.6 136.0h.01M604.7 136.1h.01M605.3 134.6h.01M611.2 128.5h.01M611.4 134.6h.01M614.7 135.8h.01M616.7 135.7h.01M615.3 130.9h.01M613.7 124.0h.01M617.0 132.2h.01M618.7 129.6h.01M619.4 126.3h.01M616.4 131.8h.01M615.4 126.3h.01M614.9 128.4h.01M614.0 126.5h.01M614.2 126.7h.01M613.0 121.9h.01M615.1 127.8h.01M610.0 125.1h.01M607.4 126.1h.01M609.2 122.6h.01M609.5 123.0h.01M607.9 118.8h.01M608.0 121.0h.01M605.8 116.8h.01M609.2 119.5h.01M610.3 116.9h.01M612.5 122.0h.01M617.3 126.6h.01M615.1 119.3h.01M616.8 117.5h.01M616.1 115.6h.01M616.6 112.8h.01M619.0 122.9h.01M618.7 124.3h.01M622.7 122.0h.01M622.4 121.2h.01M618.0 117.4h.01M618.3 121.8h.01M615.7 122.4h.01M613.8 119.3h.01M611.2 124.8h.01M613.7 127.4h.01M609.9 129.0h.01M609.5 122.9h.01M612.1 117.2h.01M612.7 120.8h.01M610.8 119.7h.01M612.3 119.3h.01M611.6 118.0h.01M610.4 116.9h.01M613.8 123.8h.01M616.0 121.5h.01M618.8 117.0h.01M620.7 115.2h.01M620.8 116.8h.01M622.8 118.6h.01M622.0 117.9h.01M621.6 116.4h.01M624.2 117.8h.01M621.9 111.2h.01M618.6 111.4h.01M618.5 112.6h.01M622.9 112.3h.01M623.1 111.4h.01M623.1 110.9h.01M624.6 112.6h.01M621.7 117.6h.01M619.8 115.7h.01M622.5 125.3h.01M620.2 112.3h.01M618.3 117.3h.01M616.2 116.7h.01M618.3 118.4h.01M617.0 116.2h.01M617.9 117.5h.01M616.9 121.2h.01M617.4 124.3h.01M615.2 125.4h.01M615.7 124.1h.01M619.2 123.6h.01M620.4 128.9h.01M620.9 122.7h.01M619.6 125.4h.01M621.6 125.2h.01M621.2 128.6h.01M621.6 129.3h.01M621.2 129.4h.01M623.6 124.3h.01M627.6 127.9h.01M626.5 126.9h.01M628.8 124.9h.01M628.9 120.9h.01M632.0 121.5h.01M630.8 128.0h.01M628.9 129.3h.01M630.7 134.0h.01M626.7 132.8h.01M629.6 134.1h.01M632.0 133.9h.01M632.2 133.9h.01M630.7 126.5h.01M628.4 132.7h.01M628.2 132.0h.01M630.4 131.7h.01M632.3 133.9h.01M634.3 133.5h.01M633.0 133.9h.01M636.0 133.8h.01M634.9 133.8h.01M636.5 133.4h.01M635.8 133.8h.01M635.9 133.8h.01M636.5 133.8h.01M636.8 132.4h.01M636.7 129.8h.01M636.2 133.5h.01M635.9 128.7h.01M635.0 121.9h.01M634.2 127.6h.01M638.4 123.1h.01M635.0 124.8h.01M636.0 126.3h.01M634.3 129.5h.01M634.2 128.4h.01M636.6 124.1h.01M635.1 123.4h.01M635.8 129.4h.01M635.9 126.9h.01M639.5 126.1h.01M641.0 126.4h.01M642.6 126.9h.01M641.0 128.2h.01M642.6 128.0h.01M647.1 123.2h.01M644.2 126.6h.01M643.3 131.1h.01M643.7 127.6h.01M644.8 125.5h.01M645.5 122.5h.01M644.8 126.9h.01M642.2 120.6h.01M641.0 121.3h.01M641.1 116.7h.01M639.2 112.6h.01M641.6 120.0h.01M640.7 116.3h.01M643.5 115.7h.01M640.4 110.0h.01M641.0 111.1h.01M638.9 113.1h.01M636.7 118.1h.01M638.4 112.6h.01M641.7 113.7h.01M640.4 116.3h.01M642.8 114.3h.01M642.5 113.3h.01M642.6 116.0h.01M642.5 115.9h.01M643.1 122.2h.01M645.1 116.5h.01M644.7 115.8h.01M644.9 120.3h.01M645.3 122.5h.01M646.9 125.4h.01M647.9 124.2h.01M646.5 126.4h.01M648.3 122.1h.01M648.3 127.3h.01M648.3 128.1h.01M645.9 128.1h.01M645.2 126.1h.01M645.4 123.7h.01M644.7 131.6h.01M642.6 132.5h.01M646.5 128.0h.01M644.6 130.1h.01M647.1 126.4h.01M647.4 121.0h.01M644.0 126.1h.01M647.8 127.9h.01M649.8 129.7h.01M649.1 126.9h.01M651.7 127.9h.01M652.3 126.8h.01M650.7 126.5h.01M651.3 124.9h.01M653.5 124.4h.01M653.1 124.0h.01M654.3 125.2h.01M654.0 120.1h.01M652.6 120.5h.01M649.6 122.1h.01M650.6 123.9h.01M654.7 119.9h.01M653.6 122.0h.01M650.9 123.8h.01M649.5 132.9h.01M650.7 129.9h.01M654.0 127.4h.01M653.5 128.4h.01M653.5 135.8h.01M653.5 133.2h.01M651.4 135.6h.01M651.0 135.6h.01M650.5 134.0h.01M649.9 128.7h.01M649.5 132.6h.01M650.3 129.3h.01M647.0 135.1h.01M653.6 123.5h.01M656.9 124.3h.01M657.2 123.0h.01M655.9 118.6h.01M653.6 122.2h.01M653.4 117.5h.01M651.7 120.6h.01M653.6 120.9h.01M648.0 122.1h.01M647.2 124.3h.01M646.1 119.2h.01M647.3 120.9h.01M646.4 123.2h.01M649.1 123.0h.01M647.4 119.4h.01M650.9 122.7h.01M652.4 122.2h.01M657.6 123.1h.01M658.0 127.1h.01M658.9 131.6h.01M658.8 136.9h.01M653.0 134.4h.01M655.9 128.0h.01M654.4 125.8h.01M653.5 117.7h.01M658.2 118.7h.01M659.1 127.4h.01M658.5 130.5h.01M661.3 130.8h.01M657.8 136.8h.01M660.3 136.3h.01M660.5 137.3h.01M659.3 137.1h.01M662.7 133.4h.01M663.3 132.2h.01M660.7 128.6h.01M655.5 136.5h.01M652.6 133.9h.01M651.0 135.7h.01M656.2 131.7h.01M655.2 134.6h.01M656.3 136.6h.01M655.9 136.6h.01M657.2 134.3h.01M658.5 134.6h.01M662.4 132.9h.01M666.8 135.2h.01M664.7 133.0h.01M663.1 130.4h.01M662.9 132.8h.01M666.6 131.0h.01M663.9 133.5h.01M666.7 127.5h.01M666.9 125.3h.01M668.1 117.9h.01M668.1 112.0h.01M669.9 119.4h.01M666.7 126.2h.01M665.5 122.6h.01M661.3 121.1h.01M663.5 120.6h.01M659.6 121.8h.01M655.1 124.1h.01M659.0 114.3h.01M661.2 118.4h.01M668.3 114.5h.01M666.7 116.2h.01M663.9 118.1h.01M665.0 125.1h.01M664.1 124.7h.01M662.5 124.9h.01M660.2 130.6h.01M657.8 126.8h.01M664.5 121.1h.01M666.4 122.3h.01M667.4 112.3h.01M670.1 112.3h.01M671.1 113.6h.01M670.6 120.9h.01M670.6 126.1h.01M671.2 121.4h.01M668.4 128.9h.01M671.1 128.6h.01M677.5 126.4h.01M678.8 123.5h.01M677.2 128.5h.01M680.6 124.7h.01M681.7 124.0h.01M678.9 133.4h.01M683.7 130.9h.01M680.0 139.0h.01M679.1 133.8h.01M677.9 126.2h.01M678.0 132.0h.01M676.2 134.5h.01M677.4 132.4h.01M679.6 134.3h.01M674.3 132.3h.01M670.1 136.1h.01M671.1 132.7h.01M669.0 132.4h.01M667.0 133.4h.01M668.0 133.1h.01M667.4 133.6h.01M672.5 131.2h.01M674.7 138.3h.01M674.4 141.2h.01M674.6 138.9h.01M673.1 139.1h.01M673.3 140.9h.01M672.4 137.3h.01M672.8 136.3h.01M676.7 130.6h.01M675.8 130.7h.01M674.7 137.8h.01M675.1 133.9h.01M673.6 139.4h.01M675.9 139.2h.01M678.7 134.6h.01M679.1 136.4h.01M677.1 137.4h.01M678.9 137.1h.01M674.0 136.0h.01M674.0 141.0h.01M675.2 137.8h.01M676.1 138.0h.01M678.9 136.9h.01M679.7 138.1h.01M680.0 136.0h.01M678.6 135.6h.01M680.1 131.2h.01M681.3 130.9h.01M685.5 127.7h.01M686.1 123.2h.01M680.6 129.1h.01M678.7 126.8h.01M681.2 128.9h.01M681.3 123.2h.01M680.7 125.3h.01M684.2 121.2h.01M683.4 118.5h.01M685.7 122.5h.01M689.2 119.8h.01M692.3 120.4h.01M693.6 119.5h.01M694.1 125.2h.01M695.7 120.4h.01M692.5 123.3h.01M692.7 123.0h.01M697.1 119.3h.01M695.6 125.4h.01M690.7 128.9h.01M691.7 127.1h.01M692.2 128.5h.01M687.8 131.6h.01M685.7 125.7h.01M689.9 119.3h.01M691.3 124.4h.01M690.6 126.9h.01M689.1 121.8h.01M686.3 126.5h.01M685.3 125.4h.01M684.5 132.9h.01M682.5 135.5h.01M685.2 136.5h.01M684.3 137.2h.01M688.6 134.7h.01M687.6 141.3h.01M684.5 145.4h.01M689.8 147.8h.01M692.1 141.0h.01M690.3 137.6h.01M690.0 141.4h.01M686.6 137.1h.01M687.9 139.9h.01M688.0 142.1h.01M692.7 137.5h.01M692.8 139.2h.01M692.1 134.1h.01M690.7 131.4h.01M694.3 129.0h.01M690.0 138.9h.01M687.7 145.3h.01M693.5 135.7h.01M690.8 135.1h.01M690.2 132.2h.01M695.1 132.7h.01M695.0 136.2h.01M699.3 122.0h.01M697.6 128.3h.01M698.4 124.3h.01M695.0 121.3h.01M692.5 126.0h.01M698.8 120.3h.01M700.2 122.1h.01M696.4 123.5h.01M693.5 128.5h.01M697.4 123.6h.01M700.1 120.1h.01M696.3 125.5h.01M693.7 127.7h.01M691.1 131.0h.01M691.8 132.9h.01M697.5 128.0h.01M698.5 127.1h.01M698.1 127.0h.01M697.9 127.2h.01M699.0 134.3h.01M700.7 131.0h.01M702.4 129.3h.01M698.1 133.6h.01M699.7 132.0h.01M699.7 124.4h.01M692.3 131.5h.01M697.0 124.8h.01M694.1 135.3h.01M695.9 133.2h.01M696.1 142.2h.01M701.3 137.0h.01M700.1 139.2h.01M700.1 134.3h.01M700.4 129.6h.01M699.1 136.1h.01M698.5 134.7h.01M698.0 126.4h.01M703.1 122.1h.01M707.7 124.2h.01M706.3 127.3h.01M710.0 125.9h.01M714.9 126.8h.01M713.0 129.2h.01M710.9 133.4h.01M715.9 128.5h.01M715.4 126.8h.01M716.5 127.1h.01M709.9 133.5h.01M709.8 132.4h.01M708.2 132.0h.01M708.2 132.3h.01M707.3 131.6h.01M704.9 128.5h.01M705.1 128.7h.01M702.0 123.0h.01M705.7 124.9h.01M708.9 125.2h.01M708.3 128.4h.01M704.1 134.0h.01M703.4 133.5h.01M706.1 139.1h.01M708.1 137.4h.01M704.7 148.1h.01M706.4 142.5h.01M705.3 149.4h.01M708.3 139.3h.01M709.1 140.0h.01M706.4 145.9h.01M705.1 151.2h.01M706.7 146.2h.01M709.1 136.8h.01M709.9 135.4h.01M709.8 136.2h.01M710.4 135.4h.01" fill="none" stroke="#808000" stroke-width="3.4" stroke-linecap="round" stroke-linejoin="round"/>
<path d="M207.2 191.7 207.9 191.5 208.8 191.4 209.9 191.4 210.9 191.5 212.0 191.4 213.1 191.1 214.0 190.5 214.7 189.6 215.3 188.6 215.7 187.5 216.1 186.4 216.5 185.4 217.0 184.6 217.7 184.0 218.5 183.6 219.4 183.2 220.2 182.8 221.0 182.2 221.6 181.5 222.0 180.6 222.2 179.6 222.4 178.5 223.1 177.9 223.7 177.3 224.3 176.7 224.9 176.1 225.5 175.5 226.1 174.9 226.8 174.4 227.9 174.4 228.9 174.3 229.8 174.2 230.7 174.0 231.6 173.8 232.5 173.5 233.3 173.1 234.0 172.5 234.6 171.8 235.2 171.0 235.6 170.2 235.9 169.3 236.3 168.4 236.8 167.6 237.3 166.8 237.9 166.0 238.5 165.3 239.1 164.6 239.8 163.9 240.4 163.2 241.2 162.6 241.9 162.0 242.7 161.3 243.5 160.7 244.4 160.1 245.2 159.5 246.0 159.0 246.8 158.4 247.4 157.8 248.0 157.2 248.4 156.5 248.8 155.9 249.2 155.2 249.8 154.7 250.4 154.4 251.1 154.1 251.8 153.9 252.4 153.6 253.0 153.3 253.6 152.9 254.3 152.5 255.0 152.3 255.9 152.1 256.8 151.9 257.6 151.7 258.3 151.4 259.0 151.0 259.7 150.6 260.4 150.2 261.1 149.8 261.8 149.4 262.5 149.1 263.3 148.8 264.1 148.8 265.0 148.8 265.8 148.8 266.6 148.6 267.2 148.2 267.7 147.5 268.2 146.6 268.8 145.8 269.3 145.1 269.9 144.5 270.5 144.1 271.1 143.7 271.8 143.4 272.5 143.2 273.2 143.1 273.8 143.3 274.5 143.6 275.2 144.0 275.9 144.4 276.6 144.8 277.4 145.1 278.2 145.5 279.0 145.8 279.8 146.0 280.7 146.1 281.6 146.2 282.6 146.1 283.6 146.0 284.6 145.9 285.6 145.8 286.7 145.8 287.7 145.9 288.9 146.1 290.1 146.4 291.4 146.8 292.5 147.1 293.5 147.2 294.5 147.1 295.4 146.7 296.4 146.1 297.2 145.5 298.1 144.9 298.9 144.4 299.8 144.0 300.7 143.6 301.6 143.4 302.5 143.2 303.4 143.1 304.4 143.1 305.3 143.1 306.2 143.0 307.1 142.7 307.9 142.3 308.7 141.7 309.3 141.0 310.0 140.2 310.7 139.5 311.4 138.9 312.3 138.5 313.2 138.3 314.2 138.2 315.2 138.2 316.2 138.0 317.1 137.8 318.0 137.6 318.9 137.3 319.7 136.9 320.5 136.4 321.1 135.6 321.7 134.8 322.2 133.8 322.7 132.9 323.4 132.5 324.2 132.2 324.9 132.0 325.7 132.1 326.7 132.9 327.7 134.0 328.6 135.1 329.4 136.1 329.9 136.0 330.5 136.0 331.1 136.0 331.7 136.0 332.4 135.5 333.2 134.6 334.0 133.7 334.9 133.0 335.3 132.4 335.7 132.1 336.2 132.1 336.9 132.5 337.8 133.1 338.8 133.9 340.1 134.7 341.6 135.2 343.0 135.5 344.5 135.5 345.9 135.3 347.2 135.1 348.5 135.1 349.7 135.1 350.9 135.2 352.1 135.2 353.2 135.2 354.2 135.1 355.1 134.8 355.9 134.3 356.6 133.6 357.2 132.7 357.7 131.6 358.1 130.4 358.5 129.2 358.9 128.2 359.6 127.6 360.4 127.3 361.3 127.4 362.3 127.7 363.3 127.9 364.1 128.0 364.9 127.9 365.5 127.7 366.2 127.4 366.8 127.0 367.4 126.5 367.9 125.9 368.5 125.2 369.1 124.7 369.9 124.4 370.7 124.3 371.5 124.5 372.3 124.7 373.2 125.0 374.0 125.2 374.9 125.3 375.7 125.3 376.6 125.3 377.6 125.2 378.5 125.2 379.4 125.3 380.4 125.3 381.4 125.4 382.4 125.3 383.5 125.2 384.5 125.1 385.6 124.9 386.6 124.6 387.6 124.3 388.7 123.7 389.7 123.2 390.7 122.7 391.6 122.4 392.5 122.2 393.5 122.0 394.5 121.8 395.4 121.5 396.1 121.0 396.8 120.3 397.4 119.6 398.1 119.0 398.8 118.7 399.7 118.4 400.5 118.3 401.2 118.3 401.9 118.2 402.6 118.0 403.2 117.7 403.7 117.2 404.2 116.8 404.7 116.5 405.1 116.4 405.5 116.5 405.9 116.8 406.2 117.0 406.5 117.2 406.9 117.2 407.4 117.2 408.1 117.3 408.7 117.5 409.3 117.8 410.0 118.3 410.6 118.8 411.3 119.3 412.0 119.9 412.7 120.5 413.6 121.0 414.5 121.6 415.4 122.2 416.3 122.7 417.3 123.1 418.1 123.5 418.9 123.8 419.6 124.1 420.4 124.5 421.1 124.8 421.9 125.2 422.6 125.7 423.4 126.2 424.1 126.8 424.8 127.4 425.5 128.1 426.2 128.8 426.9 129.5 427.7 130.1 428.7 130.4 429.7 130.4 430.7 130.3 431.8 130.3 432.9 130.5 433.8 131.0 434.6 131.8 435.4 132.7 436.3 133.6 437.4 134.3 438.6 134.8 439.8 135.1 440.9 135.0 442.1 134.8 443.2 134.6 444.3 134.4 445.4 134.2 446.5 134.0 447.5 133.7 448.5 133.3 449.5 132.8 450.4 132.2 451.2 131.7 452.1 131.2 453.0 131.0 453.9 130.9 454.7 131.0 455.6 131.2 456.4 131.5 457.2 131.8 458.0 132.1 458.8 132.4 459.5 132.7 460.3 133.0 461.2 133.3 462.0 133.4 462.9 133.6 463.7 133.8 464.6 133.9 465.5 134.1 466.3 134.2 467.2 134.3 468.0 134.4 468.9 134.5 469.7 134.6 470.6 134.5 471.5 134.3 472.4 134.1 473.2 133.7 474.1 133.3 475.0 132.9 475.9 132.5 476.8 132.2 477.7 132.1 478.5 132.2 479.4 132.3 480.2 132.5 481.0 132.7 481.9 132.6 482.7 132.4 483.6 132.2 484.5 132.0 485.3 132.1 486.2 132.5 486.9 133.3 487.7 134.4 488.5 135.5 489.3 136.4 490.1 137.2 490.9 137.8 491.8 138.1 492.8 138.2 493.7 138.3 494.7 138.1 495.7 137.8 496.6 137.4 497.6 137.1 498.5 137.0 499.4 137.0 500.3 137.1 501.2 137.3 502.1 137.4 503.0 137.4 503.9 137.5 504.8 137.5 505.7 137.7 506.6 137.8 507.5 138.0 508.4 138.0 509.3 137.8 510.2 137.4 511.1 136.9 512.0 136.2 512.9 135.4 513.8 134.5 514.8 133.6 515.7 133.3 516.6 133.4 517.4 133.4 518.3 133.6 519.2 134.6 520.0 135.8 520.9 136.7 521.8 137.3 522.7 137.4 523.6 137.2 524.5 136.9 525.4 136.7 526.3 136.7 527.2 136.9 528.1 137.4 529.0 137.9 529.9 138.2 530.8 138.2 531.8 137.9 532.6 137.3 533.6 136.8 534.5 136.3 535.4 135.9 536.3 135.7 537.2 135.7 538.1 135.9 539.0 136.3 539.9 136.7 540.8 137.2 541.7 137.6 542.6 137.9 543.5 138.0 544.4 138.0 545.3 138.0 546.2 137.9 547.1 137.8 547.9 137.7 548.8 137.5 549.6 137.3 550.5 137.0 551.3 136.7 552.2 136.2 553.0 135.7 553.9 135.2 554.7 134.8 555.6 134.6 556.5 134.6 557.3 134.9 558.2 135.4 559.1 135.8 559.9 136.0 560.8 136.0 561.7 135.8 562.5 135.7 563.4 135.6 564.2 135.6 565.1 135.6 566.0 135.5 566.9 135.4 567.7 135.3 568.6 135.1 569.5 135.0 570.3 134.9 571.2 134.8 572.1 134.9 573.0 135.1 573.8 135.5 574.7 136.0 575.6 136.4 576.5 136.7 577.3 136.9 578.2 137.0 579.1 137.2 580.0 137.5 580.9 137.7 581.7 137.7 582.6 137.3 583.5 136.4 584.4 135.5 585.3 134.7 586.2 134.4 587.1 134.6 587.9 135.1 588.8 135.6 589.7 135.9 590.6 136.1 591.5 136.1 592.4 136.0 593.3 136.0 594.2 136.0 595.0 136.0 595.9 136.0 596.8 135.8 597.7 135.5 598.6 135.3 599.5 135.1 600.4 135.0 601.3 135.1 602.2 135.1 603.0 135.1 603.9 135.0 604.8 134.9 605.7 134.7 606.6 134.6 607.5 134.7 608.4 134.9 609.3 135.1 610.2 135.3 611.0 135.4 611.9 135.3 612.8 135.2 613.7 135.2 614.6 135.2 615.5 135.3 616.4 135.4 617.2 135.4 618.1 135.2 619.0 134.9 619.9 134.6 620.7 134.4 621.6 134.3 622.5 134.3 623.4 134.6 624.3 135.1 625.2 135.6 626.1 136.1 626.9 136.4 627.8 136.5 628.7 136.4 629.6 136.1 630.4 135.8 631.3 135.4 632.1 135.2 633.0 135.0 633.9 134.9 634.8 135.0 635.6 135.2 636.5 135.5 637.4 135.7 638.2 135.7 639.1 135.6 640.0 135.3 640.8 134.9 641.7 134.6 642.6 134.3 643.5 134.1 644.3 133.9 645.2 133.8 646.1 133.6 647.0 133.5 647.9 133.6 648.7 133.9 649.6 134.3 650.5 134.8 651.4 135.3 652.3 135.6 653.1 135.8 654.0 135.8 654.9 135.7 655.8 135.4 656.6 135.1 657.5 134.6 658.4 134.1 659.3 133.8 660.1 133.7 661.0 133.9 661.9 134.3 662.8 134.7 663.6 135.0 664.5 135.2 665.4 135.1 666.2 134.8 667.1 134.4 668.0 134.0 668.9 133.7 669.7 133.6 670.6 133.7 671.5 133.8 672.3 134.1 673.2 134.6 674.1 135.1 674.9 135.9 675.8 136.7 676.6 137.3 677.5 137.6 678.3 137.5 679.2 136.9 680.1 135.9 681.0 134.9 681.8 133.9 682.7 133.3 683.6 133.0 684.5 133.0 685.3 133.4 686.1 133.9 687.0 134.5 687.8 135.0 688.6 135.6 689.4 136.1 690.3 136.6 691.1 137.1 691.9 137.5 692.8 137.7 693.6 137.6 694.5 137.3 695.4 137.0 696.3 136.6 697.2 136.4 698.1 136.3 699.0 136.4 699.8 136.5 700.7 136.6 701.6 136.6 702.5 136.5 703.4 136.2 704.3 136.0 705.2 135.9 706.1 135.9 707.0 136.0 707.9 136.2 709.5 120.7 708.6 120.5 707.8 120.3 706.9 120.2 706.0 120.2 705.2 120.4 704.3 120.6 703.4 120.7 702.5 120.7 701.6 120.6 700.8 120.4 699.9 120.3 699.0 120.2 698.1 120.3 697.2 120.6 696.3 120.9 695.4 121.2 694.5 121.3 693.6 121.2 692.7 120.8 691.9 120.4 691.0 119.8 690.1 119.3 689.2 118.7 688.3 118.1 687.5 117.5 686.6 116.9 685.7 116.5 684.8 116.2 683.9 116.3 682.9 116.8 682.0 117.6 681.1 118.6 680.1 119.6 679.2 120.4 678.3 120.8 677.4 120.7 676.5 120.2 675.6 119.5 674.8 118.8 673.9 118.1 673.0 117.6 672.1 117.3 671.2 117.1 670.3 117.0 669.4 117.1 668.5 117.3 667.6 117.7 666.7 118.1 665.8 118.5 665.0 118.7 664.1 118.7 663.2 118.5 662.3 118.1 661.4 117.7 660.5 117.5 659.6 117.5 658.7 117.7 657.9 118.2 657.0 118.7 656.1 119.1 655.2 119.5 654.3 119.7 653.4 119.7 652.6 119.7 651.7 119.5 650.8 119.1 649.9 118.7 649.0 118.2 648.1 117.8 647.2 117.7 646.4 117.8 645.5 117.9 644.6 118.1 643.7 118.3 642.8 118.5 642.0 118.8 641.1 119.1 640.2 119.5 639.3 119.9 638.4 120.1 637.5 120.2 636.7 120.1 635.8 119.9 634.9 119.6 634.0 119.5 633.1 119.5 632.2 119.6 631.3 119.9 630.4 120.2 629.6 120.5 628.7 120.9 627.8 121.1 626.9 121.2 626.0 121.0 625.1 120.6 624.3 120.1 623.3 119.6 622.5 119.2 621.6 119.0 620.7 119.1 619.8 119.3 618.9 119.6 618.1 119.9 617.2 120.2 616.3 120.3 615.5 120.2 614.6 120.1 613.7 120.1 612.8 120.1 611.9 120.2 611.1 120.3 610.2 120.3 609.3 120.2 608.4 119.9 607.6 119.7 606.7 119.6 605.8 119.6 604.9 119.7 604.1 119.9 603.2 120.1 602.3 120.1 601.5 120.1 600.6 120.0 599.8 120.0 598.9 120.2 598.0 120.4 597.1 120.7 596.3 120.9 595.4 121.0 594.5 121.1 593.7 121.1 592.8 121.1 591.9 121.1 591.0 121.1 590.2 121.1 589.3 120.8 588.4 120.4 587.5 119.9 586.7 119.5 585.8 119.6 584.9 120.1 584.0 121.0 583.2 121.9 582.3 122.6 581.4 122.8 580.5 122.7 579.6 122.4 578.8 122.1 577.9 122.0 577.0 121.9 576.1 121.6 575.2 121.3 574.4 120.8 573.5 120.4 572.6 120.0 571.7 119.9 570.8 119.8 569.9 119.9 569.0 120.1 568.2 120.2 567.3 120.4 566.4 120.5 565.5 120.6 564.6 120.6 563.7 120.6 562.8 120.7 561.9 120.8 561.0 120.9 560.2 121.0 559.2 120.9 558.4 120.6 557.4 120.2 556.5 119.8 555.6 119.6 554.7 119.6 553.8 120.0 552.9 120.4 552.1 121.0 551.2 121.5 550.3 121.9 549.4 122.2 548.5 122.5 547.7 122.7 546.8 122.8 545.9 122.9 545.0 123.0 544.1 123.1 543.3 123.1 542.4 123.0 541.5 122.8 540.6 122.5 539.7 122.0 538.8 121.5 538.0 121.1 537.1 120.8 536.2 120.7 535.4 120.8 534.5 121.1 533.7 121.5 532.9 122.1 532.0 122.6 531.2 123.1 530.3 123.2 529.5 123.1 528.6 122.6 527.7 122.1 526.9 121.7 526.0 121.6 525.2 121.7 524.3 122.0 523.4 122.2 522.5 122.3 521.7 121.9 520.8 121.1 520.0 120.0 519.2 118.9 518.3 118.1 517.5 118.1 516.6 118.0 515.8 118.0 514.9 118.7 514.0 119.5 513.1 120.4 512.2 121.1 511.3 121.7 510.4 122.2 509.5 122.4 508.6 122.5 507.8 122.4 506.9 122.2 506.0 122.0 505.2 121.9 504.3 121.9 503.4 121.8 502.6 121.7 501.7 121.6 500.8 121.5 500.0 121.4 499.1 121.5 498.2 121.8 497.4 122.1 496.5 122.5 495.6 122.8 494.8 122.9 493.9 122.9 493.0 122.8 492.2 122.4 491.4 121.8 490.7 121.0 489.9 120.0 489.1 119.0 488.3 118.1 487.5 117.5 486.6 117.3 485.7 117.5 484.7 117.8 483.8 118.1 482.8 118.2 481.9 118.2 480.9 118.1 480.0 117.9 479.1 117.8 478.2 117.9 477.3 118.1 476.4 118.5 475.5 119.0 474.5 119.4 473.6 119.8 472.7 120.2 471.8 120.5 470.9 120.6 470.0 120.7 469.1 120.6 468.2 120.5 467.3 120.5 466.4 120.4 465.6 120.3 464.7 120.1 463.8 120.0 462.9 119.8 462.0 119.6 461.1 119.4 460.2 119.1 459.3 118.8 458.3 118.4 457.3 118.0 456.3 117.6 455.3 117.2 454.3 116.9 453.4 116.6 452.5 116.5 451.6 116.5 450.7 116.8 449.9 117.1 449.1 117.6 448.4 118.0 447.6 118.3 446.8 118.6 446.1 118.7 445.3 118.8 444.5 119.0 443.8 119.2 443.1 119.4 442.4 119.6 441.8 119.6 441.1 119.3 440.4 118.9 439.8 118.2 439.3 117.5 438.8 116.8 438.2 116.4 437.4 116.3 436.5 116.5 435.6 116.8 434.6 117.0 433.7 117.1 432.9 116.9 432.2 116.4 431.5 115.9 430.8 115.4 430.1 114.9 429.3 114.5 428.5 114.2 427.7 113.8 426.9 113.5 426.0 113.3 425.1 113.0 424.2 112.8 423.3 112.5 422.4 112.2 421.6 112.0 421.0 111.7 420.4 111.3 419.8 111.0 419.1 110.5 418.5 110.0 417.8 109.5 417.2 108.9 416.5 108.3 415.7 107.6 414.9 107.0 413.9 106.5 412.8 106.1 411.6 105.7 410.4 105.4 409.2 105.0 408.0 104.5 406.7 104.1 405.3 103.8 403.9 103.8 402.6 104.1 401.3 104.6 400.2 105.2 399.2 105.7 398.1 106.1 397.1 106.3 396.1 106.4 395.2 106.5 394.2 106.7 393.3 107.1 392.5 107.6 391.8 108.2 391.1 108.9 390.4 109.5 389.7 109.9 388.9 110.1 388.0 110.1 387.2 110.2 386.4 110.3 385.8 110.6 385.1 111.0 384.4 111.4 383.9 111.7 383.2 111.9 382.5 111.9 381.8 112.0 381.1 112.1 380.3 112.1 379.5 112.0 378.7 111.9 377.9 111.8 377.0 111.7 376.2 111.6 375.3 111.6 374.4 111.5 373.5 111.4 372.6 111.2 371.6 111.0 370.6 110.6 369.6 110.4 368.5 110.3 367.4 110.5 366.4 110.9 365.5 111.5 364.6 112.2 363.6 112.8 362.5 113.3 361.5 113.8 360.5 114.1 359.5 114.3 358.5 114.3 357.3 114.1 356.1 113.9 355.0 113.7 354.0 113.7 353.1 114.2 352.5 115.0 352.0 116.1 351.5 117.2 351.0 118.3 350.5 119.3 349.9 120.0 349.2 120.5 348.4 120.8 347.6 120.9 346.7 120.9 345.8 120.7 344.9 120.5 344.2 120.3 343.6 120.1 343.1 120.0 342.8 120.0 342.4 120.1 342.2 120.1 342.1 119.9 342.0 119.6 341.8 119.3 341.4 119.0 340.6 118.8 339.3 118.8 337.6 118.9 335.8 119.4 334.5 120.2 333.7 121.1 332.7 122.2 331.8 123.1 330.8 123.2 329.8 123.3 328.8 123.4 327.8 123.5 326.7 123.2 325.4 122.2 324.1 121.2 322.7 120.4 321.3 119.9 320.3 120.3 319.2 120.7 318.3 121.1 317.5 121.8 316.9 122.8 316.3 123.7 315.7 124.6 315.0 125.2 314.2 125.6 313.5 125.9 312.6 126.1 311.8 126.3 311.0 126.4 310.2 126.5 309.3 126.5 308.5 126.5 307.8 126.7 307.1 127.2 306.4 127.9 305.7 128.6 305.0 129.4 304.3 130.1 303.6 130.6 302.8 130.9 301.9 131.1 301.0 131.2 300.1 131.1 299.3 131.1 298.4 131.2 297.6 131.4 296.8 131.7 296.1 132.1 295.3 132.5 294.7 133.0 293.9 133.6 293.2 134.2 292.5 134.6 291.7 134.8 290.9 134.8 290.1 134.5 289.3 134.1 288.6 133.7 287.9 133.4 287.2 133.2 286.6 133.1 285.9 133.1 285.2 133.2 284.4 133.3 283.6 133.3 282.7 133.3 281.9 133.2 281.0 132.9 280.2 132.6 279.2 132.2 278.3 131.8 277.3 131.4 276.3 130.9 275.2 130.5 274.1 130.1 272.9 129.9 271.7 129.9 270.3 130.1 269.0 130.6 267.8 131.1 266.9 131.6 266.0 132.3 265.1 133.0 264.3 134.0 263.6 135.0 262.9 136.0 262.2 136.7 261.4 137.2 260.4 137.5 259.5 137.6 258.6 137.8 257.7 138.1 256.8 138.6 256.1 139.1 255.3 139.7 254.6 140.3 253.8 140.9 253.1 141.5 252.3 142.0 251.5 142.5 250.7 142.9 249.8 143.2 248.9 143.6 248.1 144.1 247.4 144.8 246.6 145.5 245.8 146.2 244.9 146.8 244.0 147.5 243.2 148.2 242.6 149.0 242.1 149.9 241.7 150.8 241.3 151.8 240.9 152.7 240.5 153.4 239.9 154.1 239.3 154.7 238.7 155.3 238.1 155.8 237.6 156.3 237.1 156.7 236.5 157.2 235.9 157.7 235.3 158.2 234.8 158.7 234.2 159.2 233.6 159.8 233.0 160.4 232.4 161.0 231.8 161.6 231.3 162.4 230.7 163.2 230.2 164.0 229.7 164.7 229.1 165.4 228.3 165.8 227.5 166.2 226.6 166.5 225.6 166.6 224.6 166.8 223.5 166.9 222.3 167.0 221.1 167.1 220.0 167.4 219.3 168.0 218.5 168.6 217.8 169.2 217.1 169.8 216.5 170.4 215.8 171.0 215.3 171.8 215.1 172.8 214.8 173.7 214.4 174.5 213.8 175.0 213.0 175.4 212.2 175.8 211.3 176.1 210.6 176.6 210.0 177.2 209.7 178.0 209.4 178.9 209.2 179.9 209.0 180.8 208.6 181.7 208.2 182.3 207.5 182.7 206.7 182.9 205.8 183.0 204.8 183.1 203.9 183.3 203.0 183.7Z" fill="#ff0000"/><path d="M204.9 187.8h.01M204.7 187.0h.01M204.3 186.4h.01M201.9 182.7h.01M201.6 182.0h.01M201.3 180.5h.01M202.2 180.0h.01M202.6 182.4h.01M202.8 182.6h.01M205.4 182.1h.01M206.3 183.3h.01M204.8 183.0h.01M202.3 182.9h.01M204.5 185.1h.01M204.4 181.5h.01M206.0 186.8h.01M207.4 185.8h.01M210.6 187.0h.01M213.5 186.5h.01M212.2 182.5h.01M211.6 183.7h.01M210.4 185.3h.01M210.5 182.2h.01M209.0 185.6h.01M213.1 186.1h.01M214.2 186.0h.01M211.4 183.2h.01M210.2 188.6h.01M209.6 190.0h.01M205.5 188.1h.01M207.2 192.7h.01M208.9 191.4h.01M213.0 187.8h.01M212.4 190.3h.01M213.4 193.6h.01M217.6 191.1h.01M214.8 187.0h.01M214.0 184.7h.01M213.8 186.9h.01M217.5 186.2h.01M218.3 187.4h.01M220.6 188.1h.01M222.0 187.7h.01M223.8 185.8h.01M220.4 181.7h.01M215.1 178.4h.01M218.1 181.0h.01M217.5 181.5h.01M213.3 182.5h.01M210.2 180.5h.01M207.4 181.4h.01M208.3 181.8h.01M208.4 182.2h.01M207.1 180.7h.01M207.6 185.0h.01M210.0 184.2h.01M212.8 185.5h.01M211.2 179.4h.01M209.7 180.8h.01M209.9 181.4h.01M206.6 178.7h.01M211.2 181.1h.01M208.0 178.7h.01M208.7 176.7h.01M208.3 178.8h.01M208.8 176.8h.01M211.3 178.3h.01M217.7 184.8h.01M212.7 179.0h.01M213.4 179.4h.01M216.3 179.0h.01M219.4 179.2h.01M223.2 180.9h.01M218.9 176.3h.01M218.1 177.3h.01M215.1 176.0h.01M216.4 178.0h.01M214.7 176.1h.01M215.2 177.9h.01M214.4 180.0h.01M215.5 183.0h.01M213.0 176.9h.01M212.6 177.6h.01M214.2 178.2h.01M213.2 177.5h.01M216.8 179.3h.01M217.3 179.7h.01M221.4 179.9h.01M220.1 177.6h.01M219.8 180.4h.01M223.5 183.5h.01M219.7 182.1h.01M220.3 182.7h.01M221.3 180.1h.01M217.1 179.1h.01M220.1 179.5h.01M220.1 179.0h.01M220.0 175.1h.01M221.2 176.1h.01M223.8 175.9h.01M224.3 176.2h.01M223.8 172.4h.01M225.2 173.7h.01M224.4 175.6h.01M225.4 176.1h.01M224.4 175.1h.01M228.4 174.3h.01M225.0 173.7h.01M221.5 174.6h.01M221.9 171.0h.01M223.3 174.3h.01M221.2 176.7h.01M221.4 178.7h.01M221.8 180.1h.01M220.6 178.5h.01M225.9 176.5h.01M228.5 179.8h.01M226.6 175.3h.01M229.8 177.5h.01M228.5 177.8h.01M226.2 180.2h.01M227.4 174.7h.01M224.3 172.4h.01M222.0 171.9h.01M226.2 174.5h.01M224.8 175.0h.01M224.2 175.3h.01M226.6 174.2h.01M226.2 174.7h.01M224.8 171.7h.01M223.2 170.2h.01M227.4 170.1h.01M225.2 172.5h.01M222.3 177.0h.01M220.0 171.6h.01M221.8 173.3h.01M227.7 170.1h.01M229.9 172.5h.01M227.8 169.4h.01M231.7 171.7h.01M233.3 173.1h.01M233.5 171.7h.01M230.1 170.5h.01M231.9 173.8h.01M231.0 167.6h.01M231.3 172.2h.01M228.2 169.2h.01M228.0 167.2h.01M230.2 167.4h.01M231.2 168.6h.01M229.3 163.9h.01M230.2 162.7h.01M230.1 162.7h.01M230.3 165.8h.01M232.3 166.8h.01M232.4 169.0h.01M230.7 168.3h.01M233.1 166.9h.01M230.9 162.6h.01M229.3 164.5h.01M226.5 166.2h.01M226.9 168.1h.01M226.5 165.2h.01M226.1 161.6h.01M226.5 161.4h.01M230.1 158.7h.01M233.1 163.5h.01M229.0 161.4h.01M231.7 165.0h.01M234.3 164.9h.01M231.5 159.7h.01M234.3 162.5h.01M236.4 161.2h.01M237.6 160.1h.01M240.7 160.2h.01M240.4 162.8h.01M239.2 161.0h.01M240.4 162.7h.01M239.9 162.5h.01M241.0 158.6h.01M239.3 156.1h.01M238.7 155.1h.01M235.2 155.6h.01M234.9 156.8h.01M235.5 156.0h.01M235.2 155.6h.01M235.2 159.1h.01M234.6 156.2h.01M234.9 156.7h.01M237.7 156.7h.01M240.1 157.9h.01M239.9 155.1h.01M239.4 158.0h.01M236.7 157.2h.01M240.5 158.7h.01M243.5 153.5h.01M244.2 153.4h.01M244.4 153.2h.01M243.5 154.7h.01M244.8 151.0h.01M244.6 151.3h.01M244.9 153.1h.01M245.1 153.2h.01M245.1 155.5h.01M247.4 156.5h.01M247.2 156.6h.01M246.9 157.4h.01M247.0 161.7h.01M245.9 163.3h.01M243.0 161.0h.01M241.7 165.0h.01M239.1 163.6h.01M241.3 163.9h.01M244.5 165.2h.01M246.4 160.0h.01M243.0 162.3h.01M242.1 161.1h.01M241.2 160.6h.01M240.6 158.5h.01M243.1 160.4h.01M241.8 160.6h.01M242.7 159.8h.01M241.4 158.9h.01M244.4 155.0h.01M239.4 152.4h.01M241.6 152.7h.01M245.5 153.3h.01M248.4 154.6h.01M250.2 156.7h.01M248.5 155.9h.01M246.4 155.0h.01M246.3 157.0h.01M248.5 158.1h.01M249.9 154.8h.01M249.4 151.2h.01M245.6 151.3h.01M247.6 150.9h.01M243.3 148.2h.01M244.2 149.6h.01M249.3 154.3h.01M253.4 155.3h.01M250.2 155.5h.01M248.4 156.2h.01M251.2 154.9h.01M248.7 157.5h.01M249.9 159.1h.01M248.7 156.3h.01M247.2 154.7h.01M244.5 152.7h.01M248.2 150.3h.01M248.3 147.0h.01M252.1 150.0h.01M249.3 145.4h.01M249.4 146.5h.01M247.4 146.1h.01M248.6 144.2h.01M251.7 144.1h.01M252.3 149.1h.01M250.9 143.9h.01M256.4 144.6h.01M255.4 142.5h.01M253.2 145.2h.01M250.5 141.0h.01M252.7 146.3h.01M255.1 145.9h.01M256.2 148.3h.01M257.1 150.6h.01M251.6 147.4h.01M252.8 149.2h.01M250.8 146.2h.01M249.6 149.1h.01M249.3 150.0h.01M247.1 149.4h.01M251.4 150.4h.01M247.5 143.8h.01M250.1 148.6h.01M247.6 140.5h.01M248.4 141.2h.01M247.8 140.9h.01M250.7 146.3h.01M250.3 141.0h.01M250.9 141.7h.01M246.4 141.2h.01M249.5 147.2h.01M250.9 149.2h.01M248.2 152.4h.01M252.5 153.4h.01M256.1 152.8h.01M251.3 148.0h.01M253.2 145.9h.01M252.3 142.1h.01M253.7 143.3h.01M252.1 143.9h.01M256.3 143.2h.01M255.8 141.3h.01M253.7 141.3h.01M256.1 142.0h.01M255.5 140.9h.01M254.3 142.5h.01M254.7 140.2h.01M254.0 137.5h.01M250.4 139.1h.01M249.6 136.8h.01M250.8 136.3h.01M253.5 136.9h.01M256.2 136.9h.01M257.0 138.4h.01M260.3 143.6h.01M258.3 145.0h.01M255.3 139.8h.01M257.2 145.9h.01M256.4 140.1h.01M259.5 140.6h.01M260.6 145.4h.01M256.2 146.3h.01M254.7 140.7h.01M260.1 145.5h.01M260.5 147.0h.01M255.8 143.6h.01M256.8 141.1h.01M255.5 141.3h.01M254.8 138.2h.01M255.0 138.3h.01M254.8 133.3h.01M253.3 135.7h.01M259.5 141.2h.01M259.5 139.3h.01M263.7 137.9h.01M259.3 134.4h.01M255.0 135.4h.01M254.4 133.2h.01M254.5 138.7h.01M255.4 138.5h.01M253.3 141.4h.01M256.1 140.4h.01M255.5 136.3h.01M259.6 140.2h.01M260.4 141.5h.01M259.7 145.4h.01M264.5 149.0h.01M267.0 147.5h.01M271.4 150.0h.01M270.1 150.6h.01M270.3 150.5h.01M271.2 150.2h.01M269.9 150.8h.01M269.9 150.8h.01M270.1 150.8h.01M270.2 146.0h.01M267.0 148.3h.01M269.2 144.9h.01M268.6 143.3h.01M267.8 140.6h.01M265.7 138.1h.01M269.7 142.3h.01M271.4 143.3h.01M270.9 142.2h.01M271.1 137.5h.01M268.2 133.7h.01M271.3 138.3h.01M269.5 139.3h.01M270.0 143.0h.01M274.7 145.8h.01M274.3 149.8h.01M272.8 150.3h.01M272.5 150.5h.01M272.9 150.1h.01M273.8 148.9h.01M274.3 150.0h.01M273.7 147.4h.01M274.3 149.4h.01M277.0 139.4h.01M272.2 135.8h.01M273.3 137.8h.01M275.3 138.8h.01M272.7 137.0h.01M274.0 136.9h.01M274.6 134.0h.01M269.3 135.7h.01M273.8 135.0h.01M276.9 140.8h.01M277.7 141.4h.01M275.7 140.5h.01M275.4 140.7h.01M273.6 136.9h.01M272.7 138.6h.01M275.2 137.2h.01M270.6 132.7h.01M267.2 136.3h.01M267.4 137.9h.01M270.3 138.1h.01M269.1 134.2h.01M271.7 132.7h.01M271.2 134.4h.01M272.0 134.6h.01M272.8 134.0h.01M274.2 135.7h.01M275.9 142.7h.01M275.8 143.8h.01M274.2 143.3h.01M272.1 140.5h.01M275.2 147.2h.01M276.4 148.3h.01M279.0 145.3h.01M277.5 146.4h.01M279.2 144.2h.01M281.4 140.2h.01M284.2 135.5h.01M283.4 139.0h.01M285.3 142.6h.01M281.6 147.6h.01M281.1 146.0h.01M279.4 142.8h.01M276.9 144.1h.01M278.4 138.5h.01M281.0 137.7h.01M279.3 141.6h.01M279.1 138.3h.01M278.6 136.9h.01M277.6 141.8h.01M279.7 144.8h.01M282.1 145.7h.01M279.2 145.5h.01M281.1 142.2h.01M283.3 134.5h.01M281.4 143.5h.01M278.5 142.2h.01M279.4 137.9h.01M278.4 132.0h.01M279.8 136.3h.01M280.1 147.1h.01M283.8 145.2h.01M282.9 144.8h.01M284.0 141.8h.01M284.3 135.4h.01M286.0 131.0h.01M284.0 140.0h.01M283.2 141.8h.01M282.3 134.1h.01M282.4 141.6h.01M283.4 140.3h.01M287.0 145.1h.01M288.0 143.1h.01M287.5 142.6h.01M289.8 140.5h.01M291.5 141.2h.01M289.9 144.8h.01M290.4 139.9h.01M289.5 140.3h.01M288.8 143.7h.01M289.0 145.3h.01M288.6 146.6h.01M287.6 139.6h.01M288.7 139.3h.01M287.8 144.9h.01M284.3 139.6h.01M283.9 142.3h.01M287.0 141.6h.01M288.0 137.4h.01M289.6 138.9h.01M290.3 142.7h.01M289.0 147.0h.01M286.7 149.5h.01M284.8 147.9h.01M286.1 151.0h.01M286.5 151.3h.01M287.8 151.1h.01M287.6 151.3h.01M293.0 150.6h.01M291.5 150.8h.01M294.6 150.3h.01M293.7 148.7h.01M296.2 145.8h.01M299.8 145.7h.01M302.1 141.7h.01M303.5 138.5h.01M302.9 136.5h.01M300.0 144.2h.01M295.5 141.9h.01M296.5 144.7h.01M299.1 148.5h.01M295.3 144.3h.01M297.2 140.4h.01M298.1 145.1h.01M295.9 145.9h.01M295.9 142.0h.01M300.7 141.3h.01M299.2 142.3h.01M299.3 140.6h.01M298.5 135.1h.01M298.5 139.8h.01M297.9 127.8h.01M300.9 129.0h.01M301.6 129.4h.01M304.4 130.9h.01M303.6 131.0h.01M305.7 136.6h.01M302.4 136.6h.01M303.0 131.7h.01M303.0 135.6h.01M299.1 137.3h.01M298.3 134.9h.01M295.4 135.4h.01M292.5 131.3h.01M295.7 134.3h.01M296.8 131.2h.01M293.6 127.3h.01M289.5 128.4h.01M292.6 131.0h.01M290.0 128.3h.01M292.3 127.7h.01M294.4 127.1h.01M296.0 128.3h.01M300.3 127.3h.01M301.7 127.8h.01M300.8 127.7h.01M301.9 135.9h.01M300.7 132.7h.01M302.6 136.9h.01M298.3 132.7h.01M299.0 136.0h.01M297.8 131.1h.01M294.4 129.6h.01M291.8 128.0h.01M294.4 130.5h.01M293.1 133.6h.01M295.8 129.9h.01M299.7 136.1h.01M300.9 136.4h.01M301.1 140.5h.01M298.9 138.7h.01M301.5 142.8h.01M302.4 141.2h.01M305.7 143.0h.01M301.0 145.8h.01M301.3 140.4h.01M302.3 135.9h.01M303.7 143.2h.01M302.5 135.1h.01M301.4 134.5h.01M301.5 136.3h.01M300.5 140.5h.01M302.9 139.5h.01M303.6 138.9h.01M302.4 135.7h.01M301.9 134.5h.01M304.7 138.7h.01M307.0 134.3h.01M310.8 136.3h.01M310.8 136.4h.01M308.7 136.1h.01M310.1 136.3h.01M306.7 137.5h.01M309.3 134.0h.01M310.9 133.9h.01M309.1 132.6h.01M309.6 135.5h.01M310.7 143.1h.01M312.5 145.2h.01M310.9 145.7h.01M311.0 144.3h.01M309.5 142.6h.01M306.8 144.0h.01M305.5 137.2h.01M304.7 134.6h.01M302.4 130.7h.01M303.0 137.2h.01M303.1 136.5h.01M304.5 139.5h.01M304.2 139.5h.01M306.4 145.3h.01M305.6 140.6h.01M304.3 138.9h.01M308.0 139.8h.01M311.8 144.8h.01M312.3 140.4h.01M310.6 139.5h.01M309.1 136.1h.01M312.2 140.8h.01M313.5 142.3h.01M311.3 138.7h.01M310.7 138.6h.01M312.0 136.3h.01M313.6 133.7h.01M315.0 128.1h.01M313.9 127.3h.01M315.2 126.6h.01M316.7 126.5h.01M317.8 128.4h.01M321.5 137.2h.01M321.8 138.6h.01M322.5 136.3h.01M323.5 135.1h.01M319.0 130.4h.01M319.2 133.0h.01M319.6 138.2h.01M320.0 137.6h.01M315.9 130.2h.01M319.5 135.8h.01M322.3 134.7h.01M318.5 129.0h.01M321.5 130.6h.01M322.2 131.5h.01M322.3 133.2h.01M321.1 131.4h.01M320.8 131.5h.01M324.1 135.4h.01M327.1 133.3h.01M325.7 131.1h.01M324.3 130.9h.01M324.5 126.2h.01M325.5 126.5h.01M322.5 124.9h.01M324.2 125.4h.01M323.8 127.1h.01M324.6 128.6h.01M323.8 123.7h.01M325.0 130.4h.01M325.4 133.0h.01M328.5 138.3h.01M324.1 135.7h.01M324.3 137.5h.01M321.7 140.0h.01M321.2 135.0h.01M320.3 131.7h.01M320.0 135.0h.01M319.3 134.6h.01M318.1 138.8h.01M317.0 132.4h.01M315.5 129.7h.01M316.8 129.0h.01M320.7 131.5h.01M320.5 131.6h.01M318.4 129.3h.01M321.4 127.0h.01M321.6 130.0h.01M323.8 127.1h.01M324.8 126.1h.01M329.7 135.1h.01M327.4 130.7h.01M323.4 128.2h.01M322.9 128.2h.01M324.4 130.9h.01M328.5 130.3h.01M326.7 130.1h.01M326.3 121.6h.01M323.8 121.6h.01M323.1 118.7h.01M326.8 123.7h.01M328.8 122.2h.01M329.6 121.6h.01M330.6 128.3h.01M332.1 133.1h.01M333.4 130.6h.01M332.4 127.8h.01M332.2 131.3h.01M332.2 130.5h.01M332.7 131.0h.01M329.1 133.2h.01M329.3 138.7h.01M328.6 132.4h.01M328.9 133.6h.01M328.1 136.6h.01M330.8 138.0h.01M332.3 133.3h.01M332.5 134.1h.01M338.5 129.8h.01M339.3 134.0h.01M341.0 133.1h.01M340.6 134.5h.01M340.8 135.0h.01M341.9 131.4h.01M339.4 123.1h.01M335.8 133.7h.01M339.7 131.7h.01M335.7 131.9h.01M333.0 128.3h.01M332.8 131.7h.01M332.0 129.8h.01M332.8 126.8h.01M336.4 129.9h.01M338.0 128.8h.01M333.5 131.2h.01M332.6 131.4h.01M333.8 129.0h.01M334.1 127.1h.01M330.9 125.0h.01M331.0 123.2h.01M334.6 122.1h.01M335.6 120.8h.01M336.3 116.4h.01M335.1 113.9h.01M338.1 114.6h.01M341.1 124.5h.01M340.7 120.0h.01M342.5 121.4h.01M342.5 121.3h.01M341.0 118.6h.01M338.6 117.3h.01M338.0 123.8h.01M338.7 122.3h.01M338.0 121.2h.01M338.7 122.8h.01M340.2 122.6h.01M345.7 122.3h.01M345.5 119.4h.01M342.9 123.2h.01M340.0 127.8h.01M341.6 126.5h.01M343.8 122.4h.01M343.3 121.4h.01M345.3 120.4h.01M345.1 120.6h.01M344.2 124.7h.01M343.2 122.3h.01M343.2 122.4h.01M343.8 121.7h.01M342.6 115.1h.01M340.6 118.3h.01M338.6 114.7h.01M342.4 122.9h.01M341.9 126.1h.01M346.1 125.7h.01M343.1 125.2h.01M343.5 126.4h.01M343.5 127.7h.01M341.5 129.0h.01M338.3 127.7h.01M338.3 130.1h.01M343.3 134.5h.01M340.4 127.5h.01M343.0 130.8h.01M343.3 126.8h.01M342.4 118.0h.01M340.6 126.9h.01M340.9 129.1h.01M336.3 125.4h.01M340.3 129.5h.01M342.9 129.0h.01M342.8 120.4h.01M343.4 116.6h.01M345.9 116.0h.01M350.8 123.2h.01M351.5 123.9h.01M354.7 128.1h.01M353.4 131.2h.01M353.1 129.8h.01M350.5 129.2h.01M350.1 131.0h.01M351.4 132.5h.01M352.1 126.3h.01M351.5 126.1h.01M357.2 136.0h.01M356.1 133.3h.01M360.4 136.9h.01M358.8 130.8h.01M358.5 133.9h.01M359.3 131.5h.01M361.6 136.2h.01M356.9 127.7h.01M359.2 125.2h.01M354.7 117.1h.01M354.3 120.9h.01M351.6 126.2h.01M346.5 121.3h.01M349.1 120.8h.01M343.1 122.6h.01M349.4 128.3h.01M346.5 125.3h.01M343.5 121.8h.01M348.2 124.2h.01M345.4 124.3h.01M346.5 126.6h.01M348.1 131.3h.01M349.3 131.7h.01M353.8 132.9h.01M359.1 133.4h.01M357.6 137.8h.01M355.2 135.9h.01M359.1 130.0h.01M360.8 129.6h.01M361.8 122.2h.01M365.2 121.7h.01M362.3 117.4h.01M357.5 112.7h.01M357.2 108.6h.01M357.7 109.2h.01M361.7 112.0h.01M361.5 111.5h.01M366.4 112.5h.01M364.6 120.3h.01M360.4 121.1h.01M358.1 118.5h.01M353.9 114.6h.01M353.6 112.1h.01M351.9 110.6h.01M354.8 109.4h.01M355.2 109.2h.01M356.1 108.9h.01M355.2 109.3h.01M355.4 109.2h.01M355.7 111.3h.01M354.6 112.9h.01M356.3 114.3h.01M351.2 110.9h.01M351.3 110.9h.01M351.1 110.9h.01M354.3 109.7h.01M354.3 109.7h.01M352.8 114.1h.01M353.6 113.7h.01M356.1 115.6h.01M357.4 114.0h.01M359.1 112.0h.01M362.6 116.4h.01M363.1 114.3h.01M366.6 116.1h.01M365.1 115.1h.01M364.9 111.6h.01M365.2 112.5h.01M365.1 110.0h.01M367.0 113.7h.01M365.2 111.0h.01M363.6 108.1h.01M363.8 108.4h.01M361.0 115.2h.01M360.7 107.7h.01M364.9 114.9h.01M365.3 117.7h.01M365.7 122.0h.01M365.9 123.4h.01M367.3 117.5h.01M368.0 125.8h.01M370.0 124.7h.01M367.0 125.2h.01M365.8 124.2h.01M369.6 125.0h.01M368.4 124.4h.01M365.7 124.4h.01M366.0 119.1h.01M366.1 122.8h.01M367.3 127.7h.01M368.0 121.2h.01M368.3 128.1h.01M369.1 124.0h.01M368.8 123.8h.01M369.2 123.3h.01M368.6 120.2h.01M365.7 116.1h.01M364.6 114.7h.01M364.6 118.0h.01M367.1 117.4h.01M366.1 116.9h.01M365.4 122.4h.01M366.6 120.0h.01M369.1 121.2h.01M369.8 120.9h.01M370.3 128.9h.01M367.2 121.9h.01M369.0 121.5h.01M371.7 118.6h.01M371.5 118.1h.01M372.7 124.0h.01M371.1 121.1h.01M370.0 116.1h.01M371.8 128.4h.01M372.2 130.2h.01M373.8 131.0h.01M374.2 125.5h.01M373.4 122.2h.01M372.3 119.0h.01M374.3 123.9h.01M372.1 121.2h.01M373.6 117.6h.01M373.3 118.1h.01M370.8 113.4h.01M370.2 119.6h.01M369.9 110.7h.01M375.9 110.8h.01M376.1 116.3h.01M374.1 120.7h.01M376.4 117.4h.01M374.2 112.7h.01M372.2 114.0h.01M373.5 110.7h.01M376.1 109.5h.01M380.2 106.0h.01M380.7 107.0h.01M379.1 110.1h.01M379.9 117.8h.01M382.1 112.1h.01M385.1 113.3h.01M383.2 117.8h.01M386.1 116.1h.01M384.9 116.2h.01M381.4 111.4h.01M382.3 107.3h.01M382.7 110.7h.01M380.7 120.8h.01M379.6 125.2h.01M380.2 124.6h.01M380.9 119.0h.01M379.4 122.1h.01M380.5 110.3h.01M378.7 108.6h.01M378.1 114.0h.01M381.3 120.4h.01M383.4 115.5h.01M384.0 121.8h.01M382.6 115.9h.01M383.7 116.5h.01M386.1 116.1h.01M384.6 114.2h.01M384.2 114.2h.01M383.8 118.0h.01M380.7 117.9h.01M382.4 116.2h.01M382.3 117.2h.01M384.5 115.5h.01M384.8 119.7h.01M386.0 112.1h.01M389.4 122.9h.01M390.3 118.6h.01M386.9 117.4h.01M386.1 119.0h.01M384.5 116.7h.01M387.7 113.0h.01M390.3 118.1h.01M390.6 122.7h.01M384.8 119.3h.01M383.5 119.4h.01M386.7 117.6h.01M386.9 119.9h.01M389.0 120.5h.01M387.1 123.9h.01M386.6 118.3h.01M389.4 118.0h.01M392.8 123.3h.01M390.9 123.6h.01M387.2 119.1h.01M387.1 114.0h.01M387.0 118.3h.01M381.6 111.1h.01M384.4 114.1h.01M383.3 115.1h.01M382.1 115.3h.01M382.6 114.1h.01M384.6 116.4h.01M380.8 111.8h.01M384.2 116.2h.01M388.7 117.1h.01M390.1 115.1h.01M394.1 117.9h.01M397.6 120.7h.01M393.8 112.3h.01M395.9 116.1h.01M390.2 108.8h.01M390.5 113.3h.01M393.2 122.0h.01M392.5 124.5h.01M393.4 114.6h.01M395.6 112.4h.01M392.2 112.8h.01M395.7 116.8h.01M395.1 114.6h.01M398.7 120.1h.01M399.4 119.6h.01M399.4 115.2h.01M397.4 117.1h.01M396.5 119.6h.01M393.3 113.6h.01M393.6 108.3h.01M395.8 112.7h.01M399.1 120.1h.01M395.8 113.1h.01M396.8 110.5h.01M396.7 108.4h.01M398.2 104.5h.01M402.2 104.8h.01M404.7 109.7h.01M404.0 115.0h.01M400.9 115.0h.01M399.3 111.8h.01M400.2 112.6h.01M402.3 117.8h.01M402.6 116.6h.01M401.6 113.9h.01M404.6 114.5h.01M404.7 116.1h.01M406.7 115.0h.01M407.1 116.5h.01M404.5 112.9h.01M404.5 113.0h.01M405.7 121.6h.01M405.4 119.8h.01M399.2 114.6h.01M400.2 115.6h.01M401.1 109.5h.01M404.6 113.2h.01M402.8 112.2h.01M400.4 111.0h.01M402.9 108.7h.01M400.1 108.7h.01M400.1 107.0h.01M399.8 106.2h.01M400.6 103.3h.01M402.9 102.4h.01M405.3 99.2h.01M401.8 104.5h.01M401.4 101.8h.01M398.0 99.5h.01M397.7 102.1h.01M396.0 108.0h.01M396.9 106.4h.01M397.1 110.5h.01M398.9 111.9h.01M401.1 109.4h.01M401.9 113.5h.01M404.0 111.6h.01M406.6 110.4h.01M406.0 113.5h.01M405.8 114.6h.01M404.6 112.4h.01M402.5 115.7h.01M403.9 118.6h.01M406.6 120.6h.01M409.4 109.4h.01M405.0 114.2h.01M405.2 108.5h.01M405.4 111.6h.01M404.9 115.6h.01M404.0 113.2h.01M405.9 110.4h.01M410.2 101.0h.01M405.7 106.2h.01M402.7 110.9h.01M405.6 109.5h.01M404.7 109.0h.01M403.5 112.8h.01M407.0 113.0h.01M405.2 121.4h.01M406.6 122.1h.01M406.7 116.0h.01M406.6 113.6h.01M407.0 113.8h.01M404.7 119.1h.01M409.6 114.1h.01M409.7 117.3h.01M414.2 113.7h.01M417.1 114.0h.01M416.2 114.0h.01M418.0 106.3h.01M417.4 110.8h.01M417.7 110.5h.01M415.1 115.1h.01M416.6 110.4h.01M416.6 109.8h.01M422.5 109.4h.01M420.3 105.0h.01M420.3 107.8h.01M415.8 116.1h.01M416.4 117.5h.01M417.2 113.8h.01M416.8 114.4h.01M417.1 112.1h.01M414.9 115.1h.01M415.7 112.4h.01M418.1 115.6h.01M419.6 117.0h.01M420.7 116.6h.01M421.2 116.5h.01M420.8 114.0h.01M414.5 118.7h.01M418.6 113.2h.01M418.7 109.6h.01M415.3 114.2h.01M414.6 112.8h.01M413.9 113.7h.01M412.9 115.2h.01M417.1 114.5h.01M418.4 119.5h.01M420.0 116.1h.01M419.7 119.4h.01M418.8 120.6h.01M417.5 124.8h.01M417.0 123.8h.01M419.3 120.7h.01M415.9 120.7h.01M412.1 118.1h.01M418.8 114.9h.01M419.9 114.1h.01M419.8 115.6h.01M421.6 115.1h.01M422.3 114.9h.01M423.7 115.9h.01M418.6 122.0h.01M416.8 123.5h.01M419.1 125.6h.01M422.4 119.7h.01M420.6 120.0h.01M418.9 117.9h.01M419.9 125.8h.01M422.5 125.2h.01M425.7 120.5h.01M422.5 119.7h.01M421.7 118.8h.01M420.3 117.1h.01M420.1 110.0h.01M419.1 112.2h.01M418.6 114.2h.01M420.7 122.3h.01M422.6 112.9h.01M423.1 118.3h.01M424.0 118.9h.01M425.9 118.9h.01M424.8 122.1h.01M426.6 122.9h.01M427.9 119.3h.01M431.0 117.9h.01M430.5 121.5h.01M428.3 120.3h.01M429.0 117.5h.01M434.8 113.7h.01M438.0 114.0h.01M434.1 116.2h.01M433.2 118.6h.01M436.1 119.3h.01M434.2 123.8h.01M432.4 122.6h.01M435.2 118.4h.01M435.3 117.7h.01M428.4 123.5h.01M431.9 118.5h.01M431.5 120.2h.01M430.1 126.4h.01M436.3 121.1h.01M437.6 125.4h.01M440.8 123.3h.01M442.5 124.5h.01M440.6 120.0h.01M437.6 119.1h.01M440.7 112.4h.01M437.8 117.4h.01M436.0 122.7h.01M435.4 120.6h.01M437.0 119.4h.01M441.5 116.2h.01M439.2 118.9h.01M440.7 113.2h.01M436.9 118.7h.01M434.0 114.4h.01M434.7 112.6h.01M435.4 110.8h.01M434.7 115.4h.01M431.5 120.7h.01M435.8 119.1h.01M437.2 121.6h.01M437.3 131.4h.01M430.6 132.3h.01M432.7 124.3h.01M431.3 133.2h.01M433.6 130.2h.01M436.4 125.4h.01M435.0 129.1h.01M436.6 131.5h.01M439.7 119.8h.01M437.6 124.5h.01M441.0 130.4h.01M439.2 132.2h.01M440.8 132.3h.01M440.9 131.2h.01M443.0 128.1h.01M441.9 129.7h.01M441.4 136.8h.01M443.9 134.3h.01M442.6 134.6h.01M441.4 132.6h.01M439.3 134.4h.01M438.0 132.0h.01M442.3 128.4h.01M445.4 129.9h.01M439.5 135.2h.01M440.7 123.7h.01M440.4 127.2h.01M443.7 121.6h.01M441.4 120.4h.01M441.4 116.3h.01M442.6 112.8h.01M442.8 123.2h.01M441.5 120.4h.01M444.3 118.5h.01M442.1 120.7h.01M444.2 120.8h.01M442.9 121.5h.01M441.5 127.9h.01M445.0 116.0h.01M445.2 120.9h.01M447.3 115.1h.01M446.2 120.7h.01M444.8 127.7h.01M447.3 127.9h.01M451.1 124.1h.01M451.9 114.9h.01M452.0 115.1h.01M449.7 114.4h.01M453.0 111.9h.01M451.3 111.8h.01M451.2 118.0h.01M453.2 122.5h.01M446.7 122.1h.01M445.9 126.6h.01M443.5 119.3h.01M443.1 127.9h.01M443.6 134.3h.01M441.4 133.2h.01M444.7 134.7h.01M450.0 135.7h.01M449.1 127.6h.01M449.1 131.0h.01M452.6 133.2h.01M452.8 127.1h.01M450.2 132.4h.01M451.2 129.3h.01M450.0 136.4h.01M452.4 128.7h.01M450.6 124.2h.01M453.2 117.5h.01M450.3 119.7h.01M449.9 118.7h.01M445.6 115.9h.01M451.7 118.9h.01M451.3 111.9h.01M450.7 114.2h.01M451.6 113.0h.01M451.8 111.9h.01M452.8 112.1h.01M457.3 111.6h.01M459.8 111.5h.01M457.8 111.6h.01M457.7 112.6h.01M457.0 114.6h.01M457.5 115.2h.01M455.4 123.5h.01M454.7 127.8h.01M451.4 124.7h.01M453.1 126.6h.01M452.3 130.5h.01M454.7 123.6h.01M455.4 127.5h.01M452.4 124.5h.01M456.4 125.1h.01M452.4 127.9h.01M458.5 122.2h.01M461.7 121.8h.01M464.8 127.3h.01M467.5 130.9h.01M468.3 125.8h.01M466.4 123.3h.01M463.9 125.5h.01M463.1 121.3h.01M457.4 123.5h.01M458.4 122.5h.01M458.3 124.9h.01M458.8 124.3h.01M458.1 129.4h.01M455.2 132.3h.01M456.0 133.6h.01M455.6 132.3h.01M455.4 135.4h.01M456.0 130.4h.01M458.3 130.0h.01M461.2 129.7h.01M458.6 133.2h.01M459.2 125.7h.01M455.5 119.2h.01M453.8 123.3h.01M452.5 124.4h.01M453.3 118.3h.01M454.5 115.2h.01M456.1 116.0h.01M457.0 116.8h.01M457.5 117.8h.01M455.2 122.3h.01M457.2 123.0h.01M455.8 126.7h.01M458.0 128.3h.01M458.0 129.0h.01M462.7 130.7h.01M460.6 132.9h.01M462.0 133.3h.01M464.5 131.5h.01M463.5 129.7h.01M462.9 128.8h.01M466.8 123.2h.01M468.3 128.4h.01M468.4 130.5h.01M467.0 125.8h.01M465.7 126.2h.01M462.6 123.4h.01M466.6 120.4h.01M466.6 124.0h.01M467.9 126.9h.01M470.8 121.9h.01M471.9 124.3h.01M470.9 126.9h.01M473.5 123.6h.01M468.8 128.0h.01M471.7 121.0h.01M472.5 118.7h.01M471.7 123.5h.01M472.7 125.5h.01M474.4 130.4h.01M472.0 137.9h.01M472.7 130.5h.01M471.8 126.6h.01M471.5 125.9h.01M473.3 122.1h.01M472.2 123.9h.01M469.9 126.8h.01M469.8 123.2h.01M473.4 123.1h.01M475.8 127.8h.01M477.4 119.1h.01M479.9 122.5h.01M478.5 125.7h.01M476.1 132.3h.01M474.3 127.6h.01M474.8 132.9h.01M475.9 127.3h.01M473.0 130.6h.01M478.4 126.6h.01M479.4 129.7h.01M475.4 131.2h.01M471.4 133.4h.01M472.9 122.3h.01M473.5 121.0h.01M471.3 122.4h.01M471.5 126.5h.01M471.8 125.2h.01M472.1 121.8h.01M475.0 121.6h.01M472.2 122.9h.01M472.6 118.1h.01M470.2 121.4h.01M471.0 123.7h.01M471.9 125.5h.01M476.5 132.0h.01M474.3 132.6h.01M474.7 134.9h.01M474.8 130.8h.01M475.3 127.7h.01M474.2 123.2h.01M472.1 124.4h.01M471.8 118.3h.01M470.6 124.2h.01M473.3 127.7h.01M473.7 124.6h.01M477.5 121.1h.01M475.6 123.4h.01M472.3 124.4h.01M472.2 120.9h.01M472.1 125.9h.01M477.1 129.6h.01M474.5 136.5h.01M476.7 138.7h.01M476.3 138.7h.01M475.7 133.9h.01M478.3 133.4h.01M477.5 130.9h.01M481.7 131.0h.01M483.2 128.6h.01M484.5 129.0h.01M484.1 123.7h.01M485.1 118.9h.01M486.3 126.5h.01M484.0 128.4h.01M484.4 120.8h.01M482.3 123.3h.01M482.3 118.4h.01M483.4 114.0h.01M479.6 115.6h.01M480.3 116.6h.01M479.4 120.3h.01M481.8 121.0h.01M479.8 120.6h.01M479.7 122.0h.01M479.4 127.0h.01M482.5 126.9h.01M482.8 127.2h.01M486.4 126.7h.01M487.4 131.9h.01M485.9 125.3h.01M483.5 122.5h.01M483.0 126.2h.01M484.2 130.0h.01M484.0 130.4h.01M482.3 128.2h.01M484.0 126.3h.01M483.4 129.2h.01M482.4 126.0h.01M483.7 124.4h.01M483.0 130.7h.01M481.2 122.2h.01M481.2 127.5h.01M483.0 127.2h.01M481.2 133.5h.01M479.2 131.9h.01M481.9 129.5h.01M484.0 137.3h.01M484.7 131.3h.01M486.5 122.6h.01M485.3 122.6h.01M485.6 125.8h.01M483.6 122.4h.01M483.7 122.7h.01M485.3 119.5h.01M483.8 127.1h.01M484.3 127.3h.01M484.9 129.6h.01M487.8 133.2h.01M486.8 134.3h.01M484.7 131.8h.01M484.4 127.6h.01M484.0 125.4h.01M486.2 123.5h.01M488.6 131.7h.01M486.3 132.9h.01M486.9 135.2h.01M488.5 134.3h.01M489.2 125.4h.01M488.9 129.5h.01M486.9 136.7h.01M490.4 132.2h.01M491.9 132.1h.01M490.1 129.0h.01M490.6 132.5h.01M488.0 135.9h.01M489.9 131.6h.01M492.4 129.0h.01M488.8 127.7h.01M488.4 132.4h.01M488.8 131.6h.01M493.1 141.5h.01M494.4 141.6h.01M495.7 141.7h.01M495.4 141.7h.01M496.0 137.2h.01M496.9 141.6h.01M497.0 141.9h.01M498.1 142.0h.01M497.7 141.3h.01M495.1 140.6h.01M495.9 141.5h.01M496.2 141.8h.01M493.9 136.1h.01M492.5 134.9h.01M492.3 134.5h.01M495.7 139.9h.01M497.3 139.6h.01M500.8 138.3h.01M496.0 140.2h.01M497.3 139.0h.01M500.5 142.1h.01M499.6 139.4h.01M500.4 142.1h.01M498.5 142.0h.01M499.8 137.2h.01M499.8 137.8h.01M497.4 131.3h.01M500.2 132.5h.01M500.7 130.4h.01M501.7 133.4h.01M498.8 126.1h.01M500.9 130.5h.01M500.2 129.0h.01M501.8 136.1h.01M499.9 134.9h.01M502.9 134.4h.01M502.2 138.8h.01M502.9 135.7h.01M502.1 136.0h.01M499.6 128.2h.01M500.3 124.6h.01M503.4 127.7h.01M506.2 129.7h.01M505.6 129.1h.01M508.4 128.0h.01M508.0 127.4h.01M505.5 128.7h.01M505.9 122.1h.01M506.4 121.1h.01M508.9 117.9h.01M504.5 118.3h.01M507.3 123.8h.01M509.4 121.6h.01M510.8 118.2h.01M507.8 118.7h.01M505.2 114.3h.01M507.8 118.2h.01M507.8 114.4h.01M510.2 114.5h.01M507.9 114.4h.01M509.4 121.1h.01M510.7 121.2h.01M508.3 117.8h.01M508.3 114.4h.01M512.1 121.2h.01M510.5 122.8h.01M512.7 127.1h.01M512.8 123.7h.01M511.0 119.2h.01M509.8 126.3h.01M508.1 126.8h.01M512.5 123.6h.01M509.2 129.1h.01M507.3 129.7h.01M508.3 128.2h.01M511.1 125.7h.01M509.3 115.1h.01M508.2 117.9h.01M508.2 128.0h.01M508.4 129.5h.01M509.7 119.4h.01M508.9 128.2h.01M509.4 136.6h.01M511.6 136.2h.01M509.9 132.3h.01M507.7 125.9h.01M507.4 124.9h.01M508.7 130.9h.01M515.1 130.8h.01M516.8 134.9h.01M518.2 122.6h.01M512.3 118.1h.01M509.0 124.0h.01M511.4 126.9h.01M511.2 125.1h.01M510.7 123.9h.01M513.6 118.2h.01M516.5 122.6h.01M518.0 119.8h.01M518.3 126.7h.01M514.9 120.1h.01M514.9 126.0h.01M517.2 126.6h.01M516.9 132.3h.01M514.3 132.8h.01M510.0 141.3h.01M510.9 132.6h.01M513.3 135.6h.01M512.7 139.6h.01M513.5 137.1h.01M515.5 132.5h.01M515.3 131.1h.01M516.0 125.9h.01M515.5 129.1h.01M515.2 117.7h.01M517.2 118.9h.01M519.0 123.5h.01M519.0 127.4h.01M516.5 131.5h.01M518.2 136.1h.01M520.6 133.8h.01M522.5 133.9h.01M524.1 129.1h.01M524.2 127.3h.01M523.6 132.8h.01M524.8 131.9h.01M526.0 135.4h.01M527.1 132.4h.01M525.0 140.0h.01M521.4 136.8h.01M522.7 141.0h.01M523.9 138.3h.01M524.9 130.0h.01M526.2 123.6h.01M523.2 125.1h.01M522.5 120.8h.01M524.4 124.6h.01M523.9 123.6h.01M524.1 120.4h.01M527.5 121.9h.01M529.1 120.4h.01M528.0 120.8h.01M528.6 125.5h.01M527.2 123.0h.01M528.3 127.4h.01M525.8 121.6h.01M523.0 126.3h.01M527.0 129.6h.01M529.4 121.0h.01M527.7 124.1h.01M529.0 124.9h.01M524.5 120.0h.01M525.5 127.7h.01M528.5 138.5h.01M530.4 137.9h.01M530.9 136.9h.01M531.0 139.7h.01M531.6 141.0h.01M535.8 141.0h.01M534.4 142.5h.01M534.7 142.5h.01M536.0 142.5h.01M533.9 140.6h.01M536.9 137.9h.01M532.5 129.4h.01M532.3 129.0h.01M531.6 123.7h.01M531.9 131.3h.01M529.8 136.1h.01M529.8 134.2h.01M531.0 129.2h.01M530.1 134.5h.01M532.6 130.0h.01M529.1 131.5h.01M530.0 139.3h.01M534.1 139.0h.01M532.7 142.5h.01M533.4 142.5h.01M533.0 135.9h.01M532.5 137.0h.01M534.3 128.2h.01M532.0 126.0h.01M533.7 122.7h.01M531.6 126.0h.01M531.9 124.3h.01M534.4 126.7h.01M533.9 128.5h.01M534.6 128.0h.01M539.6 126.3h.01M539.9 130.5h.01M540.1 125.0h.01M541.2 121.3h.01M542.2 127.1h.01M541.8 126.0h.01M541.0 127.1h.01M541.6 133.0h.01M542.1 131.2h.01M544.4 128.8h.01M543.9 124.1h.01M545.0 124.8h.01M548.3 123.9h.01M544.0 123.6h.01M543.1 123.0h.01M542.6 126.6h.01M542.4 132.9h.01M544.7 121.9h.01M543.8 120.7h.01M543.8 119.0h.01M546.9 118.0h.01M542.2 121.5h.01M540.3 132.2h.01M538.4 130.0h.01M539.4 133.5h.01M541.4 137.7h.01M540.1 136.8h.01M543.5 135.8h.01M547.0 136.9h.01M545.0 133.6h.01M543.8 130.5h.01M542.1 132.1h.01M544.2 139.2h.01M543.3 131.7h.01M545.8 134.9h.01M548.0 133.9h.01M547.9 133.6h.01M545.8 127.7h.01M541.0 130.1h.01M542.2 122.2h.01M544.1 125.7h.01M544.7 125.5h.01M543.4 123.6h.01M546.1 123.4h.01M546.6 128.8h.01M547.9 123.8h.01M549.9 130.8h.01M551.8 132.0h.01M552.8 132.9h.01M549.2 133.5h.01M549.9 131.5h.01M549.4 122.9h.01M548.6 128.5h.01M547.3 132.8h.01M545.6 128.3h.01M545.6 131.7h.01M545.7 129.0h.01M546.7 132.2h.01M543.3 123.5h.01M542.8 126.1h.01M545.7 134.2h.01M548.8 132.9h.01M548.6 130.4h.01M548.6 140.8h.01M552.9 137.5h.01M550.8 135.9h.01M553.2 136.7h.01M554.8 132.1h.01M555.3 130.2h.01M557.2 130.9h.01M558.2 133.8h.01M557.1 128.1h.01M558.3 131.0h.01M562.5 125.1h.01M561.7 121.2h.01M562.8 125.6h.01M565.3 118.9h.01M562.2 124.1h.01M561.4 127.6h.01M558.9 133.6h.01M558.8 133.8h.01M557.3 128.7h.01M559.6 129.1h.01M558.6 124.2h.01M559.8 126.9h.01M559.9 127.1h.01M560.6 131.3h.01M558.3 127.9h.01M560.3 129.0h.01M559.7 124.7h.01M559.2 128.5h.01M557.7 130.8h.01M558.8 131.3h.01M558.0 132.8h.01M556.8 133.6h.01M557.0 127.5h.01M552.9 123.1h.01M556.2 120.6h.01M555.8 114.5h.01M558.4 118.9h.01M556.2 114.5h.01M552.9 114.6h.01M552.2 114.6h.01M554.3 114.5h.01M557.9 120.1h.01M561.2 115.0h.01M563.6 121.2h.01M561.9 125.7h.01M560.9 127.0h.01M561.9 125.7h.01M563.5 123.1h.01M561.5 118.5h.01M559.9 124.2h.01M557.7 121.1h.01M561.0 122.0h.01M559.6 126.5h.01M560.8 123.2h.01M561.5 128.0h.01M562.9 126.2h.01M560.1 122.7h.01M560.9 122.5h.01M563.4 128.6h.01M564.9 126.4h.01M564.3 120.7h.01M566.0 122.0h.01M566.5 122.9h.01M565.9 128.8h.01M566.2 122.6h.01M570.8 126.0h.01M569.3 123.8h.01M566.0 130.2h.01M567.7 128.3h.01M569.3 126.4h.01M570.1 132.7h.01M569.7 129.5h.01M571.5 133.6h.01M575.0 129.7h.01M577.1 125.1h.01M571.8 123.8h.01M569.8 123.8h.01M570.3 127.7h.01M566.0 131.2h.01M570.1 127.9h.01M571.8 129.8h.01M570.1 123.3h.01M568.2 132.2h.01M571.0 130.9h.01M570.4 129.5h.01M571.2 133.2h.01M569.2 133.7h.01M567.4 131.1h.01M567.2 128.6h.01M568.1 124.5h.01M570.4 123.8h.01M569.7 124.9h.01M571.8 123.9h.01M571.1 124.2h.01M569.8 121.2h.01M569.5 123.7h.01M569.2 122.0h.01M567.5 121.6h.01M564.8 115.6h.01M567.2 120.3h.01M568.8 123.0h.01M571.2 118.3h.01M568.6 119.3h.01M568.9 114.4h.01M567.2 114.4h.01M571.1 114.4h.01M575.2 114.5h.01M576.6 117.5h.01M579.4 119.9h.01M576.1 114.9h.01M575.9 114.5h.01M576.6 114.5h.01M577.8 114.5h.01M578.0 121.4h.01M579.4 120.9h.01M579.8 125.5h.01M579.0 126.4h.01M581.5 127.7h.01M580.3 119.0h.01M581.6 117.3h.01M582.5 124.8h.01M579.9 121.7h.01M579.1 121.2h.01M583.5 126.6h.01M583.2 119.0h.01M584.3 120.5h.01M583.0 117.4h.01M585.0 121.0h.01M584.7 126.3h.01M586.4 120.0h.01M587.7 116.3h.01M585.3 124.9h.01M585.0 122.6h.01M586.1 121.7h.01M583.8 120.5h.01M584.0 120.4h.01M583.5 124.5h.01M585.0 119.0h.01M582.9 121.1h.01M584.1 118.4h.01M586.0 114.5h.01M584.9 114.5h.01M584.2 114.5h.01M585.9 114.5h.01M584.9 114.9h.01M586.1 114.5h.01M588.6 114.6h.01M585.7 116.2h.01M586.7 124.2h.01M589.2 122.7h.01M586.0 128.7h.01M586.7 124.8h.01M587.7 127.7h.01M587.0 123.1h.01M587.7 122.7h.01M585.7 125.1h.01M586.1 131.0h.01M585.0 138.7h.01M587.0 132.7h.01M587.3 132.6h.01M587.7 127.3h.01M589.8 132.9h.01M590.6 132.0h.01M589.2 131.6h.01M588.9 130.4h.01M587.7 126.8h.01M589.2 131.5h.01M592.0 126.3h.01M595.6 132.3h.01M596.6 127.0h.01M594.4 131.1h.01M595.5 135.0h.01M592.9 140.0h.01M590.0 141.5h.01M588.3 140.8h.01M589.7 133.8h.01M586.9 132.0h.01M588.8 125.7h.01M589.2 119.3h.01M593.2 124.6h.01M593.2 128.0h.01M592.5 130.6h.01M590.5 128.0h.01M589.4 134.0h.01M590.6 136.6h.01M588.4 133.2h.01M584.1 135.4h.01M584.6 131.1h.01M585.7 135.1h.01M586.6 129.3h.01M587.1 128.6h.01M586.6 132.6h.01M584.9 129.3h.01M589.3 122.9h.01M591.7 117.3h.01M593.1 128.1h.01M592.6 132.7h.01M591.6 125.9h.01M591.9 117.0h.01M593.9 127.2h.01M594.6 127.1h.01M594.9 123.5h.01M596.5 121.7h.01M595.4 126.3h.01M594.1 135.2h.01M594.0 134.2h.01M594.2 129.0h.01M598.4 134.0h.01M602.9 127.7h.01M600.2 128.1h.01M598.5 128.6h.01M598.6 131.1h.01M594.9 129.3h.01M594.3 127.1h.01M597.9 133.6h.01M596.7 132.8h.01M596.2 130.2h.01M598.9 120.8h.01M602.7 125.9h.01M601.9 122.7h.01M601.8 129.3h.01M602.4 135.5h.01M604.1 136.3h.01M600.4 137.7h.01M601.3 140.8h.01M600.5 134.8h.01M601.4 137.1h.01M602.8 133.2h.01M598.2 136.0h.01M600.9 134.4h.01M601.5 135.6h.01M601.2 137.2h.01M602.5 133.4h.01M603.9 139.4h.01M608.2 141.4h.01M609.2 140.4h.01M610.1 131.2h.01M610.0 133.8h.01M610.7 134.6h.01M608.3 134.8h.01M609.4 127.3h.01M609.4 134.4h.01M610.3 119.6h.01M611.6 124.3h.01M608.2 130.6h.01M609.1 137.8h.01M610.1 130.7h.01M611.8 131.7h.01M607.2 125.7h.01M608.1 129.1h.01M605.4 126.6h.01M604.3 125.8h.01M605.5 122.7h.01M607.1 127.9h.01M607.6 128.2h.01M607.1 128.8h.01M606.6 129.4h.01M608.6 132.5h.01M610.4 133.4h.01M610.7 139.4h.01M607.2 137.2h.01M603.2 140.1h.01M601.1 138.1h.01M601.5 135.4h.01M604.5 138.6h.01M604.6 138.1h.01M604.3 128.7h.01M604.9 126.5h.01M605.2 123.8h.01M605.2 121.5h.01M604.5 123.5h.01M604.2 124.2h.01M605.2 136.3h.01M606.0 124.0h.01M605.9 128.2h.01M608.4 124.3h.01M606.8 121.6h.01M608.9 129.3h.01M608.0 123.9h.01M609.9 122.9h.01M608.5 125.4h.01M609.6 135.8h.01M612.3 138.3h.01M614.1 135.4h.01M612.4 130.9h.01M611.7 136.1h.01M609.9 135.1h.01M609.9 131.2h.01M607.6 131.0h.01M607.9 129.2h.01M607.4 128.5h.01M608.3 125.0h.01M608.9 122.5h.01M609.8 124.8h.01M610.7 121.5h.01M613.5 124.7h.01M613.8 133.7h.01M613.4 139.9h.01M616.1 136.6h.01M610.2 135.3h.01M609.5 136.4h.01M608.7 134.3h.01M613.2 136.3h.01M615.4 138.9h.01M616.9 132.7h.01M617.4 138.2h.01M618.6 141.0h.01M621.6 141.2h.01M618.0 139.8h.01M616.5 135.5h.01M618.1 137.8h.01M616.7 133.4h.01M618.9 133.8h.01M620.7 129.5h.01M623.1 129.7h.01M619.5 126.0h.01M620.2 125.5h.01M622.6 125.5h.01M621.8 126.9h.01M623.6 117.4h.01M622.9 117.8h.01M620.8 122.3h.01M624.6 125.3h.01M621.7 128.2h.01M622.1 125.5h.01M622.2 128.6h.01M621.4 130.6h.01M620.5 123.3h.01M617.6 123.9h.01M619.1 122.1h.01M617.7 119.9h.01M622.7 126.4h.01M622.3 128.8h.01M619.6 129.0h.01M621.2 129.5h.01M623.6 128.3h.01M626.3 128.8h.01M625.8 131.8h.01M625.8 130.3h.01M625.7 130.3h.01M626.9 123.7h.01M629.7 123.5h.01M631.3 121.9h.01M630.1 126.8h.01M629.6 130.6h.01M629.2 130.1h.01M627.8 125.1h.01M625.8 125.0h.01M625.3 119.4h.01M626.9 123.3h.01M628.4 126.5h.01M626.3 122.7h.01M627.5 127.1h.01M627.6 132.4h.01M628.5 130.1h.01M630.3 136.6h.01M631.2 130.3h.01M632.7 123.1h.01M633.8 122.1h.01M634.9 117.4h.01M634.2 121.9h.01M630.7 132.0h.01M626.3 127.5h.01M626.7 123.7h.01M627.1 131.0h.01M624.6 124.2h.01M622.9 126.3h.01M619.9 127.9h.01M624.1 126.6h.01M620.7 125.3h.01M618.3 130.6h.01M621.7 133.9h.01M625.0 129.1h.01M625.0 127.0h.01M627.2 126.5h.01M629.4 128.5h.01M629.0 127.6h.01M634.9 119.8h.01M636.0 117.8h.01M636.7 116.9h.01M636.7 121.6h.01M637.5 120.3h.01M635.6 121.8h.01M635.5 116.0h.01M636.1 121.6h.01M637.1 130.0h.01M636.4 126.4h.01M637.0 120.7h.01M636.1 120.1h.01M639.1 119.2h.01M636.8 125.2h.01M634.3 128.6h.01M634.9 125.9h.01M636.9 126.5h.01M636.1 125.9h.01M636.6 122.3h.01M637.1 128.1h.01M638.2 129.7h.01M641.4 132.6h.01M639.2 135.4h.01M637.9 135.0h.01M638.3 137.5h.01M638.1 140.9h.01M639.2 137.0h.01M642.7 128.0h.01M643.9 136.4h.01M642.7 138.0h.01M644.2 138.9h.01M645.2 136.8h.01M648.8 135.6h.01M646.0 129.9h.01M646.3 130.5h.01M648.0 132.7h.01M649.0 130.7h.01M648.7 128.4h.01M646.7 128.8h.01M644.6 131.6h.01M642.7 132.2h.01M643.4 129.8h.01M644.6 128.7h.01M644.0 123.4h.01M643.1 138.8h.01M643.9 139.4h.01M641.1 134.1h.01M646.6 134.4h.01M645.0 125.7h.01M645.9 139.0h.01M646.0 134.4h.01M646.2 130.8h.01M647.0 132.7h.01M645.0 129.0h.01M649.2 128.1h.01M649.6 125.2h.01M646.4 122.2h.01M649.7 128.4h.01M651.0 128.6h.01M650.6 125.2h.01M650.9 116.1h.01M649.1 120.8h.01M653.4 114.6h.01M653.3 112.6h.01M651.9 115.0h.01M648.7 118.9h.01M647.1 122.3h.01M644.0 122.1h.01M644.7 119.8h.01M644.7 126.9h.01M643.9 126.7h.01M644.4 121.2h.01M646.1 126.0h.01M646.8 120.3h.01M646.4 127.6h.01M648.4 124.7h.01M648.6 127.2h.01M649.6 128.4h.01M649.7 126.6h.01M649.3 129.7h.01M653.6 131.2h.01M651.9 137.8h.01M648.5 141.3h.01M646.2 135.9h.01M645.1 141.4h.01M650.2 141.3h.01M656.8 141.3h.01M652.6 134.9h.01M654.9 141.3h.01M654.8 141.3h.01M658.9 141.3h.01M659.3 141.3h.01M657.8 141.3h.01M659.5 132.3h.01M659.5 139.3h.01M659.4 136.9h.01M655.6 137.7h.01M656.5 130.2h.01M657.1 130.9h.01M657.4 126.7h.01M657.0 119.0h.01M658.1 116.7h.01M657.9 121.1h.01M655.5 129.6h.01M656.7 121.4h.01M654.1 116.0h.01M655.4 117.5h.01M656.4 114.8h.01M660.5 112.2h.01M662.3 112.2h.01M664.4 114.1h.01M665.8 112.1h.01M664.4 115.4h.01M665.5 112.1h.01M666.7 112.5h.01M663.6 115.2h.01M662.4 126.3h.01M665.4 127.5h.01M668.3 132.5h.01M671.2 126.8h.01M672.6 120.6h.01M667.1 126.1h.01M664.9 129.2h.01M661.2 116.1h.01M658.5 117.7h.01M660.5 118.2h.01M659.9 131.9h.01M658.9 132.5h.01M658.0 129.0h.01M657.4 130.0h.01M656.1 126.4h.01M654.7 118.4h.01M658.1 115.2h.01M658.9 114.4h.01M656.3 114.4h.01M656.5 118.1h.01M657.7 117.7h.01M657.2 127.3h.01M659.4 117.8h.01M659.3 117.9h.01M661.0 123.8h.01M663.0 120.1h.01M663.7 127.5h.01M663.5 123.3h.01M665.2 119.9h.01M667.4 122.8h.01M670.3 125.2h.01M670.8 125.3h.01M667.5 128.7h.01M670.5 124.3h.01M667.2 120.5h.01M665.3 125.3h.01M670.2 135.6h.01M670.8 124.9h.01M674.8 124.3h.01M674.3 120.7h.01M673.4 128.8h.01M668.5 125.6h.01M668.6 130.6h.01M670.2 140.4h.01M671.1 128.9h.01M676.1 132.1h.01M677.2 134.8h.01M677.5 130.1h.01M679.0 119.1h.01M679.1 122.8h.01M679.4 120.3h.01M677.0 126.8h.01M672.7 131.4h.01M672.4 126.9h.01M671.7 135.1h.01M672.5 136.6h.01M674.2 138.4h.01M674.1 137.9h.01M671.5 141.5h.01M672.3 138.2h.01M674.5 132.6h.01M672.4 126.5h.01M674.5 130.4h.01M673.4 118.8h.01M672.6 124.2h.01M675.9 123.1h.01M675.7 119.0h.01M677.6 121.9h.01M679.2 113.0h.01M679.5 111.9h.01M682.9 113.0h.01M683.4 123.7h.01M684.8 123.7h.01M684.8 121.6h.01M680.3 127.9h.01M676.2 125.2h.01M676.0 119.8h.01M677.0 112.2h.01M680.6 121.5h.01M682.6 118.4h.01M681.3 122.6h.01M681.2 124.6h.01M681.7 118.2h.01M682.2 131.4h.01M682.9 124.5h.01M681.0 125.4h.01M682.5 116.8h.01M683.3 120.2h.01M682.4 121.9h.01M685.7 122.3h.01M686.9 127.5h.01M689.0 122.8h.01M687.9 122.2h.01M682.8 120.2h.01M684.1 126.7h.01M682.2 118.9h.01M679.9 120.6h.01M677.9 120.2h.01M675.6 121.0h.01M676.3 124.6h.01M674.8 123.2h.01M672.7 119.3h.01M671.5 115.6h.01M671.3 128.3h.01M670.1 122.9h.01M670.1 124.3h.01M673.2 118.7h.01M672.8 128.0h.01M673.8 122.7h.01M675.2 126.9h.01M671.6 129.1h.01M675.4 128.3h.01M679.3 130.7h.01M676.1 126.5h.01M677.0 122.4h.01M678.8 127.7h.01M679.3 125.5h.01M680.8 133.4h.01M680.9 132.8h.01M681.4 126.8h.01M682.8 138.0h.01M683.6 132.4h.01M685.4 129.5h.01M683.9 136.9h.01M683.8 130.5h.01M683.7 125.8h.01M684.7 124.3h.01M686.3 136.3h.01M685.4 138.5h.01M685.0 131.7h.01M683.6 130.4h.01M685.2 141.1h.01M685.2 137.5h.01M683.8 139.4h.01M685.3 133.2h.01M685.9 128.9h.01M687.6 135.5h.01M688.6 130.4h.01M689.5 129.2h.01M688.3 128.9h.01M687.3 126.2h.01M691.3 117.4h.01M690.5 126.2h.01M688.9 117.9h.01M691.4 113.6h.01M691.8 126.4h.01M693.1 117.2h.01M692.3 117.5h.01M693.2 117.0h.01M694.2 116.4h.01M690.9 115.0h.01M692.3 115.4h.01M690.4 115.2h.01M695.3 113.0h.01M697.1 116.7h.01M695.2 122.2h.01M694.0 129.4h.01M694.6 120.4h.01M693.1 127.7h.01M692.2 133.4h.01M690.9 128.5h.01M694.6 134.2h.01M696.0 130.3h.01M695.8 130.3h.01M698.1 133.5h.01M696.8 137.2h.01M703.1 138.9h.01M700.6 138.2h.01M703.7 138.1h.01M701.1 130.3h.01M698.8 135.9h.01M697.8 136.9h.01M700.6 141.2h.01M700.0 133.5h.01M700.9 133.2h.01M696.0 130.9h.01M693.2 129.2h.01M694.8 124.0h.01M694.5 125.3h.01M697.0 130.5h.01M698.0 123.5h.01M700.1 126.1h.01M699.5 132.1h.01M698.2 122.8h.01M701.5 120.4h.01M698.5 123.7h.01M696.7 113.7h.01M697.8 118.2h.01M697.0 120.5h.01M696.6 121.0h.01M695.9 123.5h.01M698.7 123.6h.01M696.2 127.4h.01M694.4 120.8h.01M694.9 121.5h.01M692.1 131.9h.01M693.5 134.0h.01M696.3 128.2h.01M700.2 129.6h.01M699.7 127.2h.01M697.7 127.4h.01M697.1 130.5h.01M701.1 127.3h.01M702.9 121.6h.01M707.4 124.2h.01M706.0 129.3h.01M706.0 130.6h.01M709.6 127.2h.01M707.5 134.4h.01M706.7 128.8h.01M707.5 125.5h.01M706.9 140.4h.01M707.6 137.1h.01M707.6 134.0h.01M708.0 133.0h.01M708.0 134.3h.01M708.0 125.3h.01M708.7 124.3h.01M709.3 126.2h.01M710.0 124.7h.01M709.3 124.9h.01M708.4 131.5h.01M708.3 130.2h.01M707.8 139.8h.01M708.2 138.3h.01" fill="none" stroke="#ff0000" stroke-width="3.4" stroke-linecap="round" stroke-linejoin="round"/></g>
<g><line x1="231.61" y1="201.23" x2="326.20" y2="209.60" stroke="#000" stroke-width="2.7"/><polygon points="213.60,199.70 232.95,209.07 234.25,193.73" fill="#000"/>
<line x1="229.60" y1="283.40" x2="311.20" y2="284.90" stroke="#000" stroke-width="2.7"/><polygon points="211.00,282.90 231.40,290.85 231.80,276.05" fill="#000"/>
<line x1="227.80" y1="364.12" x2="315.80" y2="365.80" stroke="#000" stroke-width="2.7"/><polygon points="209.60,363.80 229.67,371.75 229.93,356.55" fill="#000"/></g>
<g><rect x="200.10" y="606.80" width="52.50" height="283.95" fill="#000080" stroke="#000" stroke-width="2"/>
<path d="M218.05 573.60H234.65M226.35 573.60V639.90M218.05 639.90H234.65" stroke="#000" stroke-width="2.3" fill="none"/>
<rect x="276.22" y="709.00" width="52.50" height="181.75" fill="#808000" stroke="#000" stroke-width="2"/>
<path d="M294.17 683.00H310.77M302.47 683.00V735.00M294.17 735.00H310.77" stroke="#000" stroke-width="2.3" fill="none"/>
<rect x="352.34" y="823.70" width="52.50" height="67.05" fill="#ff0000" stroke="#000" stroke-width="2"/>
<path d="M370.29 803.10H386.89M378.59 803.10V843.40M370.29 843.40H386.89" stroke="#000" stroke-width="2.3" fill="none"/>
<rect x="428.46" y="785.00" width="52.50" height="105.75" fill="#ff00ff" stroke="#000" stroke-width="2"/>
<path d="M446.41 760.70H463.01M454.71 760.70V808.60M446.41 808.60H463.01" stroke="#000" stroke-width="2.3" fill="none"/>
<rect x="504.58" y="844.60" width="52.50" height="46.15" fill="#8000ff" stroke="#000" stroke-width="2"/>
<path d="M522.53 829.60H539.13M530.83 829.60V858.40M522.53 858.40H539.13" stroke="#000" stroke-width="2.3" fill="none"/>
<rect x="580.70" y="842.60" width="52.50" height="48.15" fill="#800080" stroke="#000" stroke-width="2"/>
<path d="M598.65 825.30H615.25M606.95 825.30V857.90M598.65 857.90H615.25" stroke="#000" stroke-width="2.3" fill="none"/></g>
<g><rect x="129.70" y="45.20" width="3.30" height="354.10" fill="#000"/>
<rect x="129.70" y="394.15" width="581.80" height="3.20" fill="#000"/>
<rect x="122.20" y="60.85" width="9.15" height="2.70" fill="#000"/>
<rect x="122.20" y="127.45" width="9.15" height="2.70" fill="#000"/>
<rect x="122.20" y="194.45" width="9.15" height="2.70" fill="#000"/>
<rect x="122.20" y="261.15" width="9.15" height="2.70" fill="#000"/>
<rect x="122.20" y="327.85" width="9.15" height="2.70" fill="#000"/>
<rect x="122.20" y="394.75" width="9.15" height="2.70" fill="#000"/>
<rect x="127.00" y="94.20" width="4.35" height="2.60" fill="#000"/>
<rect x="127.00" y="161.00" width="4.35" height="2.60" fill="#000"/>
<rect x="127.00" y="227.85" width="4.35" height="2.60" fill="#000"/>
<rect x="127.00" y="294.55" width="4.35" height="2.60" fill="#000"/>
<rect x="127.00" y="361.35" width="4.35" height="2.60" fill="#000"/>
<rect x="193.80" y="395.75" width="3.40" height="6.75" fill="#000"/>
<rect x="322.40" y="395.75" width="3.40" height="6.75" fill="#000"/>
<rect x="451.00" y="395.75" width="3.40" height="6.75" fill="#000"/>
<rect x="579.60" y="395.75" width="3.40" height="6.75" fill="#000"/>
<rect x="708.20" y="395.75" width="3.40" height="6.75" fill="#000"/>
<rect x="258.10" y="395.75" width="3.40" height="3.95" fill="#000"/>
<rect x="386.70" y="395.75" width="3.40" height="3.95" fill="#000"/>
<rect x="515.30" y="395.75" width="3.40" height="3.95" fill="#000"/>
<rect x="643.90" y="395.75" width="3.40" height="3.95" fill="#000"/>
<rect x="63.30" y="194.85" width="11.90" height="1.50" fill="#1a1a1a"/>
<rect x="60.10" y="262.75" width="12.80" height="1.50" fill="#1a1a1a"/>
<rect x="57.90" y="327.05" width="12.80" height="1.50" fill="#1a1a1a"/>
<rect x="56.90" y="394.45" width="13.10" height="1.50" fill="#1a1a1a"/>
<rect x="160.20" y="418.25" width="12.50" height="1.50" fill="#1a1a1a"/>
<rect x="287.90" y="417.85" width="12.80" height="1.50" fill="#1a1a1a"/>
<rect x="423.60" y="418.45" width="12.10" height="1.50" fill="#1a1a1a"/>
<rect x="552.40" y="418.45" width="13.10" height="1.50" fill="#1a1a1a"/>
<rect x="677.90" y="418.15" width="12.20" height="1.50" fill="#1a1a1a"/>
<rect x="520.45" y="203.10" width="3.20" height="140.25" fill="#000"/>
<rect x="520.45" y="341.05" width="135.25" height="2.30" fill="#000"/>
<rect x="517.20" y="229.90" width="4.85" height="2.20" fill="#000"/>
<rect x="517.20" y="299.70" width="4.85" height="2.20" fill="#000"/>
<rect x="519.30" y="264.90" width="2.75" height="2.00" fill="#000"/>
<rect x="519.30" y="334.20" width="2.75" height="2.00" fill="#000"/>
<rect x="541.10" y="342.20" width="2.60" height="3.50" fill="#000"/>
<rect x="623.40" y="342.20" width="2.60" height="3.50" fill="#000"/>
<rect x="582.30" y="342.20" width="2.40" height="2.10" fill="#000"/>
<rect x="479.00" y="230.10" width="12.40" height="1.60" fill="#666"/>
<rect x="471.20" y="300.10" width="12.40" height="1.60" fill="#555"/>
<polyline points="534.0,217.0 542.6,217.0 625.0,327.9 625.0,216.9 645.6,216.9" fill="none" stroke="#000" stroke-width="2.3" stroke-linejoin="round"/>
<rect x="187.15" y="521.40" width="2.90" height="370.80" fill="#000"/>
<rect x="181.20" y="889.30" width="463.80" height="2.90" fill="#000"/>
<rect x="181.30" y="562.00" width="7.30" height="2.80" fill="#000"/>
<rect x="181.30" y="643.80" width="7.30" height="2.80" fill="#000"/>
<rect x="181.30" y="725.40" width="7.30" height="2.80" fill="#000"/>
<rect x="181.30" y="807.80" width="7.30" height="2.80" fill="#000"/>
<rect x="184.70" y="521.60" width="3.90" height="2.00" fill="#000"/>
<rect x="184.70" y="603.30" width="3.90" height="2.00" fill="#000"/>
<rect x="184.70" y="685.00" width="3.90" height="2.00" fill="#000"/>
<rect x="184.70" y="767.00" width="3.90" height="2.00" fill="#000"/>
<rect x="184.70" y="848.98" width="3.90" height="2.00" fill="#000"/></g>
<g style="filter:grayscale(1)"><g stroke="#000" stroke-width="1.3" stroke-linejoin="round" transform="matrix(0.40303,0.00000,0.00000,0.32029,178.00,38.60)"><text font-size="100">A</text></g>
<g stroke="#000" stroke-width="1.3" stroke-linejoin="round" transform="matrix(0.31300,0.00000,0.00000,0.24200,72.50,69.40)"><text font-size="100"> .6</text><path d="M37.30 0.00L28.50 0.00L28.50 -54.80Q25.30 -51.80 20.10 -48.90Q14.90 -45.90 10.80 -44.40L10.80 -52.70Q18.20 -56.10 23.70 -60.90Q29.20 -65.70 31.50 -70.00L37.30 -70.00Z"/></g>
<g stroke="#000" stroke-width="1.3" stroke-linejoin="round" transform="matrix(0.31300,0.00000,0.00000,0.24200,72.80,136.35)"><text font-size="100">0.0</text></g>
<g stroke="#000" stroke-width="1.3" stroke-linejoin="round" transform="matrix(0.31300,0.00000,0.00000,0.24200,72.75,203.10)"><text font-size="100"> .6</text><path d="M37.30 0.00L28.50 0.00L28.50 -54.80Q25.30 -51.80 20.10 -48.90Q14.90 -45.90 10.80 -44.40L10.80 -52.70Q18.20 -56.10 23.70 -60.90Q29.20 -65.70 31.50 -70.00L37.30 -70.00Z"/></g>
<g stroke="#000" stroke-width="1.3" stroke-linejoin="round" transform="matrix(0.31300,0.00000,0.00000,0.24200,72.80,269.80)"><text font-size="100">3.2</text></g>
<g stroke="#000" stroke-width="1.3" stroke-linejoin="round" transform="matrix(0.31300,0.00000,0.00000,0.24200,72.71,336.35)"><text font-size="100">4.8</text></g>
<g stroke="#000" stroke-width="1.3" stroke-linejoin="round" transform="matrix(0.31300,0.00000,0.00000,0.24200,72.33,403.00)"><text font-size="100">6.4</text></g>
<g stroke="#000" stroke-width="1.3" stroke-linejoin="round" transform="matrix(0.31300,0.00000,0.00000,0.24200,169.62,426.10)"><text font-size="100"> 20</text><path d="M37.30 0.00L28.50 0.00L28.50 -54.80Q25.30 -51.80 20.10 -48.90Q14.90 -45.90 10.80 -44.40L10.80 -52.70Q18.20 -56.10 23.70 -60.90Q29.20 -65.70 31.50 -70.00L37.30 -70.00Z"/></g>
<g stroke="#000" stroke-width="1.3" stroke-linejoin="round" transform="matrix(0.31300,0.00000,0.00000,0.24200,297.77,425.95)"><text font-size="100"> 00</text><path d="M37.30 0.00L28.50 0.00L28.50 -54.80Q25.30 -51.80 20.10 -48.90Q14.90 -45.90 10.80 -44.40L10.80 -52.70Q18.20 -56.10 23.70 -60.90Q29.20 -65.70 31.50 -70.00L37.30 -70.00Z"/></g>
<g stroke="#000" stroke-width="1.3" stroke-linejoin="round" transform="matrix(0.31300,0.00000,0.00000,0.24200,435.48,425.95)"><text font-size="100">80</text></g>
<g stroke="#000" stroke-width="1.3" stroke-linejoin="round" transform="matrix(0.31300,0.00000,0.00000,0.24200,563.92,425.95)"><text font-size="100">60</text></g>
<g stroke="#000" stroke-width="1.3" stroke-linejoin="round" transform="matrix(0.31300,0.00000,0.00000,0.24200,692.54,425.60)"><text font-size="100">40</text></g>
<g stroke="#000" stroke-width="1.3" stroke-linejoin="round" transform="matrix(0.40493,0.00000,0.00000,0.32174,390.07,460.70)"><text font-size="100">mV</text></g>
<g stroke="#000" stroke-width="1.3" stroke-linejoin="round" transform="matrix(0.00000,-0.29883,0.39255,0.00000,38.66,260.79)"><text font-size="100">pA/pF</text></g>
<g stroke="#000" stroke-width="1.3" stroke-linejoin="round" transform="matrix(0.40000,0.00000,0.00000,0.29600,336.95,218.14)"><text font-size="100">c</text></g>
<g stroke="#000" stroke-width="1.3" stroke-linejoin="round" transform="matrix(0.40000,0.00000,0.00000,0.29600,321.80,296.75)"><text font-size="100">b</text></g>
<g stroke="#000" stroke-width="1.3" stroke-linejoin="round" transform="matrix(0.40000,0.00000,0.00000,0.29600,328.10,373.99)"><text font-size="100">a</text></g>
<g stroke="#000" stroke-width="1.3" stroke-linejoin="round" transform="matrix(0.18850,0.00000,0.00000,0.14500,493.14,235.25)"><text font-size="100">50</text></g>
<g stroke="#000" stroke-width="1.3" stroke-linejoin="round" transform="matrix(0.18850,0.00000,0.00000,0.14500,482.80,304.90)"><text font-size="100"> 00</text><path d="M37.30 0.00L28.50 0.00L28.50 -54.80Q25.30 -51.80 20.10 -48.90Q14.90 -45.90 10.80 -44.40L10.80 -52.70Q18.20 -56.10 23.70 -60.90Q29.20 -65.70 31.50 -70.00L37.30 -70.00Z"/></g>
<g stroke="#000" stroke-width="1.3" stroke-linejoin="round" transform="matrix(0.00000,-0.21268,0.29130,0.00000,471.00,293.39)"><text font-size="100">mV</text></g>
<g stroke="#000" stroke-width="1.3" stroke-linejoin="round" transform="matrix(0.18850,0.00000,0.00000,0.14500,537.27,359.30)"><text font-size="100">0</text></g>
<g stroke="#000" stroke-width="1.3" stroke-linejoin="round" transform="matrix(0.18850,0.00000,0.00000,0.14500,603.88,359.40)"><text font-size="100">2000</text></g>
<g stroke="#000" stroke-width="1.3" stroke-linejoin="round" transform="matrix(0.28341,0.00000,0.00000,0.22182,565.12,382.88)"><text font-size="100">msec</text></g>
<g stroke="#000" stroke-width="1.3" stroke-linejoin="round" transform="matrix(0.31698,0.00000,0.00000,0.32319,264.46,548.30)"><text font-size="100">B</text></g>
<g stroke="#000" stroke-width="1.3" stroke-linejoin="round" transform="matrix(0.24500,0.00000,0.00000,0.24500,141.78,570.90)"><text font-size="100">6.4</text></g>
<g stroke="#000" stroke-width="1.3" stroke-linejoin="round" transform="matrix(0.24500,0.00000,0.00000,0.24500,142.17,652.70)"><text font-size="100">4.8</text></g>
<g stroke="#000" stroke-width="1.3" stroke-linejoin="round" transform="matrix(0.24500,0.00000,0.00000,0.24500,142.44,734.55)"><text font-size="100">3.2</text></g>
<g stroke="#000" stroke-width="1.3" stroke-linejoin="round" transform="matrix(0.24500,0.00000,0.00000,0.24500,142.42,816.80)"><text font-size="100"> .6</text><path d="M37.30 0.00L28.50 0.00L28.50 -54.80Q25.30 -51.80 20.10 -48.90Q14.90 -45.90 10.80 -44.40L10.80 -52.70Q18.20 -56.10 23.70 -60.90Q29.20 -65.70 31.50 -70.00L37.30 -70.00Z"/></g>
<g stroke="#000" stroke-width="1.3" stroke-linejoin="round" transform="matrix(0.24500,0.00000,0.00000,0.24500,142.67,898.50)"><text font-size="100">0.0</text></g>
<g stroke="#000" stroke-width="1.3" stroke-linejoin="round" transform="matrix(0.00000,-0.31250,0.30106,0.00000,129.58,752.99)"><text font-size="100">pA/pF</text></g>
<g stroke="#000" stroke-width="2.2" stroke-linejoin="round" transform="matrix(0.27200,0.00000,0.00000,0.26000,295.95,675.74)"><text font-size="100">*</text></g>
<g stroke="#000" stroke-width="2.2" stroke-linejoin="round" transform="matrix(0.27200,0.00000,0.00000,0.26000,373.10,796.94)"><text font-size="100">*</text></g>
<g stroke="#000" stroke-width="2.2" stroke-linejoin="round" transform="matrix(0.27200,0.00000,0.00000,0.26000,437.70,747.39)"><text font-size="100">*</text></g>
<g stroke="#000" stroke-width="2.5" stroke-linejoin="round" transform="matrix(0.27200,0.00000,0.00000,0.26000,449.94,751.89)"><text font-size="100">,</text></g>
<g stroke="#000" stroke-width="2.5" stroke-linejoin="round" transform="matrix(0.22381,0.00000,0.00000,0.21139,457.73,743.13)"><text font-size="100">†</text></g>
<g stroke="#000" stroke-width="2.2" stroke-linejoin="round" transform="matrix(0.27200,0.00000,0.00000,0.26000,523.65,827.99)"><text font-size="100">*</text></g>
<g stroke="#000" stroke-width="2.2" stroke-linejoin="round" transform="matrix(0.27200,0.00000,0.00000,0.26000,600.30,823.44)"><text font-size="100">*</text></g>
<g stroke="#000" stroke-width="0.3" stroke-linejoin="round" transform="translate(209.80,903.71) rotate(45)"><text font-size="19.3292">control</text></g>
<g stroke="#000" stroke-width="0.3" stroke-linejoin="round" transform="translate(278.29,906.21) rotate(45)"><text font-size="19.3292">HNK (3 µM)</text></g>
<g stroke="#000" stroke-width="0.3" stroke-linejoin="round" transform="translate(353.97,901.49) rotate(45)"><text font-size="19.3292">HNK ( 0 µM)</text><path d="M59.82 0.00L58.12 0.00L58.12 -10.59Q57.51 -10.01 56.50 -9.45Q55.49 -8.87 54.70 -8.58L54.70 -10.19Q56.13 -10.84 57.20 -11.77Q58.26 -12.70 58.70 -13.53L59.82 -13.53Z"/></g>
<g stroke="#000" stroke-width="0.3" stroke-linejoin="round" transform="translate(436.77,902.34) rotate(45)"><text font-size="19.3292">HNK ( 0 µM)</text><path d="M59.82 0.00L58.12 0.00L58.12 -10.59Q57.51 -10.01 56.50 -9.45Q55.49 -8.87 54.70 -8.58L54.70 -10.19Q56.13 -10.84 57.20 -11.77Q58.26 -12.70 58.70 -13.53L59.82 -13.53Z"/></g>
<g stroke="#000" stroke-width="0.3" stroke-linejoin="round" transform="translate(413.50,909.07) rotate(45)"><text font-size="19.3292">+OXAL ( 0 µM)</text><path d="M81.16 0.00L79.46 0.00L79.46 -10.59Q78.84 -10.01 77.83 -9.45Q76.83 -8.87 76.03 -8.58L76.03 -10.19Q77.46 -10.84 78.53 -11.77Q79.59 -12.70 80.04 -13.53L81.16 -13.53Z"/></g>
<g stroke="#000" stroke-width="0.3" stroke-linejoin="round" transform="translate(512.54,906.66) rotate(45)"><text font-size="19.3292">IVA (3 µM)</text></g>
<g stroke="#000" stroke-width="0.3" stroke-linejoin="round" transform="translate(585.35,903.01) rotate(45)"><text font-size="19.3292">LNL ( 0 µM)</text><path d="M53.76 0.00L52.06 0.00L52.06 -10.59Q51.44 -10.01 50.43 -9.45Q49.43 -8.87 48.63 -8.58L48.63 -10.19Q50.07 -10.84 51.13 -11.77Q52.19 -12.70 52.64 -13.53L53.76 -13.53Z"/></g></g>
</svg>
</body></html>
